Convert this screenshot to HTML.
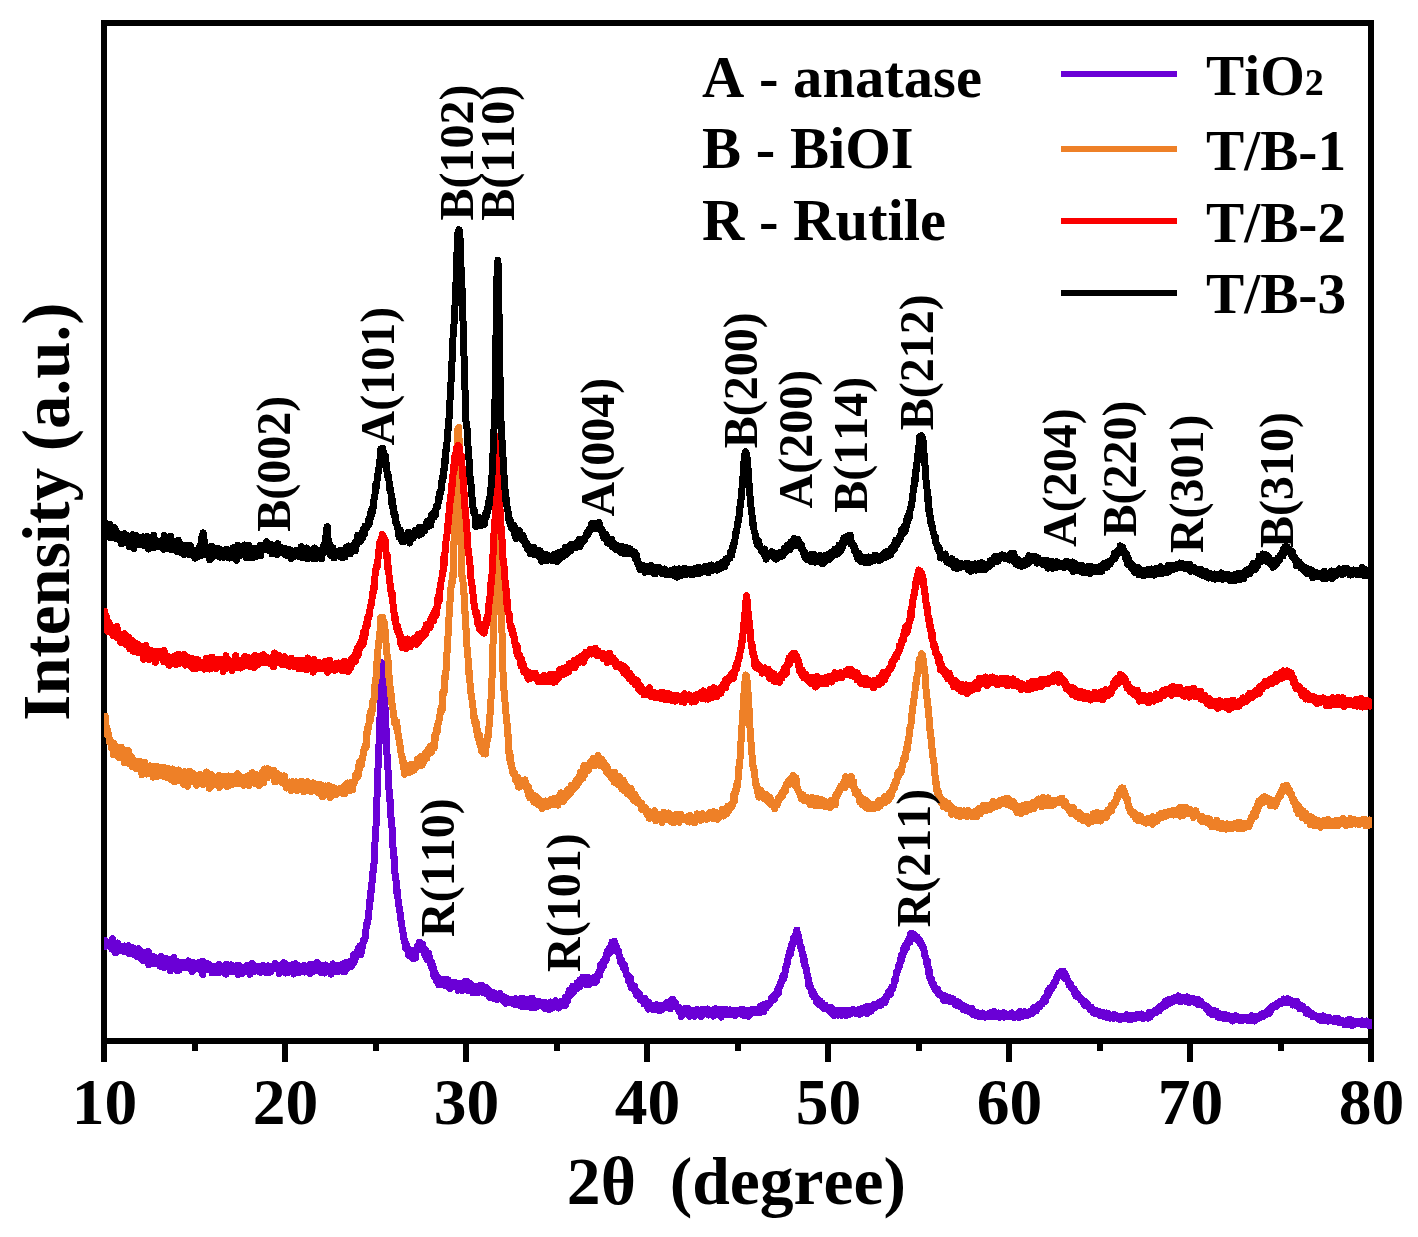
<!DOCTYPE html>
<html><head><meta charset="utf-8"><title>XRD</title>
<style>
html,body{margin:0;padding:0;background:#fff}
svg{display:block}
text{font-family:"Liberation Serif",serif;font-weight:bold;fill:#000;font-kerning:none}
</style></head><body>
<svg width="1418" height="1237" viewBox="0 0 1418 1237">
<rect width="1418" height="1237" fill="#fff"/>
<rect x="104" y="23" width="1267" height="1018" fill="none" stroke="#000" stroke-width="6" shape-rendering="crispEdges"/>
<g stroke="#000" stroke-width="6" shape-rendering="crispEdges"><line x1="104.0" y1="1041" x2="104.0" y2="1062"/><line x1="285.0" y1="1041" x2="285.0" y2="1062"/><line x1="466.0" y1="1041" x2="466.0" y2="1062"/><line x1="647.0" y1="1041" x2="647.0" y2="1062"/><line x1="828.0" y1="1041" x2="828.0" y2="1062"/><line x1="1009.0" y1="1041" x2="1009.0" y2="1062"/><line x1="1190.0" y1="1041" x2="1190.0" y2="1062"/><line x1="1371.0" y1="1041" x2="1371.0" y2="1062"/><line x1="194.5" y1="1041" x2="194.5" y2="1050.5"/><line x1="375.5" y1="1041" x2="375.5" y2="1050.5"/><line x1="556.5" y1="1041" x2="556.5" y2="1050.5"/><line x1="737.5" y1="1041" x2="737.5" y2="1050.5"/><line x1="918.5" y1="1041" x2="918.5" y2="1050.5"/><line x1="1099.5" y1="1041" x2="1099.5" y2="1050.5"/><line x1="1280.5" y1="1041" x2="1280.5" y2="1050.5"/></g>
<clipPath id="cp"><rect x="104" y="26" width="1268" height="1012"/></clipPath>
<g id="curves" shape-rendering="crispEdges" clip-path="url(#cp)">
<polyline fill="none" stroke="#6a00d6" stroke-width="7.0" stroke-linejoin="round" stroke-linecap="butt" points="104.0,944.5 104.4,945.9 104.7,944.7 105.1,940.3 105.4,946.4 105.8,945.2 106.2,942.6 106.5,945.7 106.9,945.3 107.3,945.2 107.6,944.4 108.0,945.9 108.3,942.6 108.7,944.3 109.1,943.5 109.4,946.3 109.8,945.0 110.2,944.2 110.5,943.1 110.9,944.7 111.2,945.4 111.6,944.9 112.0,949.1 112.3,948.5 112.7,938.7 113.0,941.1 113.4,945.9 113.8,945.4 114.1,947.2 114.5,947.2 114.9,952.4 115.2,943.9 115.6,945.9 115.9,952.6 116.3,948.8 116.7,949.1 117.0,946.0 117.4,943.0 117.8,947.9 118.1,947.9 118.5,944.3 118.8,945.9 119.2,947.5 119.6,945.4 119.9,947.8 120.3,948.4 120.7,948.2 121.0,946.9 121.4,949.9 121.7,950.9 122.1,949.5 122.5,946.5 122.8,950.8 123.2,947.6 123.5,951.3 123.9,946.0 124.3,951.5 124.6,949.3 125.0,946.0 125.4,948.7 125.7,949.6 126.1,950.4 126.4,947.1 126.8,946.9 127.2,950.5 127.5,948.8 127.9,950.7 128.3,952.3 128.6,945.8 129.0,951.1 129.3,953.7 129.7,949.8 130.1,948.5 130.4,952.8 130.8,951.5 131.2,953.4 131.5,950.3 131.9,947.4 132.2,951.2 132.6,950.4 133.0,954.0 133.3,952.7 133.7,948.0 134.0,949.3 134.4,955.1 134.8,954.7 135.1,951.3 135.5,953.0 135.9,954.3 136.2,954.5 136.6,955.8 136.9,954.3 137.3,953.5 137.7,953.2 138.0,957.0 138.4,948.6 138.8,954.4 139.1,955.0 139.5,951.3 139.8,956.1 140.2,953.6 140.6,957.5 140.9,955.2 141.3,957.4 141.6,959.0 142.0,956.8 142.4,953.5 142.7,952.0 143.1,960.8 143.5,956.1 143.8,954.8 144.2,957.1 144.5,956.3 144.9,959.4 145.3,957.3 145.6,957.4 146.0,955.5 146.4,958.8 146.7,954.8 147.1,959.5 147.4,962.0 147.8,953.9 148.2,951.6 148.5,959.7 148.9,964.9 149.2,955.6 149.6,955.2 150.0,960.2 150.3,956.5 150.7,957.6 151.1,958.1 151.4,960.5 151.8,958.1 152.1,960.0 152.5,958.7 152.9,957.0 153.2,958.5 153.6,957.0 154.0,959.8 154.3,957.0 154.7,957.1 155.0,964.0 155.4,960.2 155.8,960.2 156.1,962.1 156.5,959.8 156.9,960.5 157.2,962.2 157.6,962.0 157.9,958.3 158.3,963.6 158.7,959.8 159.0,958.7 159.4,959.1 159.7,960.7 160.1,966.1 160.5,958.9 160.8,962.5 161.2,956.6 161.6,962.1 161.9,964.5 162.3,961.6 162.6,960.7 163.0,962.9 163.4,964.5 163.7,964.4 164.1,967.7 164.5,963.0 164.8,961.0 165.2,962.4 165.5,962.5 165.9,963.1 166.3,962.9 166.6,963.5 167.0,958.8 167.3,965.4 167.7,961.8 168.1,960.3 168.4,965.1 168.8,966.8 169.2,964.7 169.5,964.0 169.9,961.3 170.2,970.9 170.6,966.2 171.0,960.8 171.3,961.7 171.7,964.3 172.1,960.1 172.4,964.7 172.8,962.9 173.1,967.5 173.5,966.9 173.9,957.3 174.2,964.7 174.6,960.4 175.0,967.7 175.3,965.2 175.7,966.3 176.0,962.1 176.4,969.7 176.8,970.2 177.1,962.3 177.5,966.0 177.8,963.3 178.2,965.1 178.6,961.9 178.9,970.2 179.3,962.8 179.7,964.6 180.0,966.7 180.4,963.7 180.7,964.8 181.1,963.9 181.5,965.1 181.8,962.4 182.2,964.3 182.6,964.9 182.9,964.7 183.3,965.8 183.6,965.0 184.0,967.7 184.4,964.9 184.7,965.2 185.1,963.9 185.4,964.4 185.8,962.6 186.2,967.2 186.5,962.9 186.9,964.0 187.3,966.9 187.6,967.1 188.0,965.0 188.3,960.9 188.7,967.3 189.1,966.9 189.4,962.5 189.8,968.3 190.2,964.6 190.5,963.4 190.9,966.6 191.2,965.9 191.6,967.1 192.0,962.4 192.3,971.4 192.7,965.2 193.1,962.7 193.4,968.3 193.8,966.0 194.1,967.7 194.5,966.0 194.9,966.7 195.2,967.5 195.6,965.1 195.9,968.7 196.3,965.9 196.7,964.7 197.0,967.2 197.4,968.2 197.8,966.5 198.1,964.9 198.5,968.9 198.8,962.7 199.2,964.7 199.6,967.6 199.9,964.1 200.3,967.7 200.7,967.5 201.0,969.9 201.4,965.1 201.7,966.0 202.1,968.4 202.5,961.2 202.8,974.6 203.2,965.8 203.6,965.8 203.9,969.8 204.3,967.4 204.6,963.1 205.0,969.2 205.4,969.8 205.7,966.5 206.1,966.9 206.4,968.9 206.8,965.3 207.2,968.5 207.5,967.8 207.9,965.6 208.3,963.8 208.6,966.9 209.0,965.2 209.3,970.0 209.7,967.9 210.1,969.6 210.4,968.0 210.8,968.4 211.2,965.9 211.5,969.7 211.9,972.7 212.2,967.3 212.6,966.6 213.0,967.8 213.3,966.9 213.7,966.4 214.0,968.6 214.4,967.6 214.8,972.2 215.1,968.6 215.5,969.4 215.9,971.0 216.2,967.6 216.6,972.2 216.9,966.9 217.3,966.5 217.7,967.7 218.0,968.5 218.4,965.2 218.8,968.7 219.1,964.7 219.5,972.5 219.8,968.8 220.2,967.4 220.6,966.9 220.9,968.2 221.3,968.6 221.6,966.7 222.0,967.1 222.4,968.9 222.7,968.1 223.1,972.0 223.5,972.6 223.8,970.0 224.2,971.2 224.5,966.6 224.9,971.8 225.3,969.9 225.6,971.2 226.0,974.1 226.4,964.1 226.7,970.5 227.1,967.1 227.4,971.4 227.8,966.6 228.2,968.4 228.5,970.2 228.9,971.4 229.3,969.8 229.6,967.5 230.0,968.2 230.3,971.6 230.7,969.2 231.1,964.9 231.4,971.3 231.8,970.1 232.1,971.4 232.5,968.2 232.9,971.2 233.2,966.3 233.6,970.3 234.0,967.6 234.3,970.4 234.7,971.3 235.0,966.9 235.4,968.6 235.8,969.0 236.1,972.0 236.5,970.6 236.9,965.8 237.2,970.2 237.6,970.9 237.9,974.5 238.3,965.0 238.7,967.9 239.0,972.6 239.4,965.8 239.8,966.3 240.1,970.6 240.5,971.9 240.8,967.8 241.2,971.1 241.6,970.0 241.9,973.6 242.3,969.7 242.6,972.0 243.0,967.2 243.4,968.9 243.7,969.1 244.1,972.3 244.5,971.1 244.8,967.6 245.2,971.3 245.5,971.5 245.9,969.1 246.3,968.9 246.6,969.0 247.0,965.3 247.4,969.9 247.7,970.1 248.1,967.2 248.4,971.2 248.8,965.8 249.2,967.9 249.5,968.0 249.9,974.2 250.2,965.4 250.6,970.8 251.0,971.7 251.3,970.1 251.7,972.2 252.1,966.6 252.4,963.4 252.8,971.0 253.1,966.0 253.5,968.3 253.9,965.9 254.2,971.4 254.6,970.8 255.0,966.8 255.3,970.8 255.7,968.9 256.0,968.2 256.4,968.5 256.8,967.6 257.1,969.7 257.5,969.0 257.9,967.4 258.2,970.8 258.6,966.8 258.9,969.2 259.3,969.4 259.7,971.9 260.0,966.9 260.4,972.4 260.7,968.5 261.1,967.5 261.5,966.5 261.8,969.6 262.2,968.2 262.6,965.4 262.9,965.2 263.3,966.5 263.6,966.2 264.0,970.6 264.4,971.5 264.7,970.3 265.1,968.9 265.5,966.9 265.8,968.2 266.2,970.0 266.5,972.9 266.9,970.0 267.3,967.1 267.6,967.9 268.0,966.6 268.3,966.0 268.7,967.4 269.1,968.2 269.4,972.2 269.8,967.9 270.2,971.0 270.5,971.9 270.9,967.6 271.2,971.4 271.6,969.1 272.0,966.2 272.3,967.9 272.7,967.3 273.1,966.6 273.4,966.6 273.8,967.5 274.1,968.2 274.5,965.0 274.9,967.0 275.2,963.4 275.6,967.9 275.9,968.7 276.3,967.5 276.7,967.7 277.0,968.4 277.4,965.5 277.8,966.7 278.1,968.7 278.5,970.1 278.8,968.5 279.2,973.7 279.6,967.4 279.9,970.1 280.3,970.7 280.7,967.3 281.0,965.6 281.4,964.8 281.7,968.2 282.1,970.5 282.5,968.7 282.8,968.3 283.2,966.9 283.6,969.0 283.9,962.7 284.3,968.4 284.6,968.0 285.0,964.7 285.4,973.1 285.7,964.5 286.1,965.3 286.4,965.1 286.8,970.7 287.2,966.0 287.5,969.7 287.9,969.6 288.3,968.9 288.6,965.3 289.0,966.8 289.3,972.2 289.7,965.3 290.1,966.3 290.4,968.1 290.8,970.4 291.2,969.2 291.5,970.4 291.9,966.2 292.2,970.9 292.6,970.0 293.0,964.8 293.3,972.2 293.7,974.0 294.0,966.9 294.4,968.7 294.8,971.8 295.1,965.0 295.5,963.8 295.9,965.5 296.2,967.1 296.6,967.1 296.9,969.7 297.3,968.8 297.7,965.2 298.0,969.6 298.4,972.8 298.8,971.1 299.1,970.6 299.5,968.4 299.8,970.6 300.2,966.1 300.6,970.2 300.9,968.3 301.3,971.1 301.7,969.5 302.0,966.1 302.4,969.0 302.7,971.6 303.1,966.2 303.5,967.5 303.8,967.1 304.2,965.4 304.5,971.1 304.9,972.0 305.3,970.8 305.6,969.4 306.0,968.6 306.4,969.5 306.7,967.3 307.1,970.9 307.4,971.4 307.8,971.1 308.2,967.7 308.5,969.2 308.9,968.6 309.3,973.1 309.6,969.3 310.0,964.7 310.3,969.9 310.7,973.3 311.1,970.6 311.4,970.9 311.8,969.1 312.1,964.5 312.5,964.9 312.9,966.0 313.2,968.6 313.6,969.6 314.0,970.3 314.3,967.9 314.7,971.0 315.0,968.1 315.4,967.3 315.8,970.8 316.1,966.7 316.5,962.7 316.9,966.3 317.2,969.0 317.6,962.6 317.9,968.0 318.3,967.9 318.7,965.3 319.0,965.2 319.4,967.4 319.8,967.3 320.1,971.4 320.5,969.5 320.8,965.1 321.2,966.7 321.6,970.1 321.9,972.9 322.3,969.4 322.6,969.2 323.0,972.5 323.4,968.3 323.7,967.6 324.1,965.1 324.5,967.1 324.8,973.1 325.2,965.1 325.5,968.2 325.9,965.0 326.3,968.5 326.6,970.1 327.0,967.7 327.4,969.9 327.7,969.7 328.1,969.1 328.4,971.8 328.8,969.8 329.2,967.4 329.5,966.5 329.9,966.3 330.2,969.2 330.6,967.4 331.0,974.1 331.3,972.2 331.7,967.7 332.1,967.5 332.4,971.9 332.8,963.9 333.1,967.3 333.5,970.5 333.9,966.5 334.2,967.4 334.6,967.8 335.0,969.9 335.3,969.0 335.7,969.6 336.0,970.2 336.4,969.0 336.8,971.3 337.1,967.4 337.5,965.8 337.9,965.2 338.2,965.5 338.6,968.0 338.9,971.5 339.3,969.6 339.7,967.9 340.0,967.0 340.4,968.1 340.7,968.4 341.1,968.0 341.5,966.1 341.8,968.2 342.2,971.2 342.6,964.2 342.9,968.1 343.3,963.9 343.6,968.7 344.0,966.6 344.4,963.5 344.7,968.2 345.1,971.7 345.5,967.7 345.8,969.8 346.2,966.9 346.5,962.1 346.9,967.7 347.3,965.5 347.6,963.0 348.0,967.7 348.4,966.2 348.7,964.2 349.1,966.8 349.4,962.6 349.8,965.7 350.2,961.9 350.5,964.9 350.9,961.0 351.2,966.4 351.6,963.4 352.0,965.6 352.3,960.2 352.7,960.6 353.1,963.0 353.4,954.8 353.8,958.0 354.1,962.2 354.5,960.4 354.9,960.9 355.2,957.4 355.6,958.7 356.0,955.3 356.3,953.5 356.7,952.3 357.0,954.5 357.4,954.1 357.8,953.5 358.1,948.4 358.5,949.5 358.8,952.3 359.2,953.4 359.6,950.9 359.9,949.6 360.3,945.8 360.7,954.8 361.0,947.1 361.4,952.6 361.7,951.4 362.1,947.5 362.5,944.5 362.8,944.9 363.2,940.7 363.6,942.6 363.9,940.5 364.3,940.2 364.6,939.5 365.0,939.5 365.4,932.9 365.7,934.3 366.1,928.2 366.4,925.7 366.8,924.2 367.2,921.1 367.5,923.2 367.9,920.4 368.3,918.4 368.6,912.6 369.0,910.3 369.3,905.0 369.7,900.4 370.1,901.2 370.4,897.7 370.8,891.5 371.2,892.4 371.5,883.6 371.9,884.2 372.2,879.6 372.6,876.3 373.0,871.2 373.3,871.8 373.7,866.3 374.1,862.9 374.4,854.8 374.8,845.3 375.1,840.9 375.5,831.8 375.9,828.2 376.2,821.8 376.6,810.9 376.9,799.5 377.3,790.7 377.7,782.3 378.0,768.1 378.4,762.3 378.8,752.3 379.1,740.6 379.5,731.2 379.8,723.5 380.2,710.9 380.6,700.7 380.9,695.6 381.3,685.4 381.7,682.0 382.0,668.9 382.4,662.9 382.7,669.5 383.1,671.3 383.5,671.1 383.8,675.4 384.2,687.6 384.6,691.9 384.9,705.5 385.3,710.1 385.6,724.5 386.0,727.6 386.4,740.4 386.7,752.5 387.1,754.8 387.4,764.3 387.8,767.0 388.2,772.5 388.5,776.7 388.9,788.7 389.3,791.2 389.6,800.5 390.0,798.4 390.3,805.8 390.7,811.4 391.1,819.5 391.4,825.8 391.8,825.2 392.2,829.7 392.5,834.0 392.9,846.8 393.2,848.6 393.6,852.1 394.0,858.3 394.3,857.0 394.7,863.3 395.0,873.6 395.4,876.3 395.8,879.5 396.1,880.4 396.5,887.6 396.9,893.5 397.2,890.0 397.6,895.9 397.9,897.9 398.3,902.5 398.7,904.5 399.0,906.7 399.4,907.7 399.8,912.0 400.1,913.0 400.5,916.3 400.8,918.6 401.2,922.5 401.6,922.2 401.9,925.1 402.3,930.6 402.6,930.1 403.0,932.3 403.4,937.0 403.7,937.8 404.1,939.5 404.5,941.7 404.8,940.0 405.2,945.2 405.5,948.3 405.9,947.8 406.3,944.1 406.6,949.0 407.0,947.2 407.4,949.4 407.7,950.8 408.1,948.5 408.4,954.6 408.8,952.1 409.2,954.3 409.5,954.5 409.9,956.4 410.3,956.5 410.6,951.2 411.0,954.7 411.3,950.6 411.7,954.5 412.1,957.3 412.4,957.9 412.8,958.8 413.1,955.0 413.5,956.1 413.9,955.1 414.2,957.0 414.6,957.1 415.0,952.3 415.3,958.2 415.7,951.8 416.0,950.1 416.4,951.3 416.8,950.8 417.1,949.6 417.5,946.3 417.9,950.1 418.2,946.6 418.6,949.2 418.9,948.3 419.3,942.3 419.7,942.6 420.0,942.5 420.4,945.0 420.8,944.8 421.1,945.7 421.5,943.9 421.8,946.9 422.2,949.3 422.6,944.1 422.9,946.9 423.3,948.3 423.6,948.2 424.0,948.7 424.4,953.6 424.7,953.1 425.1,952.8 425.5,950.1 425.8,957.0 426.2,953.7 426.5,952.4 426.9,953.5 427.3,953.9 427.6,960.0 428.0,956.7 428.4,957.1 428.7,953.0 429.1,959.9 429.4,957.0 429.8,957.8 430.2,962.5 430.5,960.4 430.9,965.0 431.2,966.6 431.6,961.6 432.0,966.2 432.3,964.3 432.7,968.6 433.1,971.8 433.4,968.0 433.8,975.8 434.1,972.5 434.5,971.8 434.9,974.9 435.2,977.7 435.6,974.0 436.0,977.8 436.3,975.7 436.7,981.5 437.0,979.9 437.4,979.2 437.8,982.5 438.1,978.0 438.5,980.0 438.8,984.9 439.2,981.0 439.6,984.2 439.9,982.1 440.3,980.4 440.7,981.3 441.0,982.1 441.4,981.3 441.7,980.6 442.1,980.8 442.5,979.6 442.8,983.0 443.2,983.8 443.6,984.6 443.9,979.5 444.3,985.1 444.6,983.4 445.0,980.5 445.4,983.8 445.7,985.4 446.1,985.0 446.5,985.4 446.8,986.0 447.2,985.9 447.5,983.9 447.9,979.8 448.3,982.5 448.6,985.0 449.0,983.2 449.3,985.7 449.7,986.1 450.1,984.5 450.4,988.4 450.8,982.6 451.2,986.6 451.5,983.8 451.9,983.2 452.2,986.1 452.6,983.7 453.0,986.8 453.3,982.8 453.7,985.1 454.1,983.5 454.4,984.7 454.8,984.5 455.1,983.0 455.5,986.7 455.9,982.9 456.2,983.4 456.6,987.3 456.9,987.5 457.3,986.9 457.7,986.3 458.0,990.2 458.4,983.2 458.8,984.2 459.1,983.7 459.5,987.5 459.8,986.4 460.2,988.1 460.6,987.8 460.9,985.4 461.3,984.5 461.7,984.1 462.0,990.7 462.4,988.2 462.7,987.5 463.1,985.7 463.5,986.1 463.8,985.9 464.2,986.0 464.6,981.8 464.9,986.6 465.3,986.0 465.6,987.4 466.0,987.2 466.4,988.4 466.7,986.8 467.1,988.5 467.4,981.8 467.8,984.8 468.2,990.6 468.5,984.8 468.9,986.7 469.3,988.7 469.6,985.4 470.0,988.7 470.3,984.5 470.7,983.6 471.1,984.9 471.4,984.3 471.8,987.6 472.2,987.1 472.5,988.4 472.9,985.7 473.2,993.0 473.6,987.7 474.0,987.8 474.3,988.9 474.7,987.5 475.1,986.8 475.4,988.3 475.8,990.0 476.1,989.5 476.5,990.2 476.9,987.3 477.2,987.0 477.6,992.7 477.9,988.3 478.3,989.9 478.7,990.4 479.0,992.0 479.4,986.6 479.8,988.6 480.1,988.9 480.5,989.4 480.8,985.3 481.2,990.1 481.6,985.1 481.9,991.1 482.3,991.8 482.7,992.0 483.0,988.4 483.4,993.0 483.7,989.3 484.1,988.6 484.5,989.3 484.8,989.7 485.2,991.8 485.5,993.2 485.9,987.6 486.3,991.0 486.6,994.0 487.0,992.7 487.4,993.4 487.7,989.5 488.1,994.5 488.4,989.7 488.8,993.5 489.2,996.0 489.5,997.2 489.9,994.5 490.3,995.5 490.6,992.7 491.0,993.1 491.3,996.7 491.7,994.5 492.1,994.5 492.4,992.1 492.8,995.4 493.1,996.6 493.5,993.8 493.9,994.5 494.2,998.7 494.6,995.9 495.0,995.1 495.3,993.6 495.7,994.7 496.0,995.4 496.4,998.6 496.8,994.8 497.1,999.7 497.5,994.5 497.9,995.7 498.2,998.3 498.6,996.3 498.9,995.2 499.3,996.7 499.7,997.8 500.0,993.7 500.4,996.8 500.8,997.2 501.1,996.7 501.5,998.8 501.8,996.5 502.2,997.1 502.6,998.0 502.9,999.4 503.3,997.6 503.6,1001.3 504.0,996.8 504.4,1001.3 504.7,997.2 505.1,998.7 505.5,999.9 505.8,1003.3 506.2,1001.1 506.5,998.7 506.9,1002.2 507.3,999.4 507.6,998.4 508.0,1000.9 508.4,1000.3 508.7,1002.1 509.1,999.5 509.4,1001.4 509.8,1002.0 510.2,1001.5 510.5,1001.0 510.9,999.8 511.2,1003.1 511.6,1001.7 512.0,1002.6 512.3,1001.0 512.7,1001.8 513.1,999.8 513.4,1002.1 513.8,1003.3 514.1,1002.0 514.5,1003.6 514.9,1002.5 515.2,1004.5 515.6,1001.5 516.0,998.7 516.3,1002.8 516.7,1001.6 517.0,1000.1 517.4,1003.2 517.8,1002.5 518.1,1002.8 518.5,1001.3 518.9,1002.3 519.2,1002.4 519.6,1005.4 519.9,1000.5 520.3,1001.9 520.7,1002.7 521.0,998.7 521.4,999.1 521.7,1006.6 522.1,998.9 522.5,1003.5 522.8,1000.8 523.2,1001.0 523.6,998.6 523.9,1000.7 524.3,1004.2 524.6,999.9 525.0,1003.9 525.4,1003.4 525.7,1006.9 526.1,1002.0 526.5,1005.4 526.8,1004.6 527.2,1002.3 527.5,999.7 527.9,1005.9 528.3,1000.2 528.6,1002.0 529.0,1004.6 529.3,1005.0 529.7,1001.2 530.1,1002.9 530.4,1002.6 530.8,1005.4 531.2,1008.0 531.5,999.6 531.9,1005.0 532.2,998.0 532.6,1003.4 533.0,1001.3 533.3,1007.4 533.7,1003.9 534.1,1002.3 534.4,1003.0 534.8,1002.9 535.1,1004.3 535.5,1003.8 535.9,1005.5 536.2,1007.3 536.6,1005.6 537.0,1001.9 537.3,1001.2 537.7,1002.9 538.0,1006.4 538.4,1003.8 538.8,1003.2 539.1,1004.9 539.5,1001.7 539.8,1002.2 540.2,1005.4 540.6,1003.8 540.9,1003.5 541.3,1005.1 541.7,1003.3 542.0,1003.0 542.4,1003.5 542.7,1005.6 543.1,1004.4 543.5,1002.1 543.8,1003.8 544.2,1005.9 544.6,1008.3 544.9,1002.5 545.3,1005.4 545.6,1004.4 546.0,1006.4 546.4,1005.7 546.7,1007.7 547.1,1006.0 547.5,1004.0 547.8,1004.0 548.2,1005.9 548.5,1005.9 548.9,1009.7 549.3,1008.3 549.6,1002.9 550.0,1005.8 550.3,1002.6 550.7,1002.1 551.1,1006.6 551.4,1006.2 551.8,1003.0 552.2,1008.1 552.5,1003.0 552.9,1002.6 553.2,1006.1 553.6,1005.2 554.0,1004.5 554.3,1004.6 554.7,1005.1 555.1,1004.2 555.4,1004.1 555.8,1000.8 556.1,1001.9 556.5,1005.6 556.9,1003.0 557.2,1005.4 557.6,1006.7 557.9,1003.5 558.3,1004.6 558.7,1008.0 559.0,1005.2 559.4,1007.3 559.8,1006.6 560.1,1005.1 560.5,1003.3 560.8,1001.7 561.2,1001.2 561.6,1004.1 561.9,1003.9 562.3,1002.6 562.7,1004.5 563.0,1001.6 563.4,1004.6 563.7,1002.3 564.1,1002.0 564.5,1001.7 564.8,1001.2 565.2,1005.6 565.5,997.3 565.9,1000.3 566.3,1001.9 566.6,1000.4 567.0,997.9 567.4,1001.3 567.7,995.4 568.1,994.4 568.4,997.3 568.8,992.9 569.2,990.5 569.5,996.2 569.9,995.4 570.3,994.8 570.6,991.8 571.0,992.6 571.3,989.8 571.7,994.4 572.1,992.1 572.4,991.5 572.8,986.1 573.2,991.0 573.5,992.0 573.9,991.1 574.2,989.9 574.6,987.9 575.0,986.9 575.3,988.2 575.7,987.4 576.0,986.7 576.4,985.2 576.8,988.6 577.1,982.8 577.5,984.6 577.9,983.1 578.2,986.0 578.6,986.5 578.9,985.9 579.3,984.7 579.7,980.3 580.0,986.8 580.4,983.8 580.8,982.5 581.1,982.5 581.5,981.8 581.8,983.1 582.2,982.8 582.6,981.4 582.9,977.1 583.3,981.8 583.6,982.8 584.0,982.8 584.4,981.6 584.7,982.7 585.1,983.8 585.5,980.9 585.8,984.5 586.2,977.9 586.5,979.3 586.9,980.0 587.3,977.1 587.6,979.8 588.0,983.9 588.4,983.9 588.7,981.8 589.1,984.7 589.4,981.9 589.8,980.5 590.2,981.8 590.5,981.1 590.9,982.6 591.3,978.4 591.6,983.1 592.0,980.2 592.3,982.6 592.7,978.0 593.1,980.1 593.4,981.0 593.8,982.3 594.1,977.9 594.5,983.0 594.9,980.5 595.2,978.1 595.6,980.9 596.0,978.3 596.3,979.7 596.7,981.4 597.0,977.8 597.4,974.8 597.8,974.4 598.1,975.6 598.5,974.4 598.9,971.5 599.2,971.0 599.6,972.7 599.9,975.2 600.3,965.0 600.7,970.4 601.0,967.9 601.4,969.1 601.8,968.6 602.1,966.5 602.5,963.7 602.8,962.3 603.2,960.9 603.6,966.1 603.9,962.8 604.3,961.3 604.6,961.2 605.0,958.3 605.4,960.5 605.7,961.5 606.1,960.3 606.5,954.4 606.8,958.9 607.2,954.1 607.5,950.9 607.9,951.5 608.3,951.1 608.6,952.1 609.0,949.3 609.4,947.6 609.7,949.1 610.1,952.4 610.4,946.8 610.8,948.3 611.2,947.1 611.5,951.2 611.9,942.3 612.2,947.5 612.6,942.7 613.0,943.9 613.3,944.6 613.7,949.7 614.1,943.2 614.4,941.3 614.8,947.4 615.1,943.8 615.5,945.4 615.9,946.3 616.2,947.1 616.6,947.4 617.0,949.0 617.3,950.2 617.7,952.1 618.0,950.8 618.4,951.2 618.8,951.6 619.1,955.8 619.5,955.8 619.9,958.0 620.2,959.0 620.6,962.2 620.9,960.6 621.3,962.6 621.7,960.0 622.0,961.3 622.4,963.7 622.7,963.0 623.1,967.4 623.5,964.6 623.8,968.1 624.2,964.2 624.6,967.6 624.9,969.7 625.3,970.7 625.6,968.7 626.0,973.1 626.4,975.4 626.7,975.8 627.1,974.1 627.5,975.0 627.8,974.9 628.2,979.0 628.5,981.3 628.9,978.4 629.3,977.1 629.6,981.3 630.0,983.0 630.3,977.4 630.7,983.3 631.1,987.7 631.4,986.0 631.8,986.0 632.2,986.4 632.5,988.2 632.9,985.2 633.2,985.9 633.6,988.8 634.0,987.4 634.3,989.6 634.7,986.1 635.1,991.7 635.4,992.4 635.8,991.4 636.1,992.1 636.5,995.4 636.9,990.9 637.2,991.8 637.6,991.9 637.9,993.8 638.3,993.2 638.7,995.7 639.0,994.9 639.4,993.9 639.8,994.2 640.1,999.6 640.5,997.5 640.8,997.7 641.2,998.5 641.6,998.7 641.9,1000.7 642.3,1000.7 642.7,999.0 643.0,998.8 643.4,998.8 643.7,998.9 644.1,1004.0 644.5,1000.0 644.8,998.2 645.2,1000.6 645.6,1000.9 645.9,1003.1 646.3,1001.1 646.6,1004.0 647.0,1004.0 647.4,1005.8 647.7,1007.7 648.1,1009.1 648.4,1006.8 648.8,1002.4 649.2,1004.0 649.5,1005.5 649.9,1009.0 650.3,1006.6 650.6,1007.7 651.0,1005.2 651.3,1006.8 651.7,1007.2 652.1,1005.2 652.4,1007.7 652.8,1008.5 653.2,1006.4 653.5,1008.7 653.9,1009.9 654.2,1007.2 654.6,1007.2 655.0,1006.8 655.3,1006.3 655.7,1007.7 656.0,1006.7 656.4,1007.0 656.8,1006.3 657.1,1004.8 657.5,1005.8 657.9,1008.1 658.2,1005.3 658.6,1006.5 658.9,1010.5 659.3,1009.5 659.7,1006.2 660.0,1008.5 660.4,1006.2 660.8,1010.2 661.1,1006.1 661.5,1007.2 661.8,1009.4 662.2,1005.2 662.6,1008.9 662.9,1005.0 663.3,1006.8 663.7,1005.7 664.0,1005.9 664.4,1006.2 664.7,1005.6 665.1,1003.9 665.5,1007.2 665.8,1006.9 666.2,1007.7 666.5,1007.7 666.9,1002.7 667.3,1007.3 667.6,1007.2 668.0,1003.7 668.4,1006.3 668.7,1007.0 669.1,1003.3 669.4,1001.7 669.8,1003.5 670.2,1008.8 670.5,1004.3 670.9,1001.6 671.3,1003.3 671.6,1002.0 672.0,1003.0 672.3,1004.0 672.7,999.2 673.1,1004.3 673.4,1006.2 673.8,1003.5 674.1,1003.3 674.5,1006.3 674.9,1002.2 675.2,1002.4 675.6,1002.6 676.0,1005.3 676.3,1006.7 676.7,1006.1 677.0,1007.7 677.4,1008.6 677.8,1008.5 678.1,1006.7 678.5,1008.1 678.9,1011.3 679.2,1007.7 679.6,1009.6 679.9,1009.7 680.3,1010.4 680.7,1009.3 681.0,1009.2 681.4,1016.5 681.8,1013.9 682.1,1011.1 682.5,1012.4 682.8,1013.9 683.2,1012.1 683.6,1013.8 683.9,1011.6 684.3,1012.1 684.6,1012.6 685.0,1012.0 685.4,1008.5 685.7,1012.8 686.1,1013.2 686.5,1013.6 686.8,1010.9 687.2,1013.3 687.5,1013.1 687.9,1009.6 688.3,1008.7 688.6,1013.4 689.0,1010.9 689.4,1014.4 689.7,1016.5 690.1,1011.6 690.4,1011.4 690.8,1012.6 691.2,1013.7 691.5,1010.5 691.9,1014.8 692.2,1014.3 692.6,1013.7 693.0,1011.5 693.3,1014.2 693.7,1014.1 694.1,1010.4 694.4,1016.3 694.8,1012.0 695.1,1013.2 695.5,1011.6 695.9,1013.2 696.2,1014.6 696.6,1011.0 697.0,1009.5 697.3,1011.5 697.7,1009.9 698.0,1010.9 698.4,1011.9 698.8,1012.0 699.1,1014.4 699.5,1010.3 699.9,1012.7 700.2,1011.2 700.6,1014.7 700.9,1016.6 701.3,1012.8 701.7,1015.2 702.0,1011.3 702.4,1009.3 702.7,1009.9 703.1,1009.4 703.5,1010.5 703.8,1011.7 704.2,1014.1 704.6,1013.3 704.9,1012.9 705.3,1011.5 705.6,1010.9 706.0,1012.3 706.4,1012.5 706.7,1012.8 707.1,1013.0 707.5,1012.2 707.8,1009.0 708.2,1010.3 708.5,1010.8 708.9,1015.1 709.3,1011.4 709.6,1013.3 710.0,1014.8 710.4,1012.9 710.7,1011.6 711.1,1011.9 711.4,1010.7 711.8,1013.0 712.2,1014.4 712.5,1013.5 712.9,1013.8 713.2,1013.9 713.6,1016.1 714.0,1011.6 714.3,1013.0 714.7,1014.0 715.1,1014.9 715.4,1008.6 715.8,1011.9 716.1,1012.5 716.5,1011.1 716.9,1014.4 717.2,1013.3 717.6,1012.2 718.0,1010.0 718.3,1010.5 718.7,1011.1 719.0,1013.6 719.4,1010.8 719.8,1009.3 720.1,1010.4 720.5,1011.8 720.8,1015.7 721.2,1017.1 721.6,1011.9 721.9,1014.2 722.3,1015.0 722.7,1014.7 723.0,1012.3 723.4,1010.3 723.7,1011.6 724.1,1009.3 724.5,1012.9 724.8,1013.9 725.2,1009.2 725.6,1012.4 725.9,1013.0 726.3,1014.6 726.6,1014.7 727.0,1013.6 727.4,1011.2 727.7,1011.6 728.1,1014.3 728.4,1011.2 728.8,1012.1 729.2,1014.9 729.5,1012.5 729.9,1009.9 730.3,1011.7 730.6,1013.2 731.0,1011.9 731.3,1014.3 731.7,1014.5 732.1,1011.1 732.4,1011.3 732.8,1012.1 733.2,1010.2 733.5,1013.0 733.9,1012.1 734.2,1013.8 734.6,1011.6 735.0,1011.0 735.3,1015.6 735.7,1011.0 736.1,1011.4 736.4,1011.1 736.8,1011.9 737.1,1010.9 737.5,1012.5 737.9,1011.4 738.2,1012.0 738.6,1013.3 738.9,1013.8 739.3,1013.4 739.7,1011.4 740.0,1013.4 740.4,1012.4 740.8,1012.4 741.1,1009.5 741.5,1013.5 741.8,1012.1 742.2,1015.1 742.6,1013.3 742.9,1010.3 743.3,1009.7 743.7,1014.1 744.0,1010.6 744.4,1013.2 744.7,1011.5 745.1,1015.6 745.5,1012.1 745.8,1014.5 746.2,1014.2 746.5,1011.1 746.9,1011.2 747.3,1014.4 747.6,1011.8 748.0,1010.4 748.4,1013.9 748.7,1016.2 749.1,1011.7 749.4,1014.0 749.8,1011.4 750.2,1014.0 750.5,1011.2 750.9,1013.8 751.3,1012.4 751.6,1011.2 752.0,1011.8 752.3,1010.5 752.7,1009.3 753.1,1009.4 753.4,1011.1 753.8,1009.2 754.2,1011.7 754.5,1011.7 754.9,1011.6 755.2,1009.8 755.6,1010.7 756.0,1010.4 756.3,1012.6 756.7,1009.1 757.0,1009.7 757.4,1009.8 757.8,1009.8 758.1,1008.7 758.5,1008.8 758.9,1011.5 759.2,1008.6 759.6,1011.0 759.9,1012.7 760.3,1011.4 760.7,1005.9 761.0,1010.1 761.4,1009.5 761.8,1009.3 762.1,1005.6 762.5,1009.3 762.8,1006.1 763.2,1010.0 763.6,1009.4 763.9,1011.6 764.3,1006.4 764.6,1004.3 765.0,1008.4 765.4,1008.0 765.7,1005.7 766.1,1008.4 766.5,1007.0 766.8,1003.4 767.2,1004.7 767.5,1004.3 767.9,1004.5 768.3,1004.8 768.6,1003.0 769.0,1003.5 769.4,1004.5 769.7,1003.1 770.1,1002.4 770.4,1002.0 770.8,1001.9 771.2,998.4 771.5,1001.3 771.9,998.9 772.3,1000.2 772.6,997.0 773.0,1000.4 773.3,998.8 773.7,995.5 774.1,997.6 774.4,995.4 774.8,999.1 775.1,996.4 775.5,993.6 775.9,994.8 776.2,993.8 776.6,995.3 777.0,993.3 777.3,992.9 777.7,989.4 778.0,991.8 778.4,993.2 778.8,990.0 779.1,988.1 779.5,987.6 779.9,985.0 780.2,986.0 780.6,983.0 780.9,983.8 781.3,982.3 781.7,980.5 782.0,981.7 782.4,977.2 782.8,978.5 783.1,975.4 783.5,979.4 783.8,978.4 784.2,975.4 784.6,975.9 784.9,972.6 785.3,971.4 785.6,968.7 786.0,966.5 786.4,966.9 786.7,964.4 787.1,963.1 787.5,963.5 787.8,960.6 788.2,956.8 788.5,957.6 788.9,955.2 789.3,954.8 789.6,952.2 790.0,954.8 790.4,954.7 790.7,948.5 791.1,950.0 791.4,948.6 791.8,944.3 792.2,944.9 792.5,945.7 792.9,943.5 793.2,943.3 793.6,937.6 794.0,937.2 794.3,937.8 794.7,937.0 795.1,935.7 795.4,934.5 795.8,934.1 796.1,933.5 796.5,935.2 796.9,930.0 797.2,937.5 797.6,934.6 798.0,933.8 798.3,937.9 798.7,935.7 799.0,939.7 799.4,939.8 799.8,942.9 800.1,944.8 800.5,947.1 800.9,945.9 801.2,947.9 801.6,950.0 801.9,949.4 802.3,954.3 802.7,955.2 803.0,954.4 803.4,959.9 803.7,961.7 804.1,958.7 804.5,963.3 804.8,965.8 805.2,966.6 805.6,965.3 805.9,966.2 806.3,970.0 806.6,971.1 807.0,973.5 807.4,974.9 807.7,977.6 808.1,977.4 808.5,979.6 808.8,985.7 809.2,982.7 809.5,985.5 809.9,986.1 810.3,987.1 810.6,986.5 811.0,989.8 811.3,989.7 811.7,991.9 812.1,994.5 812.4,992.2 812.8,993.8 813.2,991.6 813.5,994.2 813.9,997.1 814.2,995.3 814.6,995.1 815.0,997.1 815.3,996.9 815.7,997.4 816.1,997.7 816.4,1002.0 816.8,998.0 817.1,999.1 817.5,999.3 817.9,1002.7 818.2,1000.7 818.6,1003.7 818.9,1002.2 819.3,1002.3 819.7,1000.5 820.0,1005.1 820.4,1004.4 820.8,1004.5 821.1,1003.9 821.5,1003.8 821.8,1002.6 822.2,1006.4 822.6,1005.6 822.9,1004.8 823.3,1004.6 823.7,1006.1 824.0,1006.0 824.4,1009.0 824.7,1007.8 825.1,1006.0 825.5,1005.3 825.8,1006.8 826.2,1006.1 826.6,1007.8 826.9,1008.6 827.3,1009.1 827.6,1008.9 828.0,1008.2 828.4,1009.7 828.7,1007.6 829.1,1009.0 829.4,1010.6 829.8,1009.9 830.2,1007.6 830.5,1008.0 830.9,1007.5 831.3,1013.0 831.6,1007.9 832.0,1010.2 832.3,1013.6 832.7,1012.5 833.1,1013.0 833.4,1010.4 833.8,1012.5 834.2,1015.7 834.5,1011.6 834.9,1012.5 835.2,1011.5 835.6,1012.1 836.0,1012.9 836.3,1014.6 836.7,1011.1 837.0,1010.4 837.4,1012.8 837.8,1013.2 838.1,1015.1 838.5,1014.1 838.9,1011.9 839.2,1013.9 839.6,1014.8 839.9,1013.6 840.3,1012.6 840.7,1014.3 841.0,1012.5 841.4,1010.2 841.8,1015.2 842.1,1011.1 842.5,1012.6 842.8,1012.7 843.2,1012.6 843.6,1012.5 843.9,1010.7 844.3,1013.7 844.7,1012.8 845.0,1012.8 845.4,1014.5 845.7,1014.7 846.1,1014.9 846.5,1015.7 846.8,1013.5 847.2,1010.3 847.5,1013.0 847.9,1012.7 848.3,1012.8 848.6,1011.8 849.0,1011.4 849.4,1014.0 849.7,1014.1 850.1,1010.9 850.4,1013.3 850.8,1012.2 851.2,1011.9 851.5,1013.6 851.9,1012.3 852.3,1011.6 852.6,1012.5 853.0,1009.3 853.3,1011.4 853.7,1011.6 854.1,1010.0 854.4,1012.4 854.8,1012.4 855.1,1011.0 855.5,1011.6 855.9,1012.8 856.2,1013.3 856.6,1010.5 857.0,1012.1 857.3,1013.2 857.7,1011.4 858.0,1010.3 858.4,1010.2 858.8,1010.9 859.1,1009.6 859.5,1014.3 859.9,1010.2 860.2,1011.6 860.6,1011.2 860.9,1011.7 861.3,1010.0 861.7,1008.7 862.0,1013.1 862.4,1010.4 862.8,1010.6 863.1,1010.8 863.5,1012.3 863.8,1011.5 864.2,1012.1 864.6,1011.5 864.9,1010.3 865.3,1010.4 865.6,1008.9 866.0,1006.9 866.4,1009.5 866.7,1008.1 867.1,1013.5 867.5,1011.8 867.8,1011.1 868.2,1008.3 868.5,1012.2 868.9,1006.4 869.3,1007.0 869.6,1007.6 870.0,1007.2 870.4,1008.7 870.7,1008.6 871.1,1011.1 871.4,1009.7 871.8,1009.9 872.2,1008.5 872.5,1007.5 872.9,1006.5 873.2,1005.0 873.6,1005.8 874.0,1006.4 874.3,1008.2 874.7,1004.3 875.1,1004.7 875.4,1006.9 875.8,1004.9 876.1,1006.9 876.5,1005.5 876.9,1004.8 877.2,1003.8 877.6,1005.6 878.0,1004.5 878.3,1004.5 878.7,1004.2 879.0,1005.2 879.4,1004.8 879.8,1001.9 880.1,1004.0 880.5,1004.6 880.9,1005.2 881.2,1004.7 881.6,1003.5 881.9,1001.1 882.3,1001.3 882.7,1003.5 883.0,1000.8 883.4,1003.0 883.7,1003.0 884.1,999.2 884.5,1001.0 884.8,999.7 885.2,1002.5 885.6,1000.2 885.9,997.7 886.3,998.6 886.6,996.1 887.0,996.8 887.4,996.8 887.7,996.2 888.1,995.9 888.5,993.5 888.8,991.4 889.2,993.1 889.5,991.6 889.9,991.2 890.3,994.8 890.6,992.7 891.0,990.0 891.4,987.5 891.7,987.0 892.1,988.7 892.4,989.1 892.8,986.2 893.2,986.1 893.5,985.5 893.9,985.7 894.2,980.2 894.6,982.2 895.0,981.3 895.3,980.8 895.7,978.7 896.1,975.1 896.4,974.5 896.8,971.5 897.1,972.7 897.5,971.3 897.9,970.4 898.2,966.8 898.6,965.1 899.0,967.8 899.3,964.6 899.7,965.8 900.0,962.8 900.4,959.0 900.8,961.4 901.1,961.0 901.5,957.5 901.8,954.4 902.2,957.3 902.6,955.1 902.9,954.8 903.3,949.3 903.7,953.0 904.0,947.4 904.4,949.2 904.7,950.9 905.1,946.0 905.5,944.9 905.8,946.1 906.2,948.4 906.6,947.4 906.9,943.1 907.3,944.7 907.6,943.3 908.0,942.2 908.4,941.6 908.7,939.4 909.1,940.9 909.4,940.7 909.8,942.6 910.2,939.4 910.5,933.8 910.9,935.3 911.3,937.1 911.6,936.4 912.0,933.4 912.3,935.6 912.7,935.2 913.1,935.7 913.4,935.6 913.8,937.2 914.2,938.2 914.5,937.3 914.9,934.9 915.2,935.5 915.6,936.0 916.0,937.2 916.3,937.0 916.7,937.4 917.1,936.9 917.4,940.0 917.8,940.3 918.1,940.9 918.5,940.0 918.9,941.3 919.2,939.9 919.6,940.3 919.9,941.6 920.3,943.8 920.7,943.3 921.0,942.5 921.4,944.9 921.8,946.0 922.1,946.2 922.5,945.7 922.8,947.4 923.2,947.3 923.6,948.2 923.9,949.7 924.3,952.1 924.7,955.1 925.0,956.2 925.4,956.4 925.7,956.6 926.1,958.5 926.5,960.3 926.8,964.2 927.2,960.3 927.5,966.5 927.9,964.9 928.3,969.5 928.6,973.0 929.0,971.3 929.4,970.7 929.7,977.3 930.1,978.7 930.4,978.2 930.8,980.1 931.2,978.1 931.5,981.9 931.9,983.5 932.3,982.7 932.6,983.0 933.0,985.2 933.3,985.7 933.7,983.7 934.1,987.4 934.4,987.3 934.8,987.1 935.2,989.5 935.5,989.7 935.9,990.0 936.2,988.8 936.6,991.4 937.0,989.2 937.3,991.1 937.7,989.3 938.0,990.0 938.4,993.6 938.8,993.2 939.1,993.9 939.5,995.1 939.9,995.2 940.2,993.7 940.6,995.5 940.9,995.6 941.3,995.2 941.7,996.0 942.0,995.9 942.4,995.7 942.8,996.3 943.1,997.3 943.5,1000.2 943.8,996.2 944.2,998.4 944.6,995.7 944.9,1000.2 945.3,997.7 945.6,998.4 946.0,1000.3 946.4,1000.0 946.7,996.6 947.1,999.7 947.5,998.7 947.8,1000.0 948.2,999.4 948.5,1000.4 948.9,999.8 949.3,999.4 949.6,1001.5 950.0,997.7 950.4,999.5 950.7,998.9 951.1,1000.2 951.4,1000.0 951.8,1000.4 952.2,1000.1 952.5,1000.3 952.9,998.7 953.3,1001.2 953.6,1001.8 954.0,1000.7 954.3,1000.8 954.7,1001.1 955.1,1004.6 955.4,1002.8 955.8,1003.3 956.1,1002.5 956.5,1002.5 956.9,1002.1 957.2,1005.7 957.6,1001.4 958.0,1004.4 958.3,1004.1 958.7,1004.0 959.0,1002.4 959.4,1003.1 959.8,1006.5 960.1,1004.5 960.5,1007.0 960.9,1007.0 961.2,1007.1 961.6,1007.6 961.9,1005.0 962.3,1006.2 962.7,1008.0 963.0,1005.4 963.4,1009.8 963.8,1006.9 964.1,1007.8 964.5,1006.7 964.8,1008.8 965.2,1007.4 965.6,1008.2 965.9,1007.2 966.3,1010.7 966.6,1006.9 967.0,1010.0 967.4,1009.9 967.7,1010.4 968.1,1008.5 968.5,1011.6 968.8,1011.7 969.2,1010.8 969.5,1011.2 969.9,1010.7 970.3,1012.0 970.6,1010.2 971.0,1012.3 971.4,1012.2 971.7,1009.9 972.1,1008.4 972.4,1012.2 972.8,1012.3 973.2,1014.4 973.5,1013.0 973.9,1012.5 974.2,1011.5 974.6,1013.5 975.0,1013.0 975.3,1012.4 975.7,1013.8 976.1,1015.7 976.4,1014.5 976.8,1013.0 977.1,1015.0 977.5,1013.1 977.9,1012.6 978.2,1015.6 978.6,1014.2 979.0,1016.7 979.3,1015.6 979.7,1014.0 980.0,1015.3 980.4,1016.9 980.8,1014.8 981.1,1013.5 981.5,1014.0 981.9,1013.7 982.2,1013.2 982.6,1013.0 982.9,1015.4 983.3,1016.3 983.7,1014.3 984.0,1015.9 984.4,1016.1 984.7,1017.2 985.1,1014.6 985.5,1014.4 985.8,1015.5 986.2,1015.1 986.6,1015.4 986.9,1016.8 987.3,1014.5 987.6,1015.5 988.0,1013.8 988.4,1015.0 988.7,1014.3 989.1,1014.2 989.5,1015.0 989.8,1014.7 990.2,1015.9 990.5,1016.4 990.9,1013.2 991.3,1016.7 991.6,1012.2 992.0,1015.6 992.3,1016.2 992.7,1014.3 993.1,1014.9 993.4,1014.0 993.8,1016.3 994.2,1011.3 994.5,1013.6 994.9,1012.2 995.2,1015.1 995.6,1016.6 996.0,1016.5 996.3,1015.8 996.7,1015.2 997.1,1013.8 997.4,1016.5 997.8,1015.6 998.1,1013.7 998.5,1013.1 998.9,1014.0 999.2,1016.4 999.6,1016.7 999.9,1017.2 1000.3,1013.9 1000.7,1014.5 1001.0,1016.9 1001.4,1015.2 1001.8,1016.0 1002.1,1013.2 1002.5,1014.5 1002.8,1015.0 1003.2,1014.6 1003.6,1014.5 1003.9,1012.9 1004.3,1017.3 1004.7,1015.4 1005.0,1013.1 1005.4,1016.7 1005.7,1015.3 1006.1,1016.2 1006.5,1014.9 1006.8,1014.0 1007.2,1014.1 1007.6,1015.6 1007.9,1016.3 1008.3,1015.9 1008.6,1016.1 1009.0,1016.9 1009.4,1015.7 1009.7,1016.6 1010.1,1016.8 1010.4,1015.6 1010.8,1015.1 1011.2,1014.5 1011.5,1013.4 1011.9,1012.9 1012.3,1016.7 1012.6,1015.0 1013.0,1014.2 1013.3,1017.1 1013.7,1016.3 1014.1,1015.0 1014.4,1016.4 1014.8,1014.6 1015.2,1015.2 1015.5,1017.1 1015.9,1016.1 1016.2,1014.2 1016.6,1015.5 1017.0,1016.1 1017.3,1014.3 1017.7,1013.9 1018.0,1017.0 1018.4,1014.0 1018.8,1012.6 1019.1,1014.6 1019.5,1017.5 1019.9,1015.2 1020.2,1015.6 1020.6,1011.4 1020.9,1013.5 1021.3,1015.8 1021.7,1013.7 1022.0,1015.9 1022.4,1014.8 1022.8,1014.7 1023.1,1016.4 1023.5,1013.5 1023.8,1013.5 1024.2,1014.3 1024.6,1014.4 1024.9,1011.8 1025.3,1015.7 1025.7,1014.4 1026.0,1013.8 1026.4,1014.9 1026.7,1013.4 1027.1,1015.5 1027.5,1013.9 1027.8,1014.6 1028.2,1012.3 1028.5,1013.0 1028.9,1013.7 1029.3,1011.8 1029.6,1012.0 1030.0,1012.7 1030.4,1014.1 1030.7,1013.5 1031.1,1013.5 1031.4,1012.4 1031.8,1013.0 1032.2,1013.7 1032.5,1011.6 1032.9,1011.7 1033.3,1011.6 1033.6,1007.9 1034.0,1010.0 1034.3,1010.6 1034.7,1010.8 1035.1,1009.1 1035.4,1010.6 1035.8,1008.3 1036.2,1008.6 1036.5,1010.8 1036.9,1006.5 1037.2,1007.9 1037.6,1007.4 1038.0,1007.2 1038.3,1006.3 1038.7,1007.5 1039.0,1004.9 1039.4,1004.3 1039.8,1006.4 1040.1,1003.9 1040.5,1005.7 1040.9,1005.0 1041.2,1003.8 1041.6,1003.9 1041.9,1003.7 1042.3,1004.0 1042.7,1002.0 1043.0,1002.1 1043.4,999.9 1043.8,1000.9 1044.1,998.2 1044.5,1000.0 1044.8,998.9 1045.2,1001.7 1045.6,1000.0 1045.9,997.5 1046.3,998.3 1046.6,996.8 1047.0,994.3 1047.4,991.9 1047.7,995.9 1048.1,994.3 1048.5,990.5 1048.8,993.3 1049.2,993.0 1049.5,990.3 1049.9,991.6 1050.3,987.7 1050.6,989.1 1051.0,988.9 1051.4,989.2 1051.7,988.0 1052.1,987.2 1052.4,986.9 1052.8,984.7 1053.2,986.8 1053.5,983.7 1053.9,984.5 1054.2,982.8 1054.6,981.7 1055.0,982.1 1055.3,981.2 1055.7,981.6 1056.1,980.5 1056.4,977.7 1056.8,978.5 1057.1,977.4 1057.5,975.6 1057.9,974.7 1058.2,975.9 1058.6,974.3 1059.0,972.8 1059.3,974.2 1059.7,974.3 1060.0,973.8 1060.4,971.8 1060.8,972.4 1061.1,974.8 1061.5,972.0 1061.9,972.6 1062.2,976.1 1062.6,973.6 1062.9,972.7 1063.3,971.1 1063.7,974.4 1064.0,972.6 1064.4,974.8 1064.7,974.1 1065.1,973.6 1065.5,978.5 1065.8,976.8 1066.2,978.7 1066.6,979.1 1066.9,977.8 1067.3,979.6 1067.6,979.7 1068.0,982.1 1068.4,982.1 1068.7,981.8 1069.1,985.1 1069.5,984.2 1069.8,984.9 1070.2,984.0 1070.5,986.3 1070.9,984.6 1071.3,987.7 1071.6,986.4 1072.0,988.5 1072.3,988.5 1072.7,989.6 1073.1,990.2 1073.4,990.2 1073.8,990.7 1074.2,989.4 1074.5,989.3 1074.9,993.8 1075.2,993.4 1075.6,991.3 1076.0,996.1 1076.3,993.2 1076.7,995.2 1077.1,995.5 1077.4,995.5 1077.8,996.6 1078.1,994.4 1078.5,996.6 1078.9,996.6 1079.2,997.5 1079.6,997.3 1080.0,997.2 1080.3,997.5 1080.7,1000.0 1081.0,998.2 1081.4,1000.1 1081.8,1000.4 1082.1,1000.2 1082.5,1001.2 1082.8,1001.7 1083.2,1000.7 1083.6,1002.2 1083.9,1004.5 1084.3,1001.1 1084.7,1002.4 1085.0,1002.3 1085.4,1006.0 1085.7,1002.0 1086.1,1004.1 1086.5,1005.7 1086.8,1003.8 1087.2,1005.2 1087.6,1004.8 1087.9,1004.4 1088.3,1006.4 1088.6,1007.5 1089.0,1006.7 1089.4,1007.8 1089.7,1008.8 1090.1,1009.8 1090.4,1006.9 1090.8,1009.6 1091.2,1008.3 1091.5,1007.1 1091.9,1008.8 1092.3,1010.9 1092.6,1010.6 1093.0,1009.2 1093.3,1012.9 1093.7,1011.6 1094.1,1011.2 1094.4,1010.7 1094.8,1012.2 1095.2,1011.4 1095.5,1013.5 1095.9,1012.6 1096.2,1013.1 1096.6,1012.0 1097.0,1010.7 1097.3,1013.4 1097.7,1011.6 1098.1,1012.9 1098.4,1013.1 1098.8,1012.3 1099.1,1014.4 1099.5,1011.6 1099.9,1015.4 1100.2,1012.8 1100.6,1014.9 1100.9,1015.5 1101.3,1012.9 1101.7,1013.2 1102.0,1015.5 1102.4,1014.7 1102.8,1014.6 1103.1,1012.3 1103.5,1012.6 1103.8,1015.4 1104.2,1016.8 1104.6,1014.0 1104.9,1013.9 1105.3,1015.3 1105.7,1015.8 1106.0,1016.0 1106.4,1014.8 1106.7,1013.0 1107.1,1017.5 1107.5,1015.1 1107.8,1017.4 1108.2,1013.5 1108.5,1016.5 1108.9,1015.5 1109.3,1014.8 1109.6,1017.5 1110.0,1018.0 1110.4,1015.7 1110.7,1017.3 1111.1,1015.2 1111.4,1015.9 1111.8,1016.5 1112.2,1016.4 1112.5,1017.8 1112.9,1015.6 1113.3,1018.3 1113.6,1018.5 1114.0,1017.0 1114.3,1015.8 1114.7,1014.4 1115.1,1017.3 1115.4,1016.5 1115.8,1017.5 1116.2,1016.0 1116.5,1017.5 1116.9,1017.4 1117.2,1017.5 1117.6,1017.9 1118.0,1018.0 1118.3,1018.9 1118.7,1016.7 1119.0,1018.6 1119.4,1018.0 1119.8,1017.3 1120.1,1016.5 1120.5,1019.5 1120.9,1018.1 1121.2,1017.1 1121.6,1017.8 1121.9,1017.9 1122.3,1017.2 1122.7,1016.2 1123.0,1018.1 1123.4,1017.7 1123.8,1017.6 1124.1,1019.0 1124.5,1016.1 1124.8,1016.5 1125.2,1017.9 1125.6,1018.7 1125.9,1018.3 1126.3,1018.5 1126.7,1014.8 1127.0,1018.1 1127.4,1017.9 1127.7,1018.3 1128.1,1016.6 1128.5,1018.0 1128.8,1018.6 1129.2,1019.3 1129.5,1017.5 1129.9,1015.5 1130.3,1017.2 1130.6,1017.9 1131.0,1017.7 1131.4,1019.4 1131.7,1016.9 1132.1,1015.9 1132.4,1016.3 1132.8,1017.9 1133.2,1016.2 1133.5,1015.9 1133.9,1016.1 1134.3,1018.6 1134.6,1017.4 1135.0,1016.7 1135.3,1018.1 1135.7,1017.9 1136.1,1015.9 1136.4,1018.1 1136.8,1017.4 1137.1,1014.6 1137.5,1015.7 1137.9,1017.4 1138.2,1017.6 1138.6,1016.7 1139.0,1015.8 1139.3,1017.3 1139.7,1014.7 1140.0,1017.6 1140.4,1016.7 1140.8,1016.8 1141.1,1016.1 1141.5,1017.8 1141.9,1013.9 1142.2,1015.7 1142.6,1017.4 1142.9,1015.8 1143.3,1018.4 1143.7,1017.1 1144.0,1015.6 1144.4,1017.8 1144.8,1016.3 1145.1,1017.1 1145.5,1015.5 1145.8,1015.5 1146.2,1017.1 1146.6,1016.3 1146.9,1015.2 1147.3,1015.0 1147.6,1016.9 1148.0,1018.1 1148.4,1014.8 1148.7,1016.5 1149.1,1012.2 1149.5,1013.7 1149.8,1016.1 1150.2,1017.0 1150.5,1015.0 1150.9,1015.3 1151.3,1014.7 1151.6,1015.4 1152.0,1012.6 1152.4,1014.4 1152.7,1012.8 1153.1,1012.7 1153.4,1012.8 1153.8,1012.3 1154.2,1011.3 1154.5,1011.6 1154.9,1010.4 1155.2,1013.0 1155.6,1011.8 1156.0,1010.1 1156.3,1012.3 1156.7,1011.6 1157.1,1010.3 1157.4,1008.8 1157.8,1009.5 1158.1,1009.6 1158.5,1010.3 1158.9,1008.2 1159.2,1007.5 1159.6,1010.7 1160.0,1009.3 1160.3,1007.8 1160.7,1006.1 1161.0,1007.5 1161.4,1007.9 1161.8,1007.3 1162.1,1007.0 1162.5,1005.8 1162.8,1006.9 1163.2,1004.5 1163.6,1004.4 1163.9,1004.0 1164.3,1003.6 1164.7,1006.4 1165.0,1001.7 1165.4,1003.7 1165.7,1002.0 1166.1,1001.4 1166.5,1002.7 1166.8,1000.4 1167.2,1001.8 1167.6,1004.5 1167.9,1001.4 1168.3,1001.9 1168.6,1000.2 1169.0,1001.6 1169.4,999.1 1169.7,1001.0 1170.1,1000.6 1170.5,1003.2 1170.8,1000.4 1171.2,1000.1 1171.5,999.8 1171.9,998.9 1172.3,1001.2 1172.6,1001.9 1173.0,999.7 1173.3,1000.9 1173.7,999.5 1174.1,1000.4 1174.4,1000.4 1174.8,998.2 1175.2,998.9 1175.5,1000.8 1175.9,997.3 1176.2,999.6 1176.6,999.1 1177.0,998.3 1177.3,999.3 1177.7,999.5 1178.1,999.7 1178.4,995.9 1178.8,1001.0 1179.1,998.3 1179.5,1000.1 1179.9,998.6 1180.2,998.1 1180.6,998.7 1181.0,1001.9 1181.3,1000.6 1181.7,998.2 1182.0,998.9 1182.4,999.9 1182.8,999.2 1183.1,998.6 1183.5,998.4 1183.8,997.2 1184.2,999.4 1184.6,999.9 1184.9,1001.3 1185.3,998.1 1185.7,999.5 1186.0,998.7 1186.4,1000.3 1186.7,998.7 1187.1,998.1 1187.5,996.9 1187.8,999.8 1188.2,999.2 1188.6,1000.5 1188.9,998.5 1189.3,1002.4 1189.6,998.5 1190.0,1000.0 1190.4,999.9 1190.7,1000.9 1191.1,999.4 1191.4,998.7 1191.8,998.7 1192.2,1000.9 1192.5,1000.1 1192.9,1000.5 1193.3,999.2 1193.6,1000.4 1194.0,1000.6 1194.3,1001.1 1194.7,998.9 1195.1,999.8 1195.4,1002.9 1195.8,1000.5 1196.2,1001.0 1196.5,1000.7 1196.9,999.6 1197.2,1000.3 1197.6,1002.1 1198.0,1001.1 1198.3,1004.4 1198.7,1000.4 1199.0,999.9 1199.4,1001.9 1199.8,1001.2 1200.1,1004.3 1200.5,1002.3 1200.9,1003.5 1201.2,1001.5 1201.6,1004.1 1201.9,1004.4 1202.3,1005.3 1202.7,1004.4 1203.0,1005.1 1203.4,1005.0 1203.8,1006.2 1204.1,1005.0 1204.5,1006.4 1204.8,1005.4 1205.2,1007.2 1205.6,1006.4 1205.9,1006.3 1206.3,1006.6 1206.7,1009.4 1207.0,1006.3 1207.4,1006.7 1207.7,1009.6 1208.1,1008.1 1208.5,1009.0 1208.8,1009.3 1209.2,1012.9 1209.5,1009.7 1209.9,1009.9 1210.3,1010.6 1210.6,1011.5 1211.0,1012.0 1211.4,1010.0 1211.7,1012.4 1212.1,1014.4 1212.4,1010.3 1212.8,1013.2 1213.2,1013.6 1213.5,1012.9 1213.9,1012.7 1214.3,1010.4 1214.6,1014.6 1215.0,1013.0 1215.3,1013.3 1215.7,1015.1 1216.1,1011.1 1216.4,1013.9 1216.8,1014.8 1217.1,1015.1 1217.5,1015.1 1217.9,1016.9 1218.2,1015.0 1218.6,1016.0 1219.0,1015.9 1219.3,1013.4 1219.7,1014.4 1220.0,1017.9 1220.4,1015.2 1220.8,1015.5 1221.1,1014.3 1221.5,1015.6 1221.9,1014.5 1222.2,1015.4 1222.6,1016.9 1222.9,1015.4 1223.3,1015.8 1223.7,1018.2 1224.0,1017.3 1224.4,1017.5 1224.8,1018.1 1225.1,1016.4 1225.5,1016.7 1225.8,1014.9 1226.2,1018.2 1226.6,1017.2 1226.9,1017.4 1227.3,1016.2 1227.6,1018.2 1228.0,1018.3 1228.4,1017.9 1228.7,1015.8 1229.1,1016.7 1229.5,1017.6 1229.8,1016.8 1230.2,1018.2 1230.5,1019.0 1230.9,1016.9 1231.3,1017.6 1231.6,1017.0 1232.0,1019.0 1232.4,1018.9 1232.7,1021.0 1233.1,1017.9 1233.4,1016.8 1233.8,1018.4 1234.2,1017.7 1234.5,1018.2 1234.9,1019.4 1235.2,1017.7 1235.6,1018.9 1236.0,1015.7 1236.3,1019.4 1236.7,1018.4 1237.1,1018.0 1237.4,1017.6 1237.8,1019.9 1238.1,1017.7 1238.5,1019.7 1238.9,1017.6 1239.2,1018.3 1239.6,1018.6 1240.0,1020.6 1240.3,1018.6 1240.7,1018.6 1241.0,1018.2 1241.4,1018.0 1241.8,1017.7 1242.1,1020.5 1242.5,1020.2 1242.9,1017.8 1243.2,1018.8 1243.6,1017.3 1243.9,1019.7 1244.3,1019.4 1244.7,1018.8 1245.0,1017.8 1245.4,1019.6 1245.7,1019.5 1246.1,1018.6 1246.5,1019.7 1246.8,1017.3 1247.2,1018.2 1247.6,1017.7 1247.9,1018.9 1248.3,1020.6 1248.6,1018.8 1249.0,1020.1 1249.4,1018.7 1249.7,1018.3 1250.1,1019.9 1250.5,1019.4 1250.8,1020.3 1251.2,1019.8 1251.5,1017.7 1251.9,1015.8 1252.3,1018.9 1252.6,1017.4 1253.0,1017.1 1253.3,1017.1 1253.7,1018.0 1254.1,1018.5 1254.4,1018.7 1254.8,1021.0 1255.2,1017.2 1255.5,1018.5 1255.9,1017.0 1256.2,1017.2 1256.6,1018.2 1257.0,1018.6 1257.3,1016.5 1257.7,1019.0 1258.1,1016.5 1258.4,1018.5 1258.8,1017.1 1259.1,1018.1 1259.5,1017.5 1259.9,1016.4 1260.2,1016.9 1260.6,1014.7 1261.0,1014.5 1261.3,1015.3 1261.7,1017.0 1262.0,1014.4 1262.4,1014.4 1262.8,1016.8 1263.1,1014.7 1263.5,1014.4 1263.8,1013.1 1264.2,1014.1 1264.6,1014.4 1264.9,1013.6 1265.3,1014.3 1265.7,1013.6 1266.0,1014.2 1266.4,1013.8 1266.7,1012.4 1267.1,1013.2 1267.5,1014.0 1267.8,1012.1 1268.2,1010.1 1268.6,1011.4 1268.9,1010.7 1269.3,1013.5 1269.6,1011.1 1270.0,1008.6 1270.4,1009.4 1270.7,1011.0 1271.1,1007.8 1271.5,1008.2 1271.8,1008.5 1272.2,1008.0 1272.5,1007.2 1272.9,1007.7 1273.3,1005.7 1273.6,1006.3 1274.0,1006.1 1274.3,1006.1 1274.7,1005.9 1275.1,1006.0 1275.4,1005.4 1275.8,1005.1 1276.2,1005.8 1276.5,1006.2 1276.9,1006.0 1277.2,1003.5 1277.6,1004.8 1278.0,1005.1 1278.3,1003.7 1278.7,1004.3 1279.1,1003.3 1279.4,1003.7 1279.8,1001.4 1280.1,1003.4 1280.5,1002.1 1280.9,1001.7 1281.2,1001.9 1281.6,1003.2 1281.9,1002.9 1282.3,1001.9 1282.7,1002.5 1283.0,1000.9 1283.4,1000.0 1283.8,999.1 1284.1,1001.1 1284.5,1000.9 1284.8,1001.0 1285.2,1000.9 1285.6,1002.1 1285.9,999.8 1286.3,999.9 1286.7,1002.8 1287.0,1001.5 1287.4,1000.4 1287.7,998.5 1288.1,999.8 1288.5,1000.4 1288.8,1000.8 1289.2,1001.0 1289.5,1000.8 1289.9,1002.5 1290.3,999.9 1290.6,1000.9 1291.0,1000.6 1291.4,1002.3 1291.7,1001.8 1292.1,1002.5 1292.4,1001.9 1292.8,1005.0 1293.2,1003.1 1293.5,1001.6 1293.9,1002.6 1294.3,1002.4 1294.6,1003.8 1295.0,1004.2 1295.3,1003.8 1295.7,1003.4 1296.1,1003.1 1296.4,1005.8 1296.8,1005.5 1297.2,1001.6 1297.5,1004.8 1297.9,1004.0 1298.2,1004.8 1298.6,1007.3 1299.0,1004.4 1299.3,1004.7 1299.7,1008.7 1300.0,1005.8 1300.4,1006.2 1300.8,1007.9 1301.1,1006.3 1301.5,1007.0 1301.9,1007.5 1302.2,1009.0 1302.6,1005.9 1302.9,1007.0 1303.3,1008.0 1303.7,1009.4 1304.0,1008.0 1304.4,1009.4 1304.8,1008.6 1305.1,1009.0 1305.5,1011.1 1305.8,1009.7 1306.2,1013.2 1306.6,1011.0 1306.9,1012.1 1307.3,1012.0 1307.6,1009.8 1308.0,1010.1 1308.4,1012.5 1308.7,1011.1 1309.1,1012.1 1309.5,1012.5 1309.8,1012.2 1310.2,1014.7 1310.5,1014.5 1310.9,1014.1 1311.3,1014.8 1311.6,1013.3 1312.0,1015.5 1312.4,1013.8 1312.7,1016.6 1313.1,1014.5 1313.4,1014.8 1313.8,1016.9 1314.2,1016.5 1314.5,1014.9 1314.9,1016.8 1315.3,1016.2 1315.6,1016.4 1316.0,1017.1 1316.3,1017.2 1316.7,1017.8 1317.1,1017.4 1317.4,1017.3 1317.8,1016.9 1318.1,1018.8 1318.5,1016.5 1318.9,1019.5 1319.2,1019.9 1319.6,1020.0 1320.0,1017.6 1320.3,1020.1 1320.7,1019.1 1321.0,1019.1 1321.4,1020.9 1321.8,1018.3 1322.1,1018.8 1322.5,1016.8 1322.9,1015.9 1323.2,1018.7 1323.6,1018.9 1323.9,1019.2 1324.3,1018.9 1324.7,1016.5 1325.0,1019.1 1325.4,1020.0 1325.8,1020.6 1326.1,1018.0 1326.5,1018.1 1326.8,1018.4 1327.2,1018.5 1327.6,1017.6 1327.9,1018.7 1328.3,1021.1 1328.6,1018.4 1329.0,1017.6 1329.4,1019.3 1329.7,1019.2 1330.1,1020.6 1330.5,1019.2 1330.8,1019.9 1331.2,1019.2 1331.5,1019.1 1331.9,1020.6 1332.3,1020.3 1332.6,1020.2 1333.0,1020.9 1333.4,1019.5 1333.7,1020.5 1334.1,1020.7 1334.4,1021.7 1334.8,1018.6 1335.2,1020.3 1335.5,1021.1 1335.9,1020.2 1336.2,1020.9 1336.6,1021.6 1337.0,1021.5 1337.3,1019.2 1337.7,1019.8 1338.1,1018.2 1338.4,1021.8 1338.8,1021.4 1339.1,1022.7 1339.5,1021.4 1339.9,1020.2 1340.2,1022.6 1340.6,1020.1 1341.0,1021.5 1341.3,1021.3 1341.7,1022.4 1342.0,1022.6 1342.4,1021.2 1342.8,1020.9 1343.1,1021.7 1343.5,1021.2 1343.8,1022.9 1344.2,1022.3 1344.6,1023.5 1344.9,1024.8 1345.3,1021.1 1345.7,1021.5 1346.0,1022.6 1346.4,1022.5 1346.7,1021.8 1347.1,1020.4 1347.5,1024.9 1347.8,1022.3 1348.2,1021.0 1348.6,1019.8 1348.9,1023.8 1349.3,1022.8 1349.6,1022.4 1350.0,1021.4 1350.4,1022.4 1350.7,1022.1 1351.1,1019.9 1351.5,1025.4 1351.8,1023.1 1352.2,1022.3 1352.5,1021.6 1352.9,1022.0 1353.3,1025.2 1353.6,1023.1 1354.0,1021.3 1354.3,1023.7 1354.7,1023.3 1355.1,1023.3 1355.4,1022.7 1355.8,1022.7 1356.2,1023.1 1356.5,1022.6 1356.9,1021.3 1357.2,1021.8 1357.6,1022.9 1358.0,1021.2 1358.3,1022.7 1358.7,1022.6 1359.1,1023.7 1359.4,1023.1 1359.8,1022.6 1360.1,1022.6 1360.5,1023.4 1360.9,1024.0 1361.2,1021.9 1361.6,1021.5 1362.0,1022.3 1362.3,1020.7 1362.7,1022.3 1363.0,1024.0 1363.4,1024.1 1363.8,1024.7 1364.1,1023.2 1364.5,1023.3 1364.8,1022.5 1365.2,1022.6 1365.6,1023.5 1365.9,1024.1 1366.3,1023.6 1366.7,1021.0 1367.0,1023.6 1367.4,1023.1 1367.7,1022.5 1368.1,1023.2 1368.5,1024.0 1368.8,1023.2 1369.2,1022.3 1369.6,1025.8 1369.9,1022.4 1370.3,1023.5 1370.6,1024.3 1371.0,1022.2"/>
<polyline fill="none" stroke="#ee8027" stroke-width="7.0" stroke-linejoin="round" stroke-linecap="butt" points="104.0,721.5 104.4,720.1 104.7,721.5 105.1,716.1 105.4,730.6 105.8,729.6 106.2,725.9 106.5,730.6 106.9,730.2 107.3,728.7 107.6,735.0 108.0,732.2 108.3,733.6 108.7,733.8 109.1,739.2 109.4,739.0 109.8,742.4 110.2,739.8 110.5,743.3 110.9,741.3 111.2,747.7 111.6,746.3 112.0,747.6 112.3,748.3 112.7,744.2 113.0,750.2 113.4,754.7 113.8,743.4 114.1,743.4 114.5,744.5 114.9,752.4 115.2,750.4 115.6,753.8 115.9,752.9 116.3,751.1 116.7,751.7 117.0,750.2 117.4,753.6 117.8,747.7 118.1,750.1 118.5,752.2 118.8,757.5 119.2,749.5 119.6,748.8 119.9,750.9 120.3,756.0 120.7,752.3 121.0,757.2 121.4,747.3 121.7,757.2 122.1,757.1 122.5,749.4 122.8,754.6 123.2,758.2 123.5,754.9 123.9,758.1 124.3,762.6 124.6,756.5 125.0,755.1 125.4,753.7 125.7,758.4 126.1,756.1 126.4,756.3 126.8,756.8 127.2,759.4 127.5,754.0 127.9,752.8 128.3,750.4 128.6,762.3 129.0,758.9 129.3,763.6 129.7,759.2 130.1,757.2 130.4,761.4 130.8,759.7 131.2,756.2 131.5,757.7 131.9,766.4 132.2,762.2 132.6,762.7 133.0,761.0 133.3,760.2 133.7,765.4 134.0,762.6 134.4,760.7 134.8,762.9 135.1,760.7 135.5,764.4 135.9,767.7 136.2,761.8 136.6,769.0 136.9,762.7 137.3,765.3 137.7,762.4 138.0,764.5 138.4,765.8 138.8,764.5 139.1,763.7 139.5,763.9 139.8,763.6 140.2,761.6 140.6,765.6 140.9,767.6 141.3,769.6 141.6,769.1 142.0,774.8 142.4,768.4 142.7,766.3 143.1,773.6 143.5,764.4 143.8,770.8 144.2,765.0 144.5,769.2 144.9,762.2 145.3,771.4 145.6,768.1 146.0,765.7 146.4,774.1 146.7,771.5 147.1,769.3 147.4,767.0 147.8,769.2 148.2,769.1 148.5,772.0 148.9,772.2 149.2,767.5 149.6,768.2 150.0,768.3 150.3,765.8 150.7,768.2 151.1,769.8 151.4,772.3 151.8,774.5 152.1,767.9 152.5,772.3 152.9,769.1 153.2,777.1 153.6,770.5 154.0,772.2 154.3,767.7 154.7,768.1 155.0,771.4 155.4,769.7 155.8,771.9 156.1,766.1 156.5,773.2 156.9,768.5 157.2,776.6 157.6,770.5 157.9,775.0 158.3,767.6 158.7,773.3 159.0,769.5 159.4,770.8 159.7,772.4 160.1,771.4 160.5,773.4 160.8,775.2 161.2,775.0 161.6,772.9 161.9,769.1 162.3,771.0 162.6,772.9 163.0,767.0 163.4,776.1 163.7,773.1 164.1,773.1 164.5,776.7 164.8,776.1 165.2,774.8 165.5,770.9 165.9,774.9 166.3,775.1 166.6,771.4 167.0,777.5 167.3,776.1 167.7,768.4 168.1,774.9 168.4,770.5 168.8,778.0 169.2,777.0 169.5,771.1 169.9,771.8 170.2,774.9 170.6,774.1 171.0,779.6 171.3,777.2 171.7,774.2 172.1,776.9 172.4,768.9 172.8,776.4 173.1,778.3 173.5,775.1 173.9,773.4 174.2,777.3 174.6,781.8 175.0,776.4 175.3,772.4 175.7,780.4 176.0,770.4 176.4,777.8 176.8,774.4 177.1,779.1 177.5,773.6 177.8,780.3 178.2,777.0 178.6,770.7 178.9,770.1 179.3,775.2 179.7,780.4 180.0,776.9 180.4,776.7 180.7,775.7 181.1,778.9 181.5,778.2 181.8,778.0 182.2,774.0 182.6,780.8 182.9,781.2 183.3,773.2 183.6,784.2 184.0,779.3 184.4,775.7 184.7,771.6 185.1,779.7 185.4,779.5 185.8,776.0 186.2,772.5 186.5,781.5 186.9,776.3 187.3,776.6 187.6,786.3 188.0,784.5 188.3,781.1 188.7,776.7 189.1,779.9 189.4,771.1 189.8,778.6 190.2,775.9 190.5,774.5 190.9,773.6 191.2,780.1 191.6,778.9 192.0,779.4 192.3,781.4 192.7,776.2 193.1,775.1 193.4,773.7 193.8,778.0 194.1,781.3 194.5,778.6 194.9,781.1 195.2,775.6 195.6,778.0 195.9,777.1 196.3,775.6 196.7,785.2 197.0,782.0 197.4,776.9 197.8,777.0 198.1,779.2 198.5,775.0 198.8,780.7 199.2,775.5 199.6,778.1 199.9,776.2 200.3,777.9 200.7,775.4 201.0,774.6 201.4,776.5 201.7,777.5 202.1,778.7 202.5,779.9 202.8,784.3 203.2,782.2 203.6,778.8 203.9,781.9 204.3,777.6 204.6,784.1 205.0,781.5 205.4,775.9 205.7,782.4 206.1,782.4 206.4,771.9 206.8,777.9 207.2,778.8 207.5,774.5 207.9,777.1 208.3,777.4 208.6,781.9 209.0,781.4 209.3,788.3 209.7,779.3 210.1,784.0 210.4,780.7 210.8,781.3 211.2,777.1 211.5,774.7 211.9,778.2 212.2,782.9 212.6,785.3 213.0,782.3 213.3,781.9 213.7,777.9 214.0,785.0 214.4,784.2 214.8,778.6 215.1,780.1 215.5,777.3 215.9,784.7 216.2,781.5 216.6,780.2 216.9,781.7 217.3,781.9 217.7,779.4 218.0,777.0 218.4,776.8 218.8,775.6 219.1,782.3 219.5,787.5 219.8,775.8 220.2,781.2 220.6,782.2 220.9,778.0 221.3,781.5 221.6,777.8 222.0,784.9 222.4,779.6 222.7,781.5 223.1,783.3 223.5,780.0 223.8,776.1 224.2,779.7 224.5,783.7 224.9,781.0 225.3,781.8 225.6,777.7 226.0,781.3 226.4,783.0 226.7,780.9 227.1,786.6 227.4,780.3 227.8,777.8 228.2,776.0 228.5,784.2 228.9,780.7 229.3,783.8 229.6,782.0 230.0,785.4 230.3,784.4 230.7,779.4 231.1,781.1 231.4,783.4 231.8,776.5 232.1,784.5 232.5,783.8 232.9,783.1 233.2,779.6 233.6,781.2 234.0,776.9 234.3,780.5 234.7,778.5 235.0,780.3 235.4,778.7 235.8,780.8 236.1,783.6 236.5,776.2 236.9,782.8 237.2,774.1 237.6,773.6 237.9,779.8 238.3,780.1 238.7,781.6 239.0,775.4 239.4,779.8 239.8,780.4 240.1,783.7 240.5,779.8 240.8,781.7 241.2,777.2 241.6,779.4 241.9,778.6 242.3,782.1 242.6,777.1 243.0,777.5 243.4,781.7 243.7,785.2 244.1,781.1 244.5,780.8 244.8,779.0 245.2,783.2 245.5,781.5 245.9,784.7 246.3,780.5 246.6,776.7 247.0,778.0 247.4,776.7 247.7,776.1 248.1,783.6 248.4,782.2 248.8,776.2 249.2,785.4 249.5,780.8 249.9,777.1 250.2,781.3 250.6,780.0 251.0,778.0 251.3,774.5 251.7,780.3 252.1,781.2 252.4,772.6 252.8,781.8 253.1,782.0 253.5,779.0 253.9,780.8 254.2,779.7 254.6,778.0 255.0,779.4 255.3,784.0 255.7,775.6 256.0,780.4 256.4,780.1 256.8,777.2 257.1,777.8 257.5,774.8 257.9,776.1 258.2,778.4 258.6,779.0 258.9,775.3 259.3,785.5 259.7,775.7 260.0,777.4 260.4,776.2 260.7,775.6 261.1,780.1 261.5,774.7 261.8,779.7 262.2,778.8 262.6,772.2 262.9,778.2 263.3,773.1 263.6,782.7 264.0,773.7 264.4,771.8 264.7,769.0 265.1,770.6 265.5,772.6 265.8,771.2 266.2,770.5 266.5,771.9 266.9,773.2 267.3,777.8 267.6,768.8 268.0,772.0 268.3,770.7 268.7,769.0 269.1,769.6 269.4,770.7 269.8,775.3 270.2,772.7 270.5,771.7 270.9,774.9 271.2,774.0 271.6,772.4 272.0,774.3 272.3,770.8 272.7,775.2 273.1,774.8 273.4,772.4 273.8,770.2 274.1,778.2 274.5,774.4 274.9,782.0 275.2,772.7 275.6,777.0 275.9,773.6 276.3,776.0 276.7,778.0 277.0,773.4 277.4,775.7 277.8,776.8 278.1,776.9 278.5,778.7 278.8,780.2 279.2,780.1 279.6,778.7 279.9,777.5 280.3,775.6 280.7,777.1 281.0,778.1 281.4,781.7 281.7,779.1 282.1,777.0 282.5,782.5 282.8,778.8 283.2,779.4 283.6,781.4 283.9,783.7 284.3,775.9 284.6,779.9 285.0,783.7 285.4,782.4 285.7,781.4 286.1,782.5 286.4,788.1 286.8,783.3 287.2,786.7 287.5,786.9 287.9,783.5 288.3,785.9 288.6,783.6 289.0,783.4 289.3,782.0 289.7,787.6 290.1,784.2 290.4,784.0 290.8,782.4 291.2,790.5 291.5,787.4 291.9,785.1 292.2,783.8 292.6,781.6 293.0,786.7 293.3,786.7 293.7,781.9 294.0,789.1 294.4,788.1 294.8,783.4 295.1,784.7 295.5,785.0 295.9,786.8 296.2,785.9 296.6,781.9 296.9,790.6 297.3,787.6 297.7,790.1 298.0,790.1 298.4,786.1 298.8,787.6 299.1,788.8 299.5,788.9 299.8,786.3 300.2,785.2 300.6,786.9 300.9,784.6 301.3,785.2 301.7,781.1 302.0,786.9 302.4,783.8 302.7,785.0 303.1,786.4 303.5,787.4 303.8,791.7 304.2,787.2 304.5,782.8 304.9,786.9 305.3,784.9 305.6,787.6 306.0,784.7 306.4,784.7 306.7,785.3 307.1,784.9 307.4,781.7 307.8,784.8 308.2,786.6 308.5,789.9 308.9,786.0 309.3,786.0 309.6,788.4 310.0,788.3 310.3,791.3 310.7,788.6 311.1,787.0 311.4,790.7 311.8,791.3 312.1,785.8 312.5,787.6 312.9,782.9 313.2,786.3 313.6,785.1 314.0,786.8 314.3,786.2 314.7,787.1 315.0,787.3 315.4,789.0 315.8,788.4 316.1,786.6 316.5,784.8 316.9,791.4 317.2,792.0 317.6,787.2 317.9,790.0 318.3,784.5 318.7,784.5 319.0,788.1 319.4,792.7 319.8,786.3 320.1,787.0 320.5,793.6 320.8,784.8 321.2,791.5 321.6,791.2 321.9,789.4 322.3,790.6 322.6,797.0 323.0,787.2 323.4,789.3 323.7,789.5 324.1,788.3 324.5,786.9 324.8,794.5 325.2,791.0 325.5,785.9 325.9,788.9 326.3,791.9 326.6,791.7 327.0,786.9 327.4,790.4 327.7,791.2 328.1,791.6 328.4,791.6 328.8,785.8 329.2,795.4 329.5,791.3 329.9,795.4 330.2,797.6 330.6,790.3 331.0,787.6 331.3,793.0 331.7,790.5 332.1,789.8 332.4,788.4 332.8,795.3 333.1,789.9 333.5,787.4 333.9,789.7 334.2,788.1 334.6,791.4 335.0,790.0 335.3,788.4 335.7,792.6 336.0,789.3 336.4,792.8 336.8,794.1 337.1,790.0 337.5,789.4 337.9,791.5 338.2,793.2 338.6,790.8 338.9,791.0 339.3,790.4 339.7,791.1 340.0,791.9 340.4,788.4 340.7,788.8 341.1,790.1 341.5,788.2 341.8,790.0 342.2,791.0 342.6,789.6 342.9,787.9 343.3,787.4 343.6,793.8 344.0,791.5 344.4,786.2 344.7,786.8 345.1,793.5 345.5,792.4 345.8,788.9 346.2,791.4 346.5,784.5 346.9,788.2 347.3,789.8 347.6,783.0 348.0,785.5 348.4,789.3 348.7,790.0 349.1,785.5 349.4,787.6 349.8,790.7 350.2,785.3 350.5,782.6 350.9,785.5 351.2,784.2 351.6,788.2 352.0,784.9 352.3,782.0 352.7,789.7 353.1,781.8 353.4,783.7 353.8,783.6 354.1,783.3 354.5,781.0 354.9,781.4 355.2,779.1 355.6,774.9 356.0,777.3 356.3,776.4 356.7,775.5 357.0,775.4 357.4,772.5 357.8,776.6 358.1,776.3 358.5,765.8 358.8,770.5 359.2,767.6 359.6,761.7 359.9,768.4 360.3,764.6 360.7,764.2 361.0,762.0 361.4,765.2 361.7,764.1 362.1,760.1 362.5,759.7 362.8,755.9 363.2,755.0 363.6,751.1 363.9,751.5 364.3,748.0 364.6,749.1 365.0,748.6 365.4,745.4 365.7,745.8 366.1,747.8 366.4,733.4 366.8,736.9 367.2,733.3 367.5,731.6 367.9,727.2 368.3,728.8 368.6,726.2 369.0,723.1 369.3,722.0 369.7,719.0 370.1,712.7 370.4,720.4 370.8,715.3 371.2,712.3 371.5,714.3 371.9,710.1 372.2,704.1 372.6,710.1 373.0,700.5 373.3,701.5 373.7,699.1 374.1,699.1 374.4,695.2 374.8,688.7 375.1,682.2 375.5,679.3 375.9,679.3 376.2,676.9 376.6,669.1 376.9,661.5 377.3,662.0 377.7,653.6 378.0,649.2 378.4,645.5 378.8,643.8 379.1,638.8 379.5,637.1 379.8,634.4 380.2,628.9 380.6,617.7 380.9,617.2 381.3,620.7 381.7,618.5 382.0,624.2 382.4,617.4 382.7,617.3 383.1,621.1 383.5,622.9 383.8,620.8 384.2,625.2 384.6,623.0 384.9,626.7 385.3,636.4 385.6,632.4 386.0,642.7 386.4,646.2 386.7,650.9 387.1,655.7 387.4,659.2 387.8,656.0 388.2,663.7 388.5,669.0 388.9,677.5 389.3,676.0 389.6,681.2 390.0,685.9 390.3,694.3 390.7,690.4 391.1,693.9 391.4,702.7 391.8,698.5 392.2,708.1 392.5,708.5 392.9,707.8 393.2,712.9 393.6,713.1 394.0,717.6 394.3,719.3 394.7,723.3 395.0,720.6 395.4,721.9 395.8,721.2 396.1,724.1 396.5,728.2 396.9,721.9 397.2,730.3 397.6,729.3 397.9,732.6 398.3,735.3 398.7,738.9 399.0,739.7 399.4,740.3 399.8,744.4 400.1,745.8 400.5,747.3 400.8,750.7 401.2,754.4 401.6,755.0 401.9,757.7 402.3,757.0 402.6,762.3 403.0,760.0 403.4,767.7 403.7,764.0 404.1,770.3 404.5,774.3 404.8,766.9 405.2,771.3 405.5,769.4 405.9,767.3 406.3,766.7 406.6,770.4 407.0,772.5 407.4,769.8 407.7,765.2 408.1,766.4 408.4,768.3 408.8,772.4 409.2,769.7 409.5,769.9 409.9,772.1 410.3,768.6 410.6,768.8 411.0,768.5 411.3,764.3 411.7,769.7 412.1,769.5 412.4,770.5 412.8,765.1 413.1,765.7 413.5,769.8 413.9,768.0 414.2,770.2 414.6,764.5 415.0,766.8 415.3,764.4 415.7,766.6 416.0,764.3 416.4,766.3 416.8,767.2 417.1,765.8 417.5,759.3 417.9,765.7 418.2,764.1 418.6,760.0 418.9,759.9 419.3,761.8 419.7,762.8 420.0,759.9 420.4,756.7 420.8,761.0 421.1,760.2 421.5,765.5 421.8,756.1 422.2,765.2 422.6,763.1 422.9,759.1 423.3,762.1 423.6,757.9 424.0,760.0 424.4,755.5 424.7,757.2 425.1,754.2 425.5,752.5 425.8,755.4 426.2,754.1 426.5,756.8 426.9,758.2 427.3,754.3 427.6,754.7 428.0,754.4 428.4,749.4 428.7,754.0 429.1,752.9 429.4,752.2 429.8,749.0 430.2,746.3 430.5,750.1 430.9,751.0 431.2,752.7 431.6,751.4 432.0,751.5 432.3,748.0 432.7,749.0 433.1,744.7 433.4,745.7 433.8,745.1 434.1,748.2 434.5,740.6 434.9,735.2 435.2,740.3 435.6,733.5 436.0,733.9 436.3,731.9 436.7,728.9 437.0,732.9 437.4,729.5 437.8,724.7 438.1,724.7 438.5,721.8 438.8,722.9 439.2,718.7 439.6,716.1 439.9,714.6 440.3,713.2 440.7,713.1 441.0,707.9 441.4,708.1 441.7,707.3 442.1,709.9 442.5,703.8 442.8,692.1 443.2,695.2 443.6,692.8 443.9,691.8 444.3,692.0 444.6,686.6 445.0,675.2 445.4,678.4 445.7,673.8 446.1,669.8 446.5,666.1 446.8,652.9 447.2,652.5 447.5,639.0 447.9,637.4 448.3,632.2 448.6,631.6 449.0,617.5 449.3,608.7 449.7,609.1 450.1,599.4 450.4,600.9 450.8,590.0 451.2,584.8 451.5,586.4 451.9,581.2 452.2,582.9 452.6,573.8 453.0,578.7 453.3,563.8 453.7,555.8 454.1,537.7 454.4,523.2 454.8,514.1 455.1,502.7 455.5,494.4 455.9,478.5 456.2,468.1 456.6,457.4 456.9,455.1 457.3,435.8 457.7,437.0 458.0,428.3 458.4,427.7 458.8,427.3 459.1,442.4 459.5,449.7 459.8,468.9 460.2,494.3 460.6,513.6 460.9,540.3 461.3,558.6 461.7,565.3 462.0,577.0 462.4,576.0 462.7,579.9 463.1,582.8 463.5,593.1 463.8,592.3 464.2,594.5 464.6,599.9 464.9,612.8 465.3,611.7 465.6,622.5 466.0,629.5 466.4,629.4 466.7,640.3 467.1,649.3 467.4,652.3 467.8,653.6 468.2,662.1 468.5,665.8 468.9,674.1 469.3,671.5 469.6,677.2 470.0,682.9 470.3,686.6 470.7,691.0 471.1,694.2 471.4,696.1 471.8,696.9 472.2,702.6 472.5,703.3 472.9,706.8 473.2,710.7 473.6,715.8 474.0,718.8 474.3,716.1 474.7,721.4 475.1,724.3 475.4,723.9 475.8,721.4 476.1,721.7 476.5,730.4 476.9,732.0 477.2,731.7 477.6,729.8 477.9,737.6 478.3,738.6 478.7,736.7 479.0,737.8 479.4,735.0 479.8,743.3 480.1,738.8 480.5,745.8 480.8,747.1 481.2,746.7 481.6,751.5 481.9,747.7 482.3,750.9 482.7,752.0 483.0,751.0 483.4,749.7 483.7,753.8 484.1,751.7 484.5,749.9 484.8,749.6 485.2,749.5 485.5,754.1 485.9,747.7 486.3,745.8 486.6,742.3 487.0,740.2 487.4,736.5 487.7,739.8 488.1,736.9 488.4,731.3 488.8,726.8 489.2,726.0 489.5,721.3 489.9,714.4 490.3,713.3 490.6,706.9 491.0,699.5 491.3,694.0 491.7,681.6 492.1,677.2 492.4,660.1 492.8,652.8 493.1,640.3 493.5,624.7 493.9,620.2 494.2,606.3 494.6,586.1 495.0,567.8 495.3,542.7 495.7,522.6 496.0,497.9 496.4,479.1 496.8,461.6 497.1,449.9 497.5,444.8 497.9,445.3 498.2,452.6 498.6,473.0 498.9,477.4 499.3,501.1 499.7,524.9 500.0,543.5 500.4,566.4 500.8,582.7 501.1,595.1 501.5,613.3 501.8,622.9 502.2,641.1 502.6,653.6 502.9,668.2 503.3,681.6 503.6,686.9 504.0,690.2 504.4,697.3 504.7,697.9 505.1,703.1 505.5,707.4 505.8,711.3 506.2,715.8 506.5,715.4 506.9,721.7 507.3,728.2 507.6,735.2 508.0,733.6 508.4,744.2 508.7,752.8 509.1,750.9 509.4,756.6 509.8,760.3 510.2,755.6 510.5,761.7 510.9,764.6 511.2,765.6 511.6,763.3 512.0,769.2 512.3,768.4 512.7,773.0 513.1,773.2 513.4,772.0 513.8,774.5 514.1,773.5 514.5,774.3 514.9,773.1 515.2,776.9 515.6,780.1 516.0,779.1 516.3,779.3 516.7,778.5 517.0,779.2 517.4,782.5 517.8,777.5 518.1,786.2 518.5,781.5 518.9,787.1 519.2,784.9 519.6,781.3 519.9,784.1 520.3,783.3 520.7,783.8 521.0,784.8 521.4,781.8 521.7,781.6 522.1,782.1 522.5,780.1 522.8,782.9 523.2,784.2 523.6,784.2 523.9,784.3 524.3,783.1 524.6,786.2 525.0,779.9 525.4,784.0 525.7,784.5 526.1,787.9 526.5,787.9 526.8,789.0 527.2,788.0 527.5,791.0 527.9,787.3 528.3,790.8 528.6,786.7 529.0,796.7 529.3,797.4 529.7,793.3 530.1,793.6 530.4,791.6 530.8,793.6 531.2,798.2 531.5,798.1 531.9,795.7 532.2,798.1 532.6,797.9 533.0,800.6 533.3,801.5 533.7,799.5 534.1,800.5 534.4,800.3 534.8,795.7 535.1,801.2 535.5,800.8 535.9,802.9 536.2,797.0 536.6,803.0 537.0,799.9 537.3,802.1 537.7,804.4 538.0,798.2 538.4,798.9 538.8,804.4 539.1,799.7 539.5,800.2 539.8,804.1 540.2,802.4 540.6,804.9 540.9,803.8 541.3,803.2 541.7,805.6 542.0,808.4 542.4,803.2 542.7,806.8 543.1,806.0 543.5,803.7 543.8,804.5 544.2,801.3 544.6,802.1 544.9,804.2 545.3,803.5 545.6,806.9 546.0,800.9 546.4,803.0 546.7,802.2 547.1,803.2 547.5,806.3 547.8,801.0 548.2,805.6 548.5,802.3 548.9,802.8 549.3,805.8 549.6,802.9 550.0,804.9 550.3,803.7 550.7,802.9 551.1,802.4 551.4,799.3 551.8,801.5 552.2,803.5 552.5,803.4 552.9,799.4 553.2,804.9 553.6,803.8 554.0,799.5 554.3,800.1 554.7,803.5 555.1,798.1 555.4,800.1 555.8,801.7 556.1,801.2 556.5,801.2 556.9,802.0 557.2,799.0 557.6,799.6 557.9,805.1 558.3,797.0 558.7,799.1 559.0,800.2 559.4,798.3 559.8,802.4 560.1,799.5 560.5,800.7 560.8,792.9 561.2,801.2 561.6,800.9 561.9,796.3 562.3,800.8 562.7,798.2 563.0,799.5 563.4,801.3 563.7,797.1 564.1,794.3 564.5,796.4 564.8,793.2 565.2,794.0 565.5,793.7 565.9,793.7 566.3,797.6 566.6,796.3 567.0,792.0 567.4,796.3 567.7,789.6 568.1,791.6 568.4,792.4 568.8,794.9 569.2,793.4 569.5,792.4 569.9,794.0 570.3,792.4 570.6,793.3 571.0,788.0 571.3,785.6 571.7,788.3 572.1,790.6 572.4,789.0 572.8,789.9 573.2,789.1 573.5,788.2 573.9,788.2 574.2,784.5 574.6,788.1 575.0,783.0 575.3,784.5 575.7,781.1 576.0,785.1 576.4,780.0 576.8,786.1 577.1,779.3 577.5,782.2 577.9,780.5 578.2,778.4 578.6,782.6 578.9,778.2 579.3,781.8 579.7,775.6 580.0,775.4 580.4,772.3 580.8,777.3 581.1,777.7 581.5,775.5 581.8,774.1 582.2,771.8 582.6,778.5 582.9,774.4 583.3,768.2 583.6,771.1 584.0,765.5 584.4,774.4 584.7,775.0 585.1,773.6 585.5,769.9 585.8,768.4 586.2,766.3 586.5,770.3 586.9,767.0 587.3,767.4 587.6,766.4 588.0,766.7 588.4,769.0 588.7,770.3 589.1,766.5 589.4,765.8 589.8,762.8 590.2,762.3 590.5,762.2 590.9,766.3 591.3,764.3 591.6,765.6 592.0,764.1 592.3,761.9 592.7,759.7 593.1,761.3 593.4,758.5 593.8,765.9 594.1,761.8 594.5,760.3 594.9,765.4 595.2,760.0 595.6,762.0 596.0,760.1 596.3,761.3 596.7,759.5 597.0,761.4 597.4,763.5 597.8,757.4 598.1,755.5 598.5,763.5 598.9,760.9 599.2,762.6 599.6,760.2 599.9,764.5 600.3,765.4 600.7,759.1 601.0,763.5 601.4,760.9 601.8,759.0 602.1,762.2 602.5,764.5 602.8,760.8 603.2,761.3 603.6,767.5 603.9,765.2 604.3,766.6 604.6,763.6 605.0,765.3 605.4,767.5 605.7,768.0 606.1,768.4 606.5,772.4 606.8,769.9 607.2,766.5 607.5,768.4 607.9,770.8 608.3,774.1 608.6,770.4 609.0,771.6 609.4,772.9 609.7,771.8 610.1,771.9 610.4,773.6 610.8,776.7 611.2,775.9 611.5,774.6 611.9,776.5 612.2,773.2 612.6,778.7 613.0,778.4 613.3,777.8 613.7,773.8 614.1,782.2 614.4,772.2 614.8,776.1 615.1,776.7 615.5,780.6 615.9,776.1 616.2,780.0 616.6,779.4 617.0,779.3 617.3,782.3 617.7,783.9 618.0,781.7 618.4,780.5 618.8,776.3 619.1,784.9 619.5,781.2 619.9,778.0 620.2,782.7 620.6,786.0 620.9,782.8 621.3,780.8 621.7,788.8 622.0,785.4 622.4,785.1 622.7,786.9 623.1,780.0 623.5,785.0 623.8,785.2 624.2,791.0 624.6,785.1 624.9,785.5 625.3,784.0 625.6,785.7 626.0,787.5 626.4,789.0 626.7,788.4 627.1,793.7 627.5,790.7 627.8,791.5 628.2,793.4 628.5,792.1 628.9,790.0 629.3,788.0 629.6,792.7 630.0,790.4 630.3,795.5 630.7,791.3 631.1,788.7 631.4,794.2 631.8,796.9 632.2,794.4 632.5,795.7 632.9,796.0 633.2,799.8 633.6,797.1 634.0,796.7 634.3,795.9 634.7,794.0 635.1,801.2 635.4,801.1 635.8,796.8 636.1,800.7 636.5,800.5 636.9,799.5 637.2,800.0 637.6,802.8 637.9,798.8 638.3,800.7 638.7,802.1 639.0,802.5 639.4,802.4 639.8,803.8 640.1,804.9 640.5,802.3 640.8,805.0 641.2,804.1 641.6,809.3 641.9,803.2 642.3,806.2 642.7,808.9 643.0,807.1 643.4,807.5 643.7,807.6 644.1,809.9 644.5,807.1 644.8,810.1 645.2,810.4 645.6,808.0 645.9,812.3 646.3,811.0 646.6,813.2 647.0,814.9 647.4,814.1 647.7,811.0 648.1,814.6 648.4,810.7 648.8,812.6 649.2,818.1 649.5,814.7 649.9,818.2 650.3,814.4 650.6,814.9 651.0,812.5 651.3,817.1 651.7,814.6 652.1,816.5 652.4,816.1 652.8,816.4 653.2,815.9 653.5,815.1 653.9,815.3 654.2,813.9 654.6,810.8 655.0,816.5 655.3,820.1 655.7,818.1 656.0,820.9 656.4,817.0 656.8,813.9 657.1,814.0 657.5,817.9 657.9,817.2 658.2,816.1 658.6,818.2 658.9,814.7 659.3,818.0 659.7,816.3 660.0,817.2 660.4,819.6 660.8,816.8 661.1,820.1 661.5,819.9 661.8,815.4 662.2,822.3 662.6,814.6 662.9,817.2 663.3,818.9 663.7,812.4 664.0,819.6 664.4,819.8 664.7,817.1 665.1,817.9 665.5,817.7 665.8,816.9 666.2,819.7 666.5,816.5 666.9,817.1 667.3,818.0 667.6,819.2 668.0,819.8 668.4,814.2 668.7,813.0 669.1,817.2 669.4,817.6 669.8,815.3 670.2,818.4 670.5,819.1 670.9,818.6 671.3,821.3 671.6,815.6 672.0,817.9 672.3,822.3 672.7,819.5 673.1,815.6 673.4,818.4 673.8,820.6 674.1,822.6 674.5,819.5 674.9,820.7 675.2,815.8 675.6,817.6 676.0,820.8 676.3,816.1 676.7,818.0 677.0,814.1 677.4,821.4 677.8,817.8 678.1,819.4 678.5,815.0 678.9,815.5 679.2,822.3 679.6,817.8 679.9,817.4 680.3,819.9 680.7,819.9 681.0,814.5 681.4,816.7 681.8,819.0 682.1,819.0 682.5,819.8 682.8,818.2 683.2,818.7 683.6,819.7 683.9,817.9 684.3,817.7 684.6,818.2 685.0,819.5 685.4,819.1 685.7,818.5 686.1,819.1 686.5,819.6 686.8,820.3 687.2,820.4 687.5,816.8 687.9,821.7 688.3,816.2 688.6,820.9 689.0,818.3 689.4,821.0 689.7,822.0 690.1,815.6 690.4,820.9 690.8,820.0 691.2,818.5 691.5,820.2 691.9,818.2 692.2,819.4 692.6,816.8 693.0,820.8 693.3,820.3 693.7,820.5 694.1,817.4 694.4,822.7 694.8,822.9 695.1,818.4 695.5,817.5 695.9,817.5 696.2,819.7 696.6,820.4 697.0,816.6 697.3,813.8 697.7,819.1 698.0,817.9 698.4,818.5 698.8,819.1 699.1,815.5 699.5,818.0 699.9,817.1 700.2,818.6 700.6,820.3 700.9,817.6 701.3,815.8 701.7,820.2 702.0,819.0 702.4,817.1 702.7,813.5 703.1,815.4 703.5,817.6 703.8,818.5 704.2,816.1 704.6,818.2 704.9,815.8 705.3,816.3 705.6,818.2 706.0,816.3 706.4,817.2 706.7,818.8 707.1,819.3 707.5,815.7 707.8,816.5 708.2,814.3 708.5,814.1 708.9,817.4 709.3,815.6 709.6,812.8 710.0,817.8 710.4,814.8 710.7,816.0 711.1,817.5 711.4,817.5 711.8,816.5 712.2,812.3 712.5,817.6 712.9,815.0 713.2,813.2 713.6,811.5 714.0,818.9 714.3,816.4 714.7,816.3 715.1,817.3 715.4,815.7 715.8,812.6 716.1,817.2 716.5,817.8 716.9,816.7 717.2,818.9 717.6,819.5 718.0,813.7 718.3,814.4 718.7,817.1 719.0,815.4 719.4,815.3 719.8,816.6 720.1,816.2 720.5,813.5 720.8,814.6 721.2,812.8 721.6,813.7 721.9,811.5 722.3,809.5 722.7,812.4 723.0,812.0 723.4,814.9 723.7,816.1 724.1,812.5 724.5,813.2 724.8,810.6 725.2,809.8 725.6,810.9 725.9,810.5 726.3,811.5 726.6,810.7 727.0,813.9 727.4,809.6 727.7,806.3 728.1,809.8 728.4,807.8 728.8,809.3 729.2,810.7 729.5,806.6 729.9,807.3 730.3,808.1 730.6,804.6 731.0,806.5 731.3,806.7 731.7,806.7 732.1,806.6 732.4,804.7 732.8,803.3 733.2,798.7 733.5,795.0 733.9,797.5 734.2,801.5 734.6,797.2 735.0,790.8 735.3,793.2 735.7,793.2 736.1,786.6 736.4,789.9 736.8,784.2 737.1,786.6 737.5,781.9 737.9,785.1 738.2,773.4 738.6,773.9 738.9,766.4 739.3,768.4 739.7,762.1 740.0,759.4 740.4,753.0 740.8,744.7 741.1,740.4 741.5,733.2 741.8,727.6 742.2,724.1 742.6,719.6 742.9,712.6 743.3,705.2 743.7,696.5 744.0,693.1 744.4,684.6 744.7,682.8 745.1,681.0 745.5,676.6 745.8,675.0 746.2,675.3 746.5,679.7 746.9,680.2 747.3,681.4 747.6,688.5 748.0,692.1 748.4,703.9 748.7,706.3 749.1,708.8 749.4,718.7 749.8,725.5 750.2,730.3 750.5,734.0 750.9,740.3 751.3,745.5 751.6,751.8 752.0,754.7 752.3,762.8 752.7,761.0 753.1,768.2 753.4,768.0 753.8,767.2 754.2,771.0 754.5,772.1 754.9,774.7 755.2,783.0 755.6,780.9 756.0,785.5 756.3,783.9 756.7,787.3 757.0,786.3 757.4,791.4 757.8,790.1 758.1,790.4 758.5,791.7 758.9,797.1 759.2,793.8 759.6,795.0 759.9,791.0 760.3,792.3 760.7,794.4 761.0,790.1 761.4,797.0 761.8,795.0 762.1,794.4 762.5,794.1 762.8,794.2 763.2,793.9 763.6,797.9 763.9,796.6 764.3,797.9 764.6,795.1 765.0,794.3 765.4,799.3 765.7,794.4 766.1,795.9 766.5,799.0 766.8,800.3 767.2,795.7 767.5,798.4 767.9,799.7 768.3,799.8 768.6,798.8 769.0,802.3 769.4,800.2 769.7,801.3 770.1,797.6 770.4,802.4 770.8,798.9 771.2,804.8 771.5,804.7 771.9,803.0 772.3,804.7 772.6,804.8 773.0,804.5 773.3,805.7 773.7,805.1 774.1,804.6 774.4,804.0 774.8,808.9 775.1,805.7 775.5,804.9 775.9,806.1 776.2,803.4 776.6,803.0 777.0,804.7 777.3,804.9 777.7,803.7 778.0,798.8 778.4,801.2 778.8,800.4 779.1,800.7 779.5,797.3 779.9,796.4 780.2,797.5 780.6,795.3 780.9,794.4 781.3,795.7 781.7,797.2 782.0,794.9 782.4,796.4 782.8,791.5 783.1,794.5 783.5,792.4 783.8,790.1 784.2,790.3 784.6,788.7 784.9,789.3 785.3,787.4 785.6,790.6 786.0,786.6 786.4,783.7 786.7,785.4 787.1,785.8 787.5,783.7 787.8,785.5 788.2,781.2 788.5,780.6 788.9,785.0 789.3,781.1 789.6,781.6 790.0,781.0 790.4,780.8 790.7,779.2 791.1,778.4 791.4,780.8 791.8,777.5 792.2,778.6 792.5,779.7 792.9,777.6 793.2,775.6 793.6,779.9 794.0,781.6 794.3,780.4 794.7,777.2 795.1,782.4 795.4,785.7 795.8,779.5 796.1,778.0 796.5,783.8 796.9,785.5 797.2,788.0 797.6,789.2 798.0,788.8 798.3,790.7 798.7,791.3 799.0,791.9 799.4,792.5 799.8,793.2 800.1,795.8 800.5,796.0 800.9,795.1 801.2,798.8 801.6,795.8 801.9,797.3 802.3,798.4 802.7,794.6 803.0,797.9 803.4,800.5 803.7,800.7 804.1,797.0 804.5,797.8 804.8,797.3 805.2,799.2 805.6,799.7 805.9,797.1 806.3,801.0 806.6,800.6 807.0,800.5 807.4,799.5 807.7,800.7 808.1,797.7 808.5,801.8 808.8,801.9 809.2,801.5 809.5,799.6 809.9,804.6 810.3,804.5 810.6,798.7 811.0,803.4 811.3,802.8 811.7,797.5 812.1,803.7 812.4,804.1 812.8,804.2 813.2,803.1 813.5,801.5 813.9,801.9 814.2,803.9 814.6,805.2 815.0,801.9 815.3,802.3 815.7,804.3 816.1,798.6 816.4,803.7 816.8,802.3 817.1,798.5 817.5,804.3 817.9,801.1 818.2,804.4 818.6,805.5 818.9,800.5 819.3,800.7 819.7,802.9 820.0,799.6 820.4,804.5 820.8,803.5 821.1,805.1 821.5,799.6 821.8,803.5 822.2,804.1 822.6,799.9 822.9,805.1 823.3,800.6 823.7,803.6 824.0,800.8 824.4,804.8 824.7,806.4 825.1,803.2 825.5,803.1 825.8,805.7 826.2,802.3 826.6,803.3 826.9,804.8 827.3,804.1 827.6,806.3 828.0,805.6 828.4,807.0 828.7,803.2 829.1,805.5 829.4,801.8 829.8,805.0 830.2,806.5 830.5,807.6 830.9,800.6 831.3,802.8 831.6,804.4 832.0,801.4 832.3,804.1 832.7,804.1 833.1,802.0 833.4,801.6 833.8,800.5 834.2,802.4 834.5,803.7 834.9,801.1 835.2,805.0 835.6,796.1 836.0,796.9 836.3,798.4 836.7,793.9 837.0,795.8 837.4,795.8 837.8,793.6 838.1,792.0 838.5,793.5 838.9,791.6 839.2,791.5 839.6,790.6 839.9,787.8 840.3,786.5 840.7,787.5 841.0,788.1 841.4,786.8 841.8,788.5 842.1,786.6 842.5,787.4 842.8,785.3 843.2,783.3 843.6,785.8 843.9,784.7 844.3,781.6 844.7,782.0 845.0,787.7 845.4,776.7 845.7,784.1 846.1,781.8 846.5,781.4 846.8,780.5 847.2,779.8 847.5,785.1 847.9,779.5 848.3,779.6 848.6,781.6 849.0,780.7 849.4,779.5 849.7,779.4 850.1,777.6 850.4,782.6 850.8,778.8 851.2,776.6 851.5,783.9 851.9,784.0 852.3,783.7 852.6,782.7 853.0,786.7 853.3,782.9 853.7,781.5 854.1,786.8 854.4,789.0 854.8,789.5 855.1,793.1 855.5,791.6 855.9,790.3 856.2,791.1 856.6,794.2 857.0,793.2 857.3,793.9 857.7,791.5 858.0,795.0 858.4,793.8 858.8,797.3 859.1,797.7 859.5,799.3 859.9,802.0 860.2,798.5 860.6,802.1 860.9,797.4 861.3,800.2 861.7,802.2 862.0,804.5 862.4,798.9 862.8,801.1 863.1,802.1 863.5,802.0 863.8,800.7 864.2,799.6 864.6,800.7 864.9,803.3 865.3,801.1 865.6,807.5 866.0,806.7 866.4,800.8 866.7,803.9 867.1,807.8 867.5,808.2 867.8,807.6 868.2,802.8 868.5,805.0 868.9,808.5 869.3,806.4 869.6,805.4 870.0,807.4 870.4,808.4 870.7,806.9 871.1,807.2 871.4,808.9 871.8,805.7 872.2,805.1 872.5,808.4 872.9,804.4 873.2,807.8 873.6,805.3 874.0,808.3 874.3,804.3 874.7,808.6 875.1,806.8 875.4,805.5 875.8,804.3 876.1,805.7 876.5,804.0 876.9,803.2 877.2,807.5 877.6,806.4 878.0,807.5 878.3,802.1 878.7,800.7 879.0,801.3 879.4,805.4 879.8,805.6 880.1,800.1 880.5,805.6 880.9,802.5 881.2,800.7 881.6,802.7 881.9,803.6 882.3,801.9 882.7,801.8 883.0,800.2 883.4,798.7 883.7,800.3 884.1,797.5 884.5,801.6 884.8,798.4 885.2,802.4 885.6,796.4 885.9,802.0 886.3,797.1 886.6,796.7 887.0,798.8 887.4,799.5 887.7,797.2 888.1,796.1 888.5,800.4 888.8,797.1 889.2,793.2 889.5,794.7 889.9,798.0 890.3,794.7 890.6,795.3 891.0,797.0 891.4,791.2 891.7,792.5 892.1,789.9 892.4,790.5 892.8,790.8 893.2,786.4 893.5,788.6 893.9,787.8 894.2,788.8 894.6,784.7 895.0,782.4 895.3,784.9 895.7,781.1 896.1,782.8 896.4,782.7 896.8,778.8 897.1,779.4 897.5,776.8 897.9,772.5 898.2,774.1 898.6,771.9 899.0,775.3 899.3,772.2 899.7,773.1 900.0,772.3 900.4,773.4 900.8,769.6 901.1,768.4 901.5,769.2 901.8,770.3 902.2,765.9 902.6,765.6 902.9,763.3 903.3,761.1 903.7,758.1 904.0,759.7 904.4,758.0 904.7,756.5 905.1,759.6 905.5,753.3 905.8,753.0 906.2,750.0 906.6,751.4 906.9,746.5 907.3,749.1 907.6,742.9 908.0,743.1 908.4,741.6 908.7,736.8 909.1,736.7 909.4,732.7 909.8,728.5 910.2,726.3 910.5,726.0 910.9,726.4 911.3,719.1 911.6,718.5 912.0,713.1 912.3,712.8 912.7,706.6 913.1,704.9 913.4,703.9 913.8,699.4 914.2,697.7 914.5,697.6 914.9,692.3 915.2,688.1 915.6,684.2 916.0,683.0 916.3,684.1 916.7,678.9 917.1,676.1 917.4,675.4 917.8,673.2 918.1,671.3 918.5,666.2 918.9,662.9 919.2,659.4 919.6,660.0 919.9,659.2 920.3,660.6 920.7,658.7 921.0,655.9 921.4,658.9 921.8,653.7 922.1,654.3 922.5,654.5 922.8,655.9 923.2,659.6 923.6,660.7 923.9,663.7 924.3,671.7 924.7,669.2 925.0,674.1 925.4,679.8 925.7,685.5 926.1,689.8 926.5,692.3 926.8,696.4 927.2,700.5 927.5,706.5 927.9,706.7 928.3,707.4 928.6,716.3 929.0,716.9 929.4,722.8 929.7,729.2 930.1,729.8 930.4,736.8 930.8,733.2 931.2,740.5 931.5,744.2 931.9,748.6 932.3,749.0 932.6,754.2 933.0,757.6 933.3,761.0 933.7,761.4 934.1,763.8 934.4,771.6 934.8,774.3 935.2,776.7 935.5,780.6 935.9,784.0 936.2,782.1 936.6,788.2 937.0,791.4 937.3,792.2 937.7,792.9 938.0,794.1 938.4,790.9 938.8,793.5 939.1,797.2 939.5,798.9 939.9,797.7 940.2,796.6 940.6,797.9 940.9,800.4 941.3,803.1 941.7,801.4 942.0,799.4 942.4,802.1 942.8,802.2 943.1,806.5 943.5,803.5 943.8,802.7 944.2,802.9 944.6,801.2 944.9,801.9 945.3,803.2 945.6,802.9 946.0,805.1 946.4,805.3 946.7,807.2 947.1,808.5 947.5,806.2 947.8,805.8 948.2,803.1 948.5,807.6 948.9,808.5 949.3,806.1 949.6,807.1 950.0,806.8 950.4,810.3 950.7,809.7 951.1,811.0 951.4,806.7 951.8,814.2 952.2,807.7 952.5,807.4 952.9,810.0 953.3,808.7 953.6,813.5 954.0,809.4 954.3,809.3 954.7,812.6 955.1,813.4 955.4,809.6 955.8,810.5 956.1,810.9 956.5,811.5 956.9,815.2 957.2,814.6 957.6,814.4 958.0,815.0 958.3,812.8 958.7,814.6 959.0,812.9 959.4,811.8 959.8,816.4 960.1,810.3 960.5,813.7 960.9,812.8 961.2,810.8 961.6,813.3 961.9,814.2 962.3,815.0 962.7,812.6 963.0,815.6 963.4,814.8 963.8,815.9 964.1,810.9 964.5,813.6 964.8,813.4 965.2,815.6 965.6,813.3 965.9,813.7 966.3,812.6 966.6,812.5 967.0,813.0 967.4,816.5 967.7,812.7 968.1,810.1 968.5,815.2 968.8,813.7 969.2,815.7 969.5,815.6 969.9,813.9 970.3,813.7 970.6,813.5 971.0,814.6 971.4,813.0 971.7,814.7 972.1,816.8 972.4,812.9 972.8,812.8 973.2,812.6 973.5,814.8 973.9,814.8 974.2,816.2 974.6,814.8 975.0,813.6 975.3,814.3 975.7,810.9 976.1,814.2 976.4,813.4 976.8,816.8 977.1,815.5 977.5,811.3 977.9,811.5 978.2,814.1 978.6,808.5 979.0,810.4 979.3,812.5 979.7,813.0 980.0,812.1 980.4,813.9 980.8,811.1 981.1,811.6 981.5,810.9 981.9,809.1 982.2,811.1 982.6,809.8 982.9,810.7 983.3,805.5 983.7,810.4 984.0,808.9 984.4,808.5 984.7,809.4 985.1,808.3 985.5,810.7 985.8,810.9 986.2,810.1 986.6,810.0 986.9,808.8 987.3,808.0 987.6,805.4 988.0,806.8 988.4,809.6 988.7,808.6 989.1,806.1 989.5,807.0 989.8,808.5 990.2,806.1 990.5,809.2 990.9,804.8 991.3,807.4 991.6,807.1 992.0,806.0 992.3,806.1 992.7,806.4 993.1,801.3 993.4,806.2 993.8,807.2 994.2,805.7 994.5,807.0 994.9,802.6 995.2,804.5 995.6,805.1 996.0,803.9 996.3,806.4 996.7,805.1 997.1,803.1 997.4,805.3 997.8,805.2 998.1,802.8 998.5,804.6 998.9,804.0 999.2,803.8 999.6,800.8 999.9,805.3 1000.3,804.0 1000.7,802.7 1001.0,803.2 1001.4,803.1 1001.8,801.7 1002.1,801.1 1002.5,802.2 1002.8,800.7 1003.2,800.8 1003.6,799.4 1003.9,800.9 1004.3,803.1 1004.7,801.6 1005.0,801.2 1005.4,800.5 1005.7,800.3 1006.1,798.4 1006.5,804.2 1006.8,799.8 1007.2,798.4 1007.6,801.9 1007.9,801.7 1008.3,800.3 1008.6,798.7 1009.0,798.9 1009.4,804.6 1009.7,801.7 1010.1,801.1 1010.4,805.8 1010.8,801.5 1011.2,801.1 1011.5,804.1 1011.9,804.2 1012.3,806.7 1012.6,801.4 1013.0,805.1 1013.3,801.8 1013.7,806.0 1014.1,804.2 1014.4,804.8 1014.8,804.6 1015.2,807.7 1015.5,809.5 1015.9,806.7 1016.2,806.8 1016.6,806.6 1017.0,808.7 1017.3,806.2 1017.7,813.0 1018.0,808.2 1018.4,812.0 1018.8,809.3 1019.1,806.6 1019.5,806.3 1019.9,808.6 1020.2,808.1 1020.6,808.9 1020.9,807.1 1021.3,813.4 1021.7,813.0 1022.0,805.9 1022.4,810.0 1022.8,811.3 1023.1,808.4 1023.5,808.5 1023.8,810.8 1024.2,809.8 1024.6,806.6 1024.9,810.9 1025.3,807.8 1025.7,811.9 1026.0,806.6 1026.4,804.2 1026.7,808.5 1027.1,810.3 1027.5,808.8 1027.8,808.0 1028.2,806.0 1028.5,809.2 1028.9,804.1 1029.3,808.8 1029.6,804.9 1030.0,805.9 1030.4,804.4 1030.7,804.9 1031.1,809.1 1031.4,804.0 1031.8,806.2 1032.2,804.3 1032.5,807.3 1032.9,802.8 1033.3,805.0 1033.6,806.5 1034.0,808.8 1034.3,802.3 1034.7,802.7 1035.1,804.0 1035.4,806.6 1035.8,802.0 1036.2,805.2 1036.5,802.4 1036.9,801.5 1037.2,800.5 1037.6,803.6 1038.0,804.9 1038.3,802.8 1038.7,798.9 1039.0,801.7 1039.4,804.4 1039.8,804.1 1040.1,802.9 1040.5,805.0 1040.9,800.1 1041.2,800.1 1041.6,806.6 1041.9,803.3 1042.3,801.7 1042.7,801.2 1043.0,797.3 1043.4,803.4 1043.8,798.0 1044.1,798.0 1044.5,801.4 1044.8,804.2 1045.2,800.6 1045.6,802.0 1045.9,800.6 1046.3,802.3 1046.6,798.5 1047.0,805.5 1047.4,799.8 1047.7,802.6 1048.1,797.9 1048.5,804.9 1048.8,802.4 1049.2,805.3 1049.5,800.5 1049.9,803.6 1050.3,801.4 1050.6,801.7 1051.0,804.1 1051.4,800.2 1051.7,803.3 1052.1,805.4 1052.4,805.0 1052.8,803.8 1053.2,802.5 1053.5,800.1 1053.9,804.6 1054.2,800.6 1054.6,804.0 1055.0,801.2 1055.3,801.8 1055.7,801.7 1056.1,802.8 1056.4,800.9 1056.8,802.0 1057.1,800.6 1057.5,802.5 1057.9,801.9 1058.2,802.1 1058.6,799.7 1059.0,801.9 1059.3,801.3 1059.7,802.3 1060.0,801.4 1060.4,799.6 1060.8,802.8 1061.1,800.4 1061.5,802.2 1061.9,798.0 1062.2,802.9 1062.6,803.4 1062.9,800.7 1063.3,803.7 1063.7,802.1 1064.0,805.6 1064.4,804.7 1064.7,801.4 1065.1,803.7 1065.5,801.3 1065.8,804.4 1066.2,806.3 1066.6,807.2 1066.9,805.9 1067.3,806.0 1067.6,807.1 1068.0,806.0 1068.4,808.0 1068.7,809.8 1069.1,808.4 1069.5,810.1 1069.8,807.4 1070.2,808.2 1070.5,810.1 1070.9,813.5 1071.3,812.1 1071.6,813.7 1072.0,810.8 1072.3,813.2 1072.7,808.2 1073.1,812.4 1073.4,807.7 1073.8,814.1 1074.2,813.0 1074.5,814.4 1074.9,813.4 1075.2,812.0 1075.6,811.8 1076.0,813.7 1076.3,816.2 1076.7,814.9 1077.1,813.0 1077.4,813.3 1077.8,813.4 1078.1,814.5 1078.5,814.9 1078.9,814.4 1079.2,815.4 1079.6,812.8 1080.0,818.8 1080.3,816.5 1080.7,819.0 1081.0,817.0 1081.4,816.2 1081.8,816.9 1082.1,817.3 1082.5,815.8 1082.8,816.5 1083.2,820.8 1083.6,819.4 1083.9,816.9 1084.3,819.0 1084.7,816.6 1085.0,820.6 1085.4,816.3 1085.7,819.9 1086.1,818.4 1086.5,818.5 1086.8,817.0 1087.2,818.0 1087.6,817.1 1087.9,816.9 1088.3,819.5 1088.6,823.2 1089.0,818.1 1089.4,820.4 1089.7,818.7 1090.1,817.4 1090.4,821.0 1090.8,819.7 1091.2,820.3 1091.5,818.5 1091.9,818.5 1092.3,816.7 1092.6,817.7 1093.0,821.1 1093.3,813.7 1093.7,818.4 1094.1,820.2 1094.4,819.0 1094.8,819.2 1095.2,817.0 1095.5,819.5 1095.9,819.4 1096.2,817.3 1096.6,820.3 1097.0,816.3 1097.3,812.6 1097.7,817.0 1098.1,816.8 1098.4,815.3 1098.8,816.0 1099.1,815.7 1099.5,813.2 1099.9,818.8 1100.2,816.5 1100.6,821.1 1100.9,816.3 1101.3,816.9 1101.7,813.4 1102.0,817.8 1102.4,813.8 1102.8,816.7 1103.1,817.3 1103.5,816.8 1103.8,813.8 1104.2,813.7 1104.6,816.4 1104.9,817.0 1105.3,817.3 1105.7,814.5 1106.0,814.2 1106.4,817.4 1106.7,812.9 1107.1,814.9 1107.5,812.6 1107.8,810.2 1108.2,810.4 1108.5,812.8 1108.9,812.0 1109.3,812.0 1109.6,810.0 1110.0,809.2 1110.4,810.0 1110.7,808.7 1111.1,805.6 1111.4,807.2 1111.8,810.5 1112.2,805.6 1112.5,807.4 1112.9,805.7 1113.3,806.8 1113.6,803.4 1114.0,802.1 1114.3,804.6 1114.7,802.0 1115.1,802.5 1115.4,801.2 1115.8,802.6 1116.2,800.6 1116.5,799.7 1116.9,796.8 1117.2,794.9 1117.6,795.4 1118.0,797.4 1118.3,796.3 1118.7,795.3 1119.0,792.8 1119.4,790.9 1119.8,794.1 1120.1,791.8 1120.5,791.8 1120.9,788.7 1121.2,788.8 1121.6,791.0 1121.9,791.0 1122.3,787.9 1122.7,790.3 1123.0,788.0 1123.4,792.6 1123.8,792.2 1124.1,795.7 1124.5,795.1 1124.8,792.2 1125.2,794.6 1125.6,794.4 1125.9,796.7 1126.3,799.0 1126.7,798.7 1127.0,800.1 1127.4,798.7 1127.7,803.4 1128.1,803.5 1128.5,805.8 1128.8,807.7 1129.2,807.1 1129.5,809.5 1129.9,808.3 1130.3,812.1 1130.6,811.3 1131.0,811.3 1131.4,812.7 1131.7,811.3 1132.1,813.2 1132.4,814.0 1132.8,815.1 1133.2,815.2 1133.5,814.5 1133.9,815.5 1134.3,812.3 1134.6,816.5 1135.0,817.5 1135.3,818.1 1135.7,818.9 1136.1,816.9 1136.4,817.3 1136.8,816.7 1137.1,816.9 1137.5,818.1 1137.9,820.4 1138.2,815.2 1138.6,817.4 1139.0,818.9 1139.3,816.8 1139.7,819.6 1140.0,816.6 1140.4,818.5 1140.8,816.4 1141.1,820.0 1141.5,818.4 1141.9,821.0 1142.2,819.5 1142.6,818.6 1142.9,819.8 1143.3,820.9 1143.7,820.8 1144.0,820.5 1144.4,820.5 1144.8,821.2 1145.1,822.8 1145.5,820.4 1145.8,822.4 1146.2,819.3 1146.6,823.2 1146.9,822.2 1147.3,820.8 1147.6,821.0 1148.0,818.6 1148.4,821.7 1148.7,821.1 1149.1,819.0 1149.5,820.5 1149.8,822.2 1150.2,821.5 1150.5,821.5 1150.9,819.9 1151.3,822.3 1151.6,820.7 1152.0,822.1 1152.4,824.3 1152.7,816.7 1153.1,819.3 1153.4,820.1 1153.8,818.7 1154.2,821.7 1154.5,819.1 1154.9,822.5 1155.2,820.7 1155.6,819.9 1156.0,819.0 1156.3,820.3 1156.7,819.5 1157.1,821.2 1157.4,819.2 1157.8,820.0 1158.1,818.7 1158.5,818.4 1158.9,814.9 1159.2,817.4 1159.6,817.8 1160.0,815.0 1160.3,814.5 1160.7,816.3 1161.0,817.0 1161.4,813.4 1161.8,816.8 1162.1,817.7 1162.5,815.5 1162.8,816.1 1163.2,816.4 1163.6,814.2 1163.9,816.4 1164.3,816.1 1164.7,812.8 1165.0,815.7 1165.4,816.3 1165.7,812.8 1166.1,816.1 1166.5,814.1 1166.8,812.1 1167.2,812.5 1167.6,812.6 1167.9,815.0 1168.3,813.0 1168.6,813.1 1169.0,811.5 1169.4,813.7 1169.7,811.4 1170.1,812.3 1170.5,814.5 1170.8,814.5 1171.2,812.3 1171.5,812.9 1171.9,813.9 1172.3,812.9 1172.6,814.9 1173.0,815.0 1173.3,812.3 1173.7,810.2 1174.1,812.0 1174.4,814.5 1174.8,814.1 1175.2,814.1 1175.5,813.9 1175.9,811.1 1176.2,812.3 1176.6,813.6 1177.0,812.0 1177.3,813.1 1177.7,809.8 1178.1,809.4 1178.4,815.1 1178.8,812.9 1179.1,812.6 1179.5,814.1 1179.9,815.5 1180.2,816.3 1180.6,807.3 1181.0,812.3 1181.3,813.4 1181.7,808.4 1182.0,808.5 1182.4,811.3 1182.8,815.0 1183.1,813.3 1183.5,815.5 1183.8,812.3 1184.2,813.7 1184.6,814.5 1184.9,812.7 1185.3,811.9 1185.7,812.2 1186.0,807.2 1186.4,812.6 1186.7,808.9 1187.1,810.8 1187.5,813.4 1187.8,812.9 1188.2,808.8 1188.6,813.3 1188.9,813.8 1189.3,812.8 1189.6,813.9 1190.0,813.8 1190.4,809.8 1190.7,812.7 1191.1,812.6 1191.4,811.0 1191.8,813.2 1192.2,812.0 1192.5,813.2 1192.9,812.0 1193.3,815.5 1193.6,817.6 1194.0,812.8 1194.3,814.0 1194.7,814.3 1195.1,815.2 1195.4,814.3 1195.8,810.8 1196.2,815.5 1196.5,814.8 1196.9,813.3 1197.2,815.0 1197.6,814.6 1198.0,816.2 1198.3,815.4 1198.7,815.7 1199.0,816.7 1199.4,817.2 1199.8,817.0 1200.1,819.3 1200.5,817.9 1200.9,816.3 1201.2,820.9 1201.6,818.3 1201.9,821.0 1202.3,816.4 1202.7,819.6 1203.0,821.9 1203.4,821.3 1203.8,819.5 1204.1,818.6 1204.5,818.9 1204.8,819.8 1205.2,818.7 1205.6,819.2 1205.9,819.0 1206.3,819.1 1206.7,821.5 1207.0,818.1 1207.4,821.7 1207.7,822.8 1208.1,820.1 1208.5,820.4 1208.8,822.1 1209.2,822.2 1209.5,824.1 1209.9,819.1 1210.3,822.5 1210.6,825.3 1211.0,823.1 1211.4,826.0 1211.7,826.8 1212.1,822.2 1212.4,825.9 1212.8,824.2 1213.2,823.4 1213.5,823.0 1213.9,823.2 1214.3,822.1 1214.6,823.5 1215.0,825.6 1215.3,826.2 1215.7,823.4 1216.1,825.1 1216.4,825.1 1216.8,820.2 1217.1,825.8 1217.5,822.4 1217.9,822.6 1218.2,826.1 1218.6,827.8 1219.0,823.1 1219.3,823.6 1219.7,823.6 1220.0,824.6 1220.4,825.0 1220.8,824.3 1221.1,823.0 1221.5,829.0 1221.9,825.1 1222.2,824.7 1222.6,827.8 1222.9,825.7 1223.3,828.3 1223.7,827.9 1224.0,828.4 1224.4,826.0 1224.8,827.9 1225.1,824.1 1225.5,824.5 1225.8,827.0 1226.2,826.4 1226.6,829.2 1226.9,826.5 1227.3,823.9 1227.6,827.1 1228.0,826.5 1228.4,827.3 1228.7,825.0 1229.1,825.6 1229.5,827.0 1229.8,828.2 1230.2,827.7 1230.5,828.2 1230.9,824.4 1231.3,826.4 1231.6,827.1 1232.0,828.5 1232.4,827.3 1232.7,826.3 1233.1,826.6 1233.4,826.6 1233.8,824.2 1234.2,826.7 1234.5,827.9 1234.9,827.6 1235.2,823.1 1235.6,826.3 1236.0,823.6 1236.3,828.1 1236.7,827.2 1237.1,827.5 1237.4,825.1 1237.8,822.8 1238.1,824.3 1238.5,825.6 1238.9,823.5 1239.2,824.3 1239.6,828.9 1240.0,823.5 1240.3,826.9 1240.7,822.6 1241.0,826.3 1241.4,827.2 1241.8,826.4 1242.1,827.8 1242.5,828.9 1242.9,823.3 1243.2,826.1 1243.6,826.5 1243.9,826.2 1244.3,828.1 1244.7,825.8 1245.0,827.5 1245.4,827.3 1245.7,825.5 1246.1,826.1 1246.5,823.8 1246.8,825.5 1247.2,825.1 1247.6,824.1 1247.9,823.2 1248.3,825.3 1248.6,823.0 1249.0,826.8 1249.4,824.7 1249.7,823.2 1250.1,820.3 1250.5,822.3 1250.8,820.3 1251.2,819.7 1251.5,817.2 1251.9,819.5 1252.3,818.2 1252.6,816.3 1253.0,815.3 1253.3,815.3 1253.7,812.9 1254.1,813.5 1254.4,816.2 1254.8,811.9 1255.2,816.5 1255.5,809.5 1255.9,813.2 1256.2,812.6 1256.6,812.0 1257.0,810.2 1257.3,805.6 1257.7,809.6 1258.1,808.7 1258.4,806.2 1258.8,801.1 1259.1,806.2 1259.5,802.0 1259.9,802.4 1260.2,804.3 1260.6,803.8 1261.0,801.5 1261.3,799.4 1261.7,802.9 1262.0,801.6 1262.4,799.1 1262.8,797.7 1263.1,799.8 1263.5,797.0 1263.8,802.4 1264.2,800.2 1264.6,798.9 1264.9,800.3 1265.3,796.8 1265.7,799.7 1266.0,798.9 1266.4,797.6 1266.7,799.5 1267.1,801.4 1267.5,798.5 1267.8,800.9 1268.2,798.9 1268.6,802.1 1268.9,798.8 1269.3,803.3 1269.6,803.5 1270.0,804.0 1270.4,805.9 1270.7,803.2 1271.1,803.4 1271.5,804.4 1271.8,802.8 1272.2,800.5 1272.5,801.7 1272.9,801.8 1273.3,804.3 1273.6,802.8 1274.0,803.0 1274.3,804.4 1274.7,803.5 1275.1,806.2 1275.4,802.2 1275.8,800.3 1276.2,803.6 1276.5,800.2 1276.9,800.2 1277.2,801.4 1277.6,799.4 1278.0,799.6 1278.3,796.7 1278.7,796.5 1279.1,797.4 1279.4,794.6 1279.8,794.0 1280.1,793.9 1280.5,796.0 1280.9,795.2 1281.2,792.3 1281.6,791.3 1281.9,789.5 1282.3,792.3 1282.7,790.2 1283.0,790.7 1283.4,786.1 1283.8,789.6 1284.1,788.2 1284.5,789.0 1284.8,789.3 1285.2,787.3 1285.6,786.5 1285.9,788.4 1286.3,785.2 1286.7,789.9 1287.0,788.2 1287.4,786.0 1287.7,790.6 1288.1,790.4 1288.5,791.9 1288.8,791.5 1289.2,791.4 1289.5,791.1 1289.9,790.0 1290.3,793.9 1290.6,794.5 1291.0,793.6 1291.4,796.1 1291.7,794.3 1292.1,798.4 1292.4,797.8 1292.8,798.9 1293.2,798.1 1293.5,801.8 1293.9,801.3 1294.3,801.0 1294.6,803.4 1295.0,803.2 1295.3,806.0 1295.7,802.4 1296.1,803.7 1296.4,809.8 1296.8,806.0 1297.2,808.2 1297.5,807.3 1297.9,808.8 1298.2,813.3 1298.6,805.7 1299.0,810.4 1299.3,810.0 1299.7,810.4 1300.0,809.4 1300.4,809.4 1300.8,813.7 1301.1,812.7 1301.5,810.0 1301.9,812.5 1302.2,810.6 1302.6,817.9 1302.9,814.5 1303.3,811.2 1303.7,816.4 1304.0,816.3 1304.4,816.0 1304.8,816.1 1305.1,815.2 1305.5,816.2 1305.8,813.3 1306.2,819.4 1306.6,820.9 1306.9,818.7 1307.3,819.2 1307.6,816.1 1308.0,818.1 1308.4,816.7 1308.7,817.2 1309.1,820.7 1309.5,822.4 1309.8,820.1 1310.2,824.6 1310.5,821.9 1310.9,816.8 1311.3,820.1 1311.6,823.1 1312.0,821.3 1312.4,822.9 1312.7,818.3 1313.1,823.6 1313.4,819.5 1313.8,822.2 1314.2,825.4 1314.5,821.9 1314.9,821.4 1315.3,823.2 1315.6,820.6 1316.0,820.6 1316.3,824.0 1316.7,819.9 1317.1,820.4 1317.4,825.7 1317.8,820.6 1318.1,823.5 1318.5,824.7 1318.9,822.7 1319.2,821.1 1319.6,824.6 1320.0,821.6 1320.3,826.9 1320.7,827.2 1321.0,821.6 1321.4,824.5 1321.8,822.3 1322.1,824.3 1322.5,823.3 1322.9,822.1 1323.2,824.6 1323.6,820.8 1323.9,824.2 1324.3,823.3 1324.7,822.2 1325.0,825.2 1325.4,823.7 1325.8,823.2 1326.1,823.5 1326.5,823.5 1326.8,825.4 1327.2,823.3 1327.6,819.2 1327.9,819.1 1328.3,821.8 1328.6,821.5 1329.0,823.3 1329.4,821.4 1329.7,822.3 1330.1,825.9 1330.5,821.4 1330.8,825.2 1331.2,823.5 1331.5,825.9 1331.9,825.2 1332.3,823.7 1332.6,825.5 1333.0,824.0 1333.4,821.5 1333.7,824.3 1334.1,824.3 1334.4,823.2 1334.8,823.7 1335.2,822.6 1335.5,823.9 1335.9,822.8 1336.2,820.6 1336.6,822.8 1337.0,826.0 1337.3,824.7 1337.7,825.7 1338.1,823.0 1338.4,822.2 1338.8,820.9 1339.1,823.0 1339.5,824.3 1339.9,824.1 1340.2,823.8 1340.6,821.6 1341.0,822.6 1341.3,821.1 1341.7,823.7 1342.0,823.3 1342.4,821.2 1342.8,822.5 1343.1,818.4 1343.5,823.4 1343.8,820.7 1344.2,821.3 1344.6,823.0 1344.9,823.0 1345.3,820.8 1345.7,824.7 1346.0,825.5 1346.4,824.6 1346.7,824.4 1347.1,822.3 1347.5,824.5 1347.8,820.6 1348.2,820.2 1348.6,822.4 1348.9,822.4 1349.3,820.6 1349.6,825.0 1350.0,819.5 1350.4,818.4 1350.7,821.2 1351.1,824.8 1351.5,823.3 1351.8,822.6 1352.2,822.2 1352.5,823.1 1352.9,822.6 1353.3,822.2 1353.6,822.0 1354.0,819.4 1354.3,823.8 1354.7,821.5 1355.1,822.8 1355.4,823.0 1355.8,824.0 1356.2,820.9 1356.5,823.7 1356.9,823.7 1357.2,822.1 1357.6,822.2 1358.0,822.6 1358.3,820.6 1358.7,821.5 1359.1,820.4 1359.4,824.4 1359.8,821.0 1360.1,820.5 1360.5,822.6 1360.9,823.3 1361.2,821.6 1361.6,820.7 1362.0,823.1 1362.3,823.8 1362.7,819.5 1363.0,823.9 1363.4,819.2 1363.8,823.3 1364.1,821.4 1364.5,821.8 1364.8,823.5 1365.2,824.7 1365.6,825.8 1365.9,824.6 1366.3,823.4 1366.7,820.0 1367.0,821.7 1367.4,822.6 1367.7,821.3 1368.1,823.3 1368.5,821.9 1368.8,825.4 1369.2,821.9 1369.6,820.0 1369.9,821.3 1370.3,821.0 1370.6,823.5 1371.0,824.7"/>
<polyline fill="none" stroke="#fa0000" stroke-width="7.0" stroke-linejoin="round" stroke-linecap="butt" points="104.0,624.0 104.4,611.2 104.7,620.7 105.1,618.3 105.4,619.3 105.8,620.6 106.2,615.8 106.5,621.6 106.9,620.3 107.3,631.3 107.6,624.5 108.0,623.3 108.3,623.9 108.7,623.0 109.1,622.3 109.4,624.6 109.8,627.6 110.2,625.9 110.5,629.8 110.9,626.8 111.2,628.0 111.6,632.9 112.0,630.3 112.3,627.5 112.7,629.0 113.0,631.6 113.4,636.0 113.8,629.9 114.1,630.5 114.5,634.6 114.9,629.5 115.2,631.8 115.6,635.6 115.9,635.3 116.3,634.1 116.7,636.3 117.0,626.7 117.4,638.1 117.8,632.8 118.1,631.0 118.5,637.1 118.8,638.4 119.2,635.4 119.6,633.9 119.9,637.5 120.3,637.6 120.7,642.2 121.0,640.7 121.4,639.4 121.7,642.5 122.1,638.8 122.5,636.9 122.8,641.6 123.2,641.9 123.5,639.7 123.9,638.5 124.3,641.7 124.6,633.8 125.0,643.4 125.4,642.8 125.7,636.8 126.1,642.1 126.4,639.6 126.8,644.8 127.2,636.6 127.5,640.0 127.9,645.0 128.3,646.5 128.6,637.1 129.0,642.1 129.3,644.6 129.7,642.1 130.1,648.9 130.4,640.9 130.8,645.6 131.2,641.7 131.5,649.2 131.9,645.2 132.2,644.4 132.6,640.7 133.0,651.1 133.3,648.5 133.7,648.6 134.0,650.0 134.4,647.8 134.8,645.2 135.1,645.1 135.5,645.4 135.9,652.0 136.2,643.5 136.6,646.4 136.9,647.4 137.3,649.3 137.7,650.6 138.0,645.4 138.4,644.2 138.8,649.4 139.1,653.0 139.5,651.8 139.8,650.5 140.2,649.0 140.6,651.0 140.9,649.7 141.3,653.1 141.6,648.5 142.0,651.6 142.4,650.9 142.7,652.9 143.1,652.2 143.5,659.2 143.8,656.4 144.2,656.4 144.5,646.0 144.9,650.9 145.3,650.3 145.6,653.6 146.0,645.5 146.4,656.0 146.7,656.0 147.1,649.0 147.4,650.1 147.8,650.7 148.2,653.3 148.5,655.3 148.9,659.5 149.2,652.8 149.6,655.6 150.0,654.0 150.3,658.9 150.7,655.9 151.1,657.7 151.4,650.4 151.8,653.2 152.1,651.5 152.5,658.6 152.9,656.2 153.2,653.7 153.6,653.2 154.0,655.9 154.3,652.6 154.7,652.1 155.0,656.3 155.4,662.4 155.8,654.4 156.1,653.4 156.5,651.6 156.9,651.3 157.2,657.0 157.6,657.9 157.9,655.3 158.3,656.5 158.7,656.1 159.0,656.3 159.4,651.6 159.7,654.6 160.1,656.4 160.5,653.6 160.8,654.7 161.2,653.7 161.6,655.2 161.9,658.6 162.3,655.0 162.6,655.9 163.0,658.8 163.4,658.4 163.7,661.8 164.1,650.7 164.5,659.5 164.8,655.8 165.2,657.6 165.5,659.9 165.9,660.7 166.3,660.6 166.6,658.1 167.0,662.3 167.3,657.1 167.7,657.6 168.1,660.7 168.4,656.5 168.8,664.8 169.2,661.7 169.5,665.3 169.9,658.9 170.2,657.8 170.6,659.5 171.0,661.3 171.3,657.3 171.7,660.3 172.1,659.1 172.4,664.0 172.8,657.3 173.1,662.4 173.5,657.4 173.9,656.5 174.2,657.3 174.6,655.9 175.0,659.8 175.3,662.5 175.7,659.9 176.0,661.4 176.4,664.4 176.8,660.4 177.1,660.2 177.5,658.7 177.8,654.8 178.2,661.8 178.6,654.5 178.9,661.8 179.3,659.9 179.7,663.3 180.0,659.6 180.4,657.5 180.7,661.0 181.1,658.4 181.5,659.6 181.8,660.4 182.2,660.1 182.6,660.0 182.9,658.2 183.3,660.2 183.6,654.5 184.0,660.6 184.4,657.6 184.7,664.6 185.1,665.2 185.4,655.7 185.8,662.0 186.2,661.3 186.5,658.5 186.9,663.4 187.3,660.6 187.6,656.9 188.0,661.5 188.3,661.9 188.7,662.6 189.1,658.7 189.4,664.1 189.8,664.4 190.2,658.9 190.5,660.2 190.9,661.9 191.2,660.5 191.6,667.1 192.0,662.5 192.3,658.7 192.7,659.3 193.1,661.7 193.4,668.8 193.8,661.4 194.1,662.3 194.5,663.5 194.9,662.0 195.2,668.9 195.6,660.7 195.9,664.6 196.3,663.0 196.7,664.5 197.0,659.2 197.4,668.0 197.8,662.4 198.1,663.1 198.5,660.2 198.8,660.9 199.2,665.0 199.6,666.3 199.9,665.6 200.3,667.2 200.7,665.6 201.0,663.4 201.4,665.8 201.7,665.2 202.1,663.1 202.5,665.5 202.8,667.3 203.2,664.2 203.6,662.4 203.9,665.7 204.3,669.1 204.6,663.0 205.0,663.3 205.4,663.2 205.7,667.2 206.1,658.2 206.4,664.6 206.8,667.0 207.2,661.0 207.5,667.8 207.9,664.8 208.3,661.8 208.6,664.1 209.0,659.1 209.3,661.9 209.7,669.1 210.1,661.0 210.4,669.0 210.8,663.3 211.2,666.6 211.5,663.7 211.9,657.0 212.2,662.0 212.6,664.2 213.0,660.2 213.3,659.8 213.7,665.0 214.0,661.9 214.4,658.8 214.8,661.8 215.1,666.5 215.5,662.7 215.9,666.9 216.2,668.5 216.6,664.1 216.9,660.6 217.3,659.9 217.7,663.7 218.0,666.4 218.4,664.5 218.8,665.4 219.1,662.4 219.5,664.6 219.8,662.5 220.2,662.9 220.6,660.1 220.9,659.1 221.3,662.1 221.6,660.4 222.0,660.9 222.4,665.8 222.7,663.5 223.1,671.7 223.5,666.3 223.8,661.8 224.2,665.9 224.5,664.8 224.9,661.8 225.3,667.1 225.6,661.5 226.0,655.8 226.4,666.1 226.7,661.9 227.1,668.2 227.4,661.7 227.8,659.9 228.2,668.0 228.5,660.3 228.9,664.3 229.3,667.9 229.6,663.9 230.0,663.2 230.3,663.6 230.7,665.8 231.1,661.2 231.4,665.3 231.8,665.2 232.1,670.3 232.5,662.6 232.9,660.8 233.2,665.7 233.6,662.3 234.0,664.2 234.3,663.6 234.7,666.5 235.0,661.0 235.4,662.9 235.8,655.7 236.1,660.5 236.5,667.7 236.9,661.0 237.2,660.9 237.6,659.5 237.9,665.0 238.3,663.9 238.7,659.9 239.0,665.3 239.4,664.1 239.8,665.4 240.1,661.0 240.5,668.1 240.8,664.0 241.2,662.4 241.6,661.2 241.9,661.9 242.3,665.4 242.6,662.1 243.0,665.8 243.4,664.3 243.7,666.5 244.1,664.7 244.5,662.1 244.8,656.6 245.2,663.1 245.5,664.5 245.9,662.4 246.3,663.4 246.6,660.3 247.0,660.6 247.4,658.9 247.7,665.8 248.1,662.3 248.4,660.3 248.8,657.7 249.2,661.3 249.5,666.2 249.9,663.1 250.2,659.5 250.6,666.0 251.0,665.9 251.3,664.6 251.7,664.1 252.1,665.1 252.4,663.3 252.8,663.9 253.1,659.3 253.5,666.1 253.9,662.3 254.2,667.5 254.6,655.5 255.0,663.5 255.3,664.1 255.7,660.1 256.0,662.4 256.4,663.3 256.8,662.6 257.1,659.2 257.5,660.3 257.9,663.7 258.2,664.4 258.6,661.0 258.9,661.0 259.3,661.3 259.7,663.6 260.0,657.4 260.4,656.5 260.7,660.6 261.1,656.9 261.5,658.5 261.8,660.4 262.2,661.3 262.6,656.7 262.9,662.4 263.3,654.8 263.6,661.4 264.0,655.3 264.4,656.2 264.7,661.8 265.1,658.5 265.5,657.3 265.8,658.2 266.2,660.7 266.5,659.2 266.9,659.4 267.3,662.7 267.6,657.7 268.0,658.3 268.3,658.0 268.7,662.8 269.1,662.3 269.4,663.2 269.8,659.5 270.2,659.2 270.5,661.8 270.9,658.3 271.2,661.8 271.6,661.5 272.0,657.3 272.3,659.1 272.7,659.1 273.1,664.4 273.4,666.9 273.8,659.3 274.1,659.6 274.5,652.9 274.9,660.0 275.2,659.3 275.6,656.2 275.9,661.6 276.3,654.8 276.7,658.5 277.0,659.4 277.4,655.6 277.8,661.5 278.1,662.1 278.5,655.3 278.8,655.4 279.2,661.1 279.6,659.5 279.9,656.2 280.3,658.8 280.7,659.4 281.0,659.2 281.4,661.8 281.7,660.6 282.1,664.6 282.5,663.5 282.8,661.6 283.2,662.9 283.6,663.6 283.9,662.0 284.3,656.7 284.6,662.5 285.0,660.4 285.4,664.9 285.7,660.6 286.1,661.9 286.4,661.2 286.8,665.0 287.2,660.8 287.5,659.5 287.9,661.3 288.3,659.3 288.6,661.2 289.0,660.9 289.3,661.6 289.7,666.3 290.1,660.0 290.4,661.3 290.8,660.8 291.2,663.3 291.5,658.3 291.9,659.9 292.2,661.9 292.6,663.6 293.0,662.1 293.3,661.0 293.7,660.1 294.0,664.2 294.4,666.7 294.8,663.7 295.1,663.7 295.5,664.5 295.9,660.7 296.2,662.5 296.6,662.9 296.9,664.7 297.3,663.8 297.7,660.6 298.0,667.0 298.4,668.6 298.8,663.5 299.1,665.4 299.5,664.9 299.8,666.3 300.2,660.3 300.6,668.8 300.9,663.2 301.3,667.9 301.7,664.6 302.0,663.6 302.4,664.2 302.7,667.0 303.1,662.2 303.5,663.8 303.8,663.5 304.2,660.1 304.5,668.3 304.9,666.5 305.3,665.0 305.6,668.2 306.0,662.6 306.4,664.9 306.7,669.7 307.1,667.9 307.4,659.3 307.8,658.0 308.2,662.1 308.5,667.8 308.9,663.9 309.3,664.7 309.6,667.0 310.0,663.1 310.3,666.0 310.7,667.6 311.1,666.7 311.4,666.4 311.8,663.8 312.1,666.6 312.5,664.1 312.9,668.7 313.2,672.2 313.6,663.4 314.0,659.6 314.3,664.3 314.7,666.3 315.0,668.0 315.4,668.1 315.8,663.4 316.1,663.4 316.5,668.6 316.9,662.3 317.2,668.0 317.6,664.5 317.9,667.1 318.3,666.9 318.7,667.1 319.0,667.2 319.4,662.5 319.8,666.0 320.1,665.2 320.5,665.9 320.8,668.2 321.2,664.2 321.6,663.0 321.9,663.0 322.3,664.4 322.6,667.4 323.0,663.3 323.4,668.6 323.7,666.3 324.1,665.2 324.5,662.4 324.8,666.5 325.2,667.9 325.5,661.5 325.9,669.2 326.3,670.3 326.6,666.9 327.0,667.2 327.4,672.3 327.7,669.3 328.1,663.9 328.4,666.1 328.8,665.9 329.2,666.0 329.5,660.3 329.9,668.4 330.2,664.8 330.6,667.0 331.0,666.2 331.3,668.7 331.7,665.6 332.1,664.2 332.4,667.7 332.8,669.8 333.1,665.5 333.5,669.8 333.9,667.0 334.2,665.2 334.6,670.5 335.0,664.4 335.3,669.1 335.7,665.3 336.0,667.7 336.4,663.5 336.8,664.5 337.1,669.3 337.5,667.0 337.9,666.6 338.2,665.2 338.6,667.4 338.9,662.9 339.3,663.6 339.7,666.2 340.0,664.4 340.4,664.7 340.7,666.4 341.1,666.2 341.5,665.9 341.8,670.6 342.2,668.9 342.6,669.5 342.9,666.3 343.3,665.0 343.6,662.7 344.0,665.4 344.4,661.1 344.7,664.8 345.1,668.1 345.5,670.1 345.8,668.4 346.2,663.8 346.5,667.2 346.9,663.8 347.3,667.7 347.6,665.2 348.0,667.6 348.4,671.6 348.7,667.2 349.1,670.6 349.4,665.0 349.8,663.4 350.2,667.3 350.5,667.9 350.9,661.9 351.2,663.0 351.6,658.9 352.0,661.6 352.3,664.0 352.7,661.2 353.1,659.5 353.4,656.7 353.8,660.6 354.1,661.2 354.5,660.2 354.9,658.7 355.2,654.1 355.6,661.3 356.0,656.0 356.3,655.2 356.7,656.9 357.0,648.8 357.4,653.5 357.8,652.7 358.1,653.2 358.5,654.9 358.8,652.0 359.2,645.2 359.6,648.1 359.9,648.6 360.3,647.6 360.7,643.0 361.0,641.3 361.4,645.9 361.7,644.2 362.1,642.3 362.5,636.8 362.8,644.7 363.2,632.1 363.6,637.0 363.9,642.0 364.3,634.9 364.6,634.6 365.0,629.5 365.4,634.5 365.7,626.3 366.1,628.8 366.4,626.9 366.8,622.4 367.2,625.8 367.5,618.2 367.9,618.5 368.3,618.5 368.6,615.9 369.0,616.5 369.3,615.9 369.7,610.8 370.1,608.2 370.4,606.2 370.8,604.6 371.2,605.5 371.5,600.7 371.9,600.2 372.2,596.7 372.6,592.7 373.0,595.0 373.3,587.6 373.7,588.1 374.1,589.7 374.4,580.3 374.8,580.6 375.1,573.8 375.5,574.1 375.9,568.9 376.2,569.2 376.6,566.0 376.9,565.3 377.3,566.8 377.7,560.8 378.0,559.3 378.4,554.9 378.8,552.2 379.1,548.1 379.5,543.2 379.8,546.4 380.2,548.9 380.6,544.1 380.9,539.7 381.3,544.6 381.7,537.7 382.0,536.5 382.4,534.5 382.7,535.2 383.1,537.4 383.5,544.2 383.8,538.8 384.2,537.6 384.6,540.1 384.9,542.8 385.3,540.5 385.6,548.0 386.0,552.0 386.4,553.4 386.7,556.9 387.1,554.8 387.4,556.7 387.8,568.0 388.2,570.5 388.5,566.5 388.9,574.5 389.3,577.2 389.6,581.7 390.0,583.8 390.3,584.8 390.7,589.6 391.1,592.5 391.4,594.7 391.8,592.7 392.2,593.1 392.5,600.7 392.9,601.0 393.2,608.1 393.6,611.5 394.0,612.5 394.3,612.9 394.7,616.0 395.0,620.6 395.4,617.4 395.8,623.4 396.1,624.6 396.5,624.9 396.9,629.6 397.2,625.4 397.6,631.1 397.9,627.7 398.3,629.3 398.7,629.9 399.0,634.9 399.4,632.6 399.8,636.2 400.1,634.2 400.5,640.6 400.8,643.6 401.2,640.3 401.6,644.7 401.9,642.8 402.3,647.6 402.6,643.1 403.0,639.5 403.4,647.8 403.7,644.1 404.1,642.2 404.5,643.1 404.8,640.8 405.2,644.5 405.5,642.2 405.9,648.6 406.3,646.2 406.6,640.2 407.0,640.4 407.4,642.5 407.7,639.0 408.1,643.5 408.4,643.5 408.8,641.5 409.2,642.0 409.5,644.3 409.9,646.6 410.3,646.7 410.6,643.0 411.0,645.1 411.3,641.1 411.7,643.7 412.1,640.4 412.4,644.4 412.8,639.4 413.1,639.8 413.5,641.9 413.9,643.2 414.2,638.2 414.6,640.3 415.0,641.9 415.3,641.8 415.7,639.0 416.0,641.3 416.4,640.3 416.8,644.2 417.1,642.0 417.5,636.9 417.9,634.6 418.2,639.9 418.6,642.3 418.9,639.3 419.3,640.8 419.7,637.1 420.0,634.7 420.4,639.7 420.8,637.7 421.1,638.7 421.5,633.2 421.8,636.4 422.2,633.6 422.6,636.7 422.9,632.9 423.3,632.4 423.6,631.9 424.0,635.9 424.4,632.3 424.7,629.8 425.1,628.7 425.5,628.0 425.8,633.6 426.2,624.8 426.5,626.7 426.9,629.7 427.3,630.3 427.6,626.3 428.0,627.9 428.4,627.5 428.7,627.6 429.1,624.7 429.4,628.1 429.8,624.4 430.2,627.0 430.5,619.8 430.9,624.2 431.2,618.2 431.6,617.0 432.0,621.3 432.3,617.2 432.7,619.6 433.1,615.1 433.4,621.0 433.8,616.4 434.1,612.6 434.5,615.0 434.9,615.9 435.2,611.0 435.6,613.3 436.0,615.8 436.3,611.7 436.7,608.6 437.0,606.1 437.4,607.7 437.8,600.9 438.1,596.2 438.5,599.4 438.8,596.2 439.2,600.9 439.6,594.5 439.9,589.2 440.3,586.3 440.7,588.0 441.0,582.2 441.4,580.3 441.7,578.8 442.1,576.6 442.5,573.9 442.8,571.0 443.2,570.9 443.6,569.0 443.9,557.0 444.3,564.3 444.6,554.1 445.0,553.1 445.4,544.2 445.7,543.5 446.1,540.3 446.5,537.2 446.8,536.2 447.2,532.6 447.5,525.2 447.9,524.4 448.3,523.6 448.6,519.9 449.0,513.6 449.3,510.2 449.7,506.8 450.1,500.5 450.4,496.4 450.8,500.6 451.2,491.5 451.5,489.5 451.9,483.5 452.2,485.8 452.6,483.6 453.0,474.5 453.3,473.3 453.7,466.1 454.1,470.0 454.4,464.6 454.8,456.6 455.1,460.0 455.5,455.1 455.9,453.3 456.2,451.9 456.6,447.8 456.9,447.5 457.3,450.5 457.7,448.3 458.0,445.6 458.4,454.2 458.8,447.7 459.1,447.0 459.5,447.6 459.8,452.9 460.2,455.4 460.6,455.4 460.9,459.7 461.3,455.9 461.7,462.4 462.0,465.8 462.4,471.2 462.7,477.0 463.1,474.4 463.5,492.2 463.8,487.3 464.2,495.9 464.6,502.4 464.9,508.0 465.3,511.8 465.6,508.9 466.0,518.5 466.4,528.4 466.7,528.5 467.1,532.7 467.4,533.7 467.8,547.4 468.2,549.5 468.5,549.4 468.9,555.0 469.3,558.4 469.6,559.1 470.0,564.8 470.3,569.8 470.7,574.4 471.1,580.0 471.4,580.5 471.8,582.7 472.2,588.2 472.5,588.8 472.9,590.5 473.2,599.8 473.6,599.1 474.0,603.3 474.3,607.3 474.7,605.0 475.1,611.3 475.4,612.8 475.8,613.1 476.1,615.8 476.5,614.4 476.9,612.3 477.2,618.5 477.6,618.3 477.9,624.0 478.3,623.6 478.7,622.8 479.0,625.2 479.4,629.4 479.8,629.7 480.1,628.6 480.5,629.4 480.8,628.3 481.2,629.2 481.6,631.3 481.9,630.0 482.3,631.4 482.7,628.0 483.0,626.7 483.4,626.5 483.7,629.1 484.1,633.1 484.5,632.0 484.8,625.7 485.2,623.3 485.5,627.8 485.9,625.5 486.3,619.5 486.6,623.5 487.0,619.4 487.4,620.0 487.7,615.2 488.1,614.1 488.4,610.3 488.8,604.2 489.2,602.8 489.5,598.3 489.9,598.2 490.3,589.7 490.6,583.9 491.0,584.9 491.3,581.6 491.7,578.1 492.1,572.9 492.4,561.6 492.8,558.4 493.1,552.8 493.5,547.6 493.9,534.1 494.2,533.2 494.6,528.0 495.0,518.7 495.3,515.1 495.7,510.0 496.0,496.2 496.4,479.9 496.8,456.5 497.1,438.2 497.5,436.7 497.9,438.9 498.2,451.3 498.6,456.8 498.9,468.6 499.3,485.6 499.7,494.3 500.0,508.7 500.4,518.8 500.8,522.6 501.1,527.6 501.5,534.4 501.8,539.1 502.2,539.5 502.6,546.3 502.9,558.6 503.3,561.2 503.6,559.6 504.0,565.7 504.4,573.0 504.7,574.3 505.1,581.6 505.5,584.4 505.8,589.3 506.2,589.0 506.5,597.1 506.9,604.0 507.3,600.9 507.6,609.1 508.0,611.2 508.4,613.0 508.7,613.7 509.1,613.4 509.4,616.0 509.8,621.8 510.2,624.3 510.5,626.6 510.9,627.7 511.2,629.3 511.6,627.7 512.0,627.6 512.3,632.5 512.7,634.7 513.1,635.3 513.4,633.2 513.8,637.1 514.1,636.4 514.5,641.6 514.9,640.4 515.2,643.8 515.6,646.3 516.0,647.1 516.3,651.2 516.7,646.7 517.0,645.3 517.4,653.7 517.8,655.6 518.1,656.7 518.5,655.1 518.9,656.7 519.2,656.9 519.6,654.7 519.9,657.2 520.3,660.7 520.7,659.1 521.0,665.8 521.4,658.9 521.7,662.4 522.1,666.8 522.5,663.7 522.8,663.4 523.2,663.7 523.6,666.1 523.9,671.9 524.3,670.2 524.6,671.3 525.0,669.6 525.4,673.2 525.7,672.0 526.1,670.3 526.5,671.9 526.8,673.7 527.2,676.2 527.5,673.8 527.9,675.3 528.3,679.1 528.6,673.0 529.0,672.3 529.3,677.4 529.7,676.5 530.1,675.5 530.4,676.3 530.8,675.1 531.2,677.1 531.5,675.4 531.9,678.0 532.2,673.5 532.6,674.4 533.0,676.5 533.3,675.3 533.7,677.9 534.1,676.3 534.4,675.1 534.8,676.9 535.1,675.4 535.5,673.2 535.9,674.2 536.2,675.1 536.6,675.9 537.0,677.5 537.3,679.3 537.7,678.6 538.0,681.6 538.4,680.7 538.8,677.3 539.1,681.4 539.5,680.6 539.8,677.3 540.2,679.0 540.6,681.0 540.9,679.1 541.3,681.0 541.7,679.5 542.0,680.3 542.4,678.1 542.7,679.7 543.1,678.2 543.5,680.6 543.8,675.4 544.2,679.9 544.6,681.8 544.9,680.5 545.3,679.2 545.6,680.5 546.0,677.5 546.4,677.7 546.7,678.7 547.1,679.2 547.5,681.5 547.8,677.3 548.2,681.4 548.5,675.7 548.9,677.3 549.3,679.2 549.6,681.7 550.0,677.6 550.3,674.2 550.7,679.8 551.1,678.6 551.4,676.1 551.8,676.3 552.2,676.8 552.5,678.4 552.9,679.5 553.2,674.5 553.6,682.5 554.0,677.2 554.3,676.3 554.7,678.4 555.1,677.0 555.4,681.7 555.8,678.9 556.1,675.6 556.5,675.3 556.9,674.8 557.2,675.1 557.6,677.1 557.9,674.0 558.3,678.6 558.7,674.7 559.0,674.1 559.4,676.3 559.8,669.7 560.1,671.8 560.5,674.9 560.8,673.4 561.2,673.2 561.6,673.8 561.9,671.5 562.3,672.2 562.7,669.3 563.0,668.1 563.4,674.5 563.7,669.3 564.1,669.4 564.5,673.8 564.8,672.8 565.2,669.1 565.5,668.8 565.9,669.6 566.3,667.5 566.6,670.7 567.0,669.5 567.4,669.2 567.7,670.3 568.1,669.9 568.4,672.1 568.8,671.2 569.2,664.0 569.5,669.3 569.9,664.6 570.3,663.6 570.6,667.9 571.0,664.7 571.3,665.3 571.7,668.1 572.1,664.0 572.4,663.3 572.8,665.6 573.2,667.2 573.5,665.6 573.9,660.7 574.2,662.4 574.6,663.2 575.0,667.6 575.3,665.0 575.7,664.8 576.0,665.3 576.4,661.7 576.8,663.2 577.1,662.8 577.5,659.4 577.9,661.2 578.2,662.2 578.6,658.4 578.9,662.2 579.3,661.7 579.7,662.1 580.0,657.8 580.4,659.4 580.8,662.1 581.1,660.2 581.5,656.5 581.8,658.3 582.2,660.7 582.6,657.3 582.9,657.9 583.3,662.3 583.6,656.4 584.0,656.0 584.4,653.7 584.7,654.2 585.1,658.6 585.5,654.8 585.8,652.3 586.2,652.5 586.5,654.3 586.9,655.7 587.3,652.1 587.6,655.0 588.0,652.2 588.4,653.8 588.7,654.1 589.1,654.1 589.4,651.7 589.8,652.0 590.2,653.3 590.5,649.3 590.9,652.4 591.3,653.0 591.6,654.1 592.0,651.8 592.3,651.6 592.7,652.4 593.1,650.4 593.4,651.6 593.8,653.1 594.1,652.9 594.5,650.2 594.9,651.9 595.2,648.1 595.6,654.5 596.0,651.9 596.3,653.5 596.7,650.9 597.0,653.2 597.4,654.4 597.8,655.7 598.1,651.0 598.5,655.9 598.9,653.9 599.2,652.7 599.6,655.5 599.9,653.9 600.3,654.0 600.7,653.4 601.0,655.4 601.4,655.1 601.8,654.8 602.1,653.2 602.5,654.3 602.8,656.4 603.2,658.3 603.6,655.6 603.9,658.8 604.3,655.9 604.6,653.8 605.0,657.6 605.4,654.4 605.7,657.4 606.1,658.9 606.5,656.2 606.8,657.0 607.2,662.5 607.5,657.9 607.9,658.2 608.3,659.4 608.6,657.7 609.0,658.0 609.4,659.1 609.7,653.4 610.1,661.7 610.4,656.7 610.8,656.9 611.2,660.5 611.5,659.8 611.9,657.3 612.2,660.6 612.6,658.1 613.0,659.2 613.3,657.8 613.7,659.5 614.1,662.3 614.4,661.8 614.8,662.5 615.1,664.0 615.5,662.2 615.9,661.3 616.2,662.4 616.6,666.7 617.0,663.7 617.3,664.7 617.7,664.1 618.0,665.1 618.4,665.9 618.8,665.4 619.1,665.2 619.5,664.2 619.9,664.3 620.2,667.1 620.6,668.2 620.9,668.8 621.3,667.5 621.7,665.9 622.0,669.4 622.4,669.7 622.7,665.6 623.1,670.8 623.5,670.5 623.8,673.1 624.2,667.8 624.6,667.7 624.9,672.5 625.3,667.6 625.6,670.2 626.0,669.7 626.4,670.2 626.7,668.9 627.1,672.8 627.5,675.7 627.8,675.2 628.2,675.5 628.5,674.2 628.9,678.4 629.3,677.0 629.6,678.5 630.0,673.4 630.3,677.8 630.7,675.2 631.1,678.7 631.4,678.8 631.8,676.3 632.2,679.5 632.5,681.8 632.9,680.7 633.2,681.4 633.6,678.8 634.0,679.5 634.3,678.9 634.7,681.9 635.1,684.5 635.4,683.2 635.8,682.7 636.1,680.7 636.5,684.2 636.9,683.2 637.2,680.2 637.6,680.9 637.9,684.3 638.3,683.6 638.7,689.4 639.0,686.5 639.4,684.6 639.8,686.1 640.1,690.8 640.5,686.0 640.8,689.7 641.2,689.3 641.6,691.7 641.9,690.2 642.3,688.6 642.7,690.9 643.0,690.2 643.4,692.3 643.7,690.5 644.1,694.9 644.5,691.0 644.8,692.2 645.2,690.2 645.6,691.9 645.9,691.8 646.3,692.2 646.6,693.9 647.0,691.1 647.4,690.4 647.7,694.5 648.1,691.8 648.4,691.2 648.8,695.1 649.2,694.5 649.5,687.6 649.9,692.3 650.3,694.8 650.6,695.0 651.0,692.4 651.3,696.7 651.7,692.0 652.1,693.2 652.4,694.0 652.8,693.7 653.2,695.5 653.5,695.9 653.9,693.9 654.2,696.8 654.6,692.6 655.0,693.8 655.3,697.9 655.7,694.6 656.0,696.6 656.4,693.7 656.8,694.0 657.1,694.3 657.5,695.0 657.9,694.0 658.2,694.8 658.6,696.2 658.9,697.4 659.3,695.2 659.7,696.4 660.0,697.0 660.4,693.1 660.8,692.2 661.1,698.8 661.5,698.2 661.8,695.7 662.2,696.4 662.6,693.8 662.9,692.8 663.3,696.3 663.7,692.8 664.0,697.6 664.4,694.4 664.7,696.4 665.1,699.8 665.5,699.8 665.8,695.5 666.2,698.2 666.5,694.0 666.9,695.0 667.3,697.0 667.6,699.0 668.0,695.1 668.4,697.4 668.7,696.5 669.1,693.7 669.4,696.2 669.8,699.5 670.2,696.4 670.5,697.7 670.9,698.5 671.3,695.3 671.6,699.5 672.0,700.1 672.3,700.5 672.7,699.9 673.1,696.4 673.4,696.2 673.8,695.9 674.1,695.8 674.5,696.2 674.9,700.0 675.2,701.1 675.6,696.8 676.0,700.0 676.3,695.9 676.7,697.9 677.0,696.5 677.4,695.3 677.8,698.7 678.1,698.8 678.5,697.9 678.9,697.8 679.2,696.8 679.6,698.7 679.9,697.8 680.3,699.6 680.7,696.8 681.0,699.7 681.4,700.3 681.8,701.8 682.1,701.3 682.5,699.5 682.8,697.7 683.2,695.5 683.6,699.0 683.9,701.7 684.3,702.3 684.6,693.8 685.0,697.5 685.4,698.2 685.7,696.7 686.1,699.1 686.5,698.7 686.8,697.5 687.2,698.4 687.5,695.2 687.9,696.5 688.3,696.5 688.6,700.0 689.0,694.9 689.4,697.6 689.7,699.6 690.1,697.9 690.4,699.5 690.8,696.4 691.2,698.5 691.5,699.5 691.9,702.0 692.2,698.9 692.6,700.2 693.0,697.3 693.3,697.4 693.7,700.4 694.1,698.3 694.4,699.8 694.8,698.4 695.1,701.2 695.5,701.6 695.9,695.0 696.2,700.3 696.6,697.3 697.0,697.4 697.3,696.1 697.7,697.8 698.0,694.1 698.4,694.8 698.8,694.7 699.1,696.7 699.5,697.9 699.9,697.6 700.2,696.9 700.6,694.9 700.9,692.6 701.3,696.8 701.7,696.3 702.0,696.7 702.4,698.7 702.7,695.4 703.1,695.3 703.5,690.9 703.8,696.7 704.2,695.6 704.6,694.1 704.9,696.2 705.3,693.2 705.6,694.2 706.0,699.1 706.4,696.8 706.7,697.0 707.1,696.5 707.5,696.1 707.8,695.1 708.2,699.2 708.5,694.4 708.9,696.0 709.3,694.0 709.6,693.6 710.0,689.4 710.4,690.3 710.7,697.3 711.1,697.1 711.4,693.2 711.8,693.8 712.2,695.1 712.5,691.7 712.9,697.1 713.2,691.3 713.6,691.9 714.0,687.8 714.3,696.2 714.7,693.2 715.1,696.2 715.4,690.8 715.8,693.3 716.1,692.6 716.5,692.7 716.9,696.2 717.2,696.5 717.6,694.4 718.0,690.7 718.3,693.0 718.7,693.8 719.0,692.0 719.4,691.8 719.8,691.4 720.1,688.5 720.5,690.7 720.8,693.3 721.2,687.8 721.6,689.7 721.9,691.1 722.3,686.3 722.7,688.4 723.0,684.7 723.4,686.4 723.7,684.3 724.1,684.8 724.5,685.2 724.8,685.0 725.2,684.7 725.6,679.8 725.9,687.4 726.3,683.0 726.6,680.9 727.0,681.1 727.4,682.4 727.7,679.1 728.1,679.6 728.4,678.9 728.8,680.4 729.2,677.4 729.5,679.2 729.9,678.6 730.3,677.0 730.6,679.5 731.0,676.7 731.3,673.9 731.7,676.3 732.1,675.6 732.4,674.8 732.8,674.8 733.2,678.5 733.5,673.6 733.9,673.5 734.2,671.5 734.6,674.0 735.0,670.5 735.3,668.3 735.7,666.7 736.1,669.5 736.4,669.0 736.8,663.1 737.1,663.6 737.5,665.1 737.9,664.7 738.2,658.5 738.6,658.9 738.9,660.1 739.3,656.0 739.7,654.5 740.0,652.5 740.4,649.1 740.8,649.8 741.1,647.9 741.5,641.7 741.8,642.0 742.2,641.4 742.6,636.6 742.9,635.3 743.3,629.2 743.7,630.2 744.0,622.2 744.4,624.5 744.7,615.9 745.1,611.6 745.5,606.7 745.8,602.6 746.2,598.2 746.5,595.6 746.9,597.6 747.3,603.6 747.6,609.2 748.0,611.4 748.4,618.8 748.7,617.5 749.1,620.9 749.4,624.0 749.8,630.9 750.2,629.3 750.5,632.5 750.9,640.9 751.3,644.6 751.6,646.9 752.0,643.8 752.3,649.5 752.7,653.5 753.1,654.1 753.4,652.5 753.8,656.8 754.2,655.5 754.5,658.0 754.9,666.3 755.2,664.6 755.6,661.2 756.0,661.9 756.3,666.7 756.7,665.2 757.0,668.1 757.4,666.1 757.8,667.5 758.1,668.6 758.5,666.4 758.9,664.9 759.2,666.4 759.6,667.5 759.9,668.5 760.3,668.9 760.7,668.9 761.0,670.1 761.4,667.4 761.8,672.0 762.1,673.2 762.5,669.9 762.8,669.6 763.2,671.9 763.6,670.8 763.9,670.1 764.3,669.5 764.6,668.6 765.0,668.0 765.4,671.9 765.7,673.2 766.1,669.0 766.5,671.3 766.8,672.2 767.2,671.3 767.5,670.9 767.9,671.9 768.3,669.1 768.6,673.3 769.0,673.1 769.4,678.2 769.7,676.2 770.1,674.0 770.4,674.8 770.8,678.4 771.2,678.3 771.5,675.7 771.9,675.4 772.3,673.0 772.6,675.6 773.0,676.2 773.3,675.6 773.7,680.7 774.1,673.8 774.4,677.4 774.8,678.7 775.1,679.1 775.5,681.9 775.9,676.0 776.2,677.5 776.6,679.4 777.0,679.6 777.3,678.6 777.7,677.9 778.0,681.6 778.4,677.3 778.8,678.2 779.1,682.0 779.5,682.2 779.9,680.1 780.2,676.4 780.6,676.0 780.9,675.4 781.3,674.5 781.7,675.3 782.0,678.2 782.4,675.5 782.8,673.1 783.1,672.5 783.5,671.1 783.8,675.3 784.2,668.3 784.6,672.3 784.9,668.5 785.3,668.6 785.6,667.1 786.0,671.3 786.4,668.5 786.7,673.2 787.1,664.9 787.5,664.0 787.8,666.4 788.2,665.4 788.5,662.7 788.9,658.3 789.3,664.3 789.6,661.6 790.0,660.3 790.4,657.5 790.7,659.1 791.1,655.9 791.4,656.3 791.8,655.2 792.2,657.4 792.5,653.6 792.9,653.6 793.2,656.2 793.6,654.2 794.0,653.8 794.3,653.5 794.7,656.2 795.1,653.5 795.4,656.2 795.8,660.0 796.1,657.6 796.5,656.3 796.9,656.5 797.2,660.4 797.6,658.9 798.0,659.2 798.3,662.0 798.7,662.7 799.0,667.8 799.4,664.5 799.8,671.5 800.1,668.0 800.5,670.6 800.9,672.7 801.2,672.7 801.6,674.6 801.9,671.9 802.3,669.9 802.7,674.3 803.0,671.8 803.4,674.2 803.7,677.6 804.1,675.5 804.5,675.0 804.8,674.1 805.2,676.2 805.6,676.8 805.9,674.3 806.3,678.1 806.6,675.7 807.0,678.4 807.4,677.4 807.7,680.4 808.1,680.4 808.5,679.0 808.8,679.0 809.2,680.2 809.5,682.2 809.9,681.7 810.3,680.1 810.6,680.7 811.0,683.4 811.3,677.3 811.7,681.8 812.1,679.2 812.4,683.7 812.8,680.2 813.2,681.1 813.5,679.2 813.9,681.5 814.2,683.0 814.6,684.9 815.0,679.2 815.3,680.9 815.7,687.1 816.1,683.7 816.4,681.8 816.8,682.8 817.1,676.6 817.5,685.0 817.9,682.2 818.2,679.0 818.6,684.1 818.9,680.5 819.3,679.7 819.7,682.6 820.0,682.3 820.4,680.6 820.8,681.2 821.1,678.7 821.5,678.4 821.8,682.9 822.2,683.6 822.6,681.9 822.9,681.6 823.3,680.1 823.7,680.4 824.0,678.8 824.4,683.9 824.7,679.3 825.1,681.1 825.5,680.2 825.8,677.4 826.2,683.8 826.6,679.2 826.9,678.3 827.3,679.9 827.6,677.8 828.0,679.6 828.4,677.6 828.7,680.5 829.1,679.4 829.4,676.5 829.8,681.1 830.2,679.2 830.5,676.6 830.9,679.4 831.3,679.5 831.6,682.1 832.0,676.8 832.3,680.0 832.7,678.1 833.1,679.2 833.4,677.4 833.8,677.5 834.2,678.4 834.5,674.9 834.9,672.9 835.2,676.8 835.6,675.8 836.0,676.6 836.3,677.5 836.7,675.6 837.0,678.2 837.4,675.7 837.8,675.8 838.1,677.0 838.5,676.2 838.9,674.7 839.2,674.9 839.6,673.0 839.9,673.0 840.3,674.1 840.7,675.3 841.0,672.6 841.4,675.0 841.8,677.1 842.1,677.4 842.5,673.1 842.8,675.0 843.2,674.0 843.6,674.1 843.9,674.1 844.3,673.4 844.7,673.8 845.0,672.4 845.4,671.4 845.7,672.3 846.1,672.8 846.5,674.2 846.8,672.4 847.2,673.0 847.5,674.3 847.9,669.7 848.3,670.9 848.6,672.5 849.0,671.4 849.4,669.4 849.7,673.3 850.1,671.3 850.4,669.6 850.8,675.4 851.2,669.5 851.5,672.1 851.9,671.1 852.3,672.9 852.6,674.0 853.0,671.6 853.3,673.4 853.7,673.7 854.1,672.3 854.4,676.8 854.8,675.3 855.1,674.8 855.5,674.4 855.9,675.6 856.2,676.9 856.6,676.1 857.0,679.8 857.3,672.9 857.7,674.0 858.0,678.0 858.4,675.3 858.8,679.0 859.1,678.3 859.5,681.0 859.9,681.0 860.2,683.0 860.6,682.7 860.9,683.5 861.3,682.3 861.7,683.6 862.0,682.8 862.4,680.9 862.8,679.8 863.1,680.2 863.5,683.6 863.8,678.1 864.2,683.2 864.6,681.5 864.9,684.5 865.3,683.4 865.6,681.6 866.0,682.9 866.4,678.5 866.7,683.4 867.1,683.9 867.5,679.5 867.8,684.6 868.2,682.7 868.5,683.4 868.9,680.4 869.3,684.2 869.6,684.1 870.0,682.9 870.4,681.0 870.7,684.3 871.1,685.2 871.4,683.6 871.8,684.8 872.2,681.6 872.5,683.0 872.9,683.4 873.2,682.9 873.6,687.7 874.0,683.5 874.3,681.5 874.7,683.9 875.1,680.1 875.4,682.8 875.8,683.6 876.1,681.0 876.5,681.2 876.9,679.8 877.2,681.7 877.6,680.0 878.0,684.4 878.3,682.1 878.7,680.3 879.0,678.0 879.4,684.4 879.8,682.8 880.1,681.0 880.5,680.2 880.9,679.8 881.2,678.3 881.6,682.6 881.9,678.9 882.3,675.5 882.7,676.7 883.0,672.7 883.4,678.4 883.7,678.2 884.1,679.7 884.5,680.0 884.8,674.1 885.2,676.1 885.6,676.7 885.9,675.8 886.3,672.7 886.6,674.6 887.0,673.5 887.4,674.6 887.7,671.3 888.1,670.4 888.5,669.4 888.8,669.0 889.2,667.7 889.5,667.9 889.9,669.0 890.3,668.2 890.6,669.2 891.0,668.1 891.4,666.6 891.7,662.6 892.1,665.3 892.4,665.8 892.8,660.4 893.2,660.1 893.5,659.8 893.9,659.0 894.2,659.8 894.6,658.0 895.0,659.8 895.3,656.1 895.7,657.5 896.1,656.0 896.4,654.3 896.8,657.4 897.1,654.6 897.5,654.6 897.9,652.1 898.2,653.3 898.6,652.3 899.0,649.9 899.3,645.8 899.7,649.9 900.0,648.8 900.4,646.7 900.8,646.0 901.1,644.8 901.5,643.8 901.8,640.3 902.2,641.1 902.6,640.7 902.9,637.6 903.3,635.7 903.7,640.3 904.0,636.7 904.4,634.0 904.7,632.9 905.1,627.7 905.5,629.3 905.8,630.9 906.2,633.2 906.6,625.7 906.9,627.5 907.3,631.8 907.6,628.2 908.0,626.7 908.4,627.1 908.7,623.3 909.1,621.9 909.4,622.4 909.8,621.2 910.2,615.7 910.5,619.3 910.9,610.7 911.3,610.7 911.6,615.5 912.0,606.5 912.3,606.6 912.7,600.7 913.1,599.7 913.4,596.4 913.8,594.7 914.2,594.4 914.5,594.3 914.9,590.1 915.2,589.4 915.6,582.9 916.0,584.9 916.3,581.2 916.7,581.0 917.1,575.6 917.4,574.6 917.8,576.8 918.1,574.2 918.5,572.2 918.9,570.0 919.2,571.1 919.6,572.4 919.9,573.1 920.3,570.9 920.7,572.1 921.0,574.8 921.4,572.6 921.8,578.4 922.1,578.1 922.5,579.5 922.8,576.7 923.2,580.4 923.6,583.6 923.9,586.7 924.3,587.9 924.7,593.2 925.0,595.0 925.4,596.4 925.7,595.1 926.1,604.4 926.5,603.4 926.8,607.5 927.2,607.2 927.5,611.0 927.9,614.8 928.3,616.2 928.6,619.9 929.0,619.8 929.4,626.3 929.7,620.6 930.1,625.3 930.4,630.1 930.8,629.6 931.2,631.2 931.5,630.5 931.9,638.1 932.3,633.9 932.6,640.3 933.0,641.3 933.3,644.2 933.7,646.9 934.1,644.2 934.4,645.4 934.8,647.8 935.2,646.4 935.5,652.5 935.9,651.5 936.2,653.9 936.6,652.5 937.0,655.8 937.3,655.7 937.7,657.7 938.0,657.0 938.4,661.8 938.8,659.5 939.1,656.6 939.5,663.6 939.9,662.6 940.2,662.4 940.6,669.7 940.9,665.7 941.3,664.0 941.7,666.1 942.0,668.6 942.4,668.0 942.8,671.5 943.1,671.8 943.5,668.9 943.8,671.0 944.2,672.7 944.6,671.2 944.9,671.5 945.3,674.6 945.6,674.2 946.0,671.2 946.4,673.4 946.7,674.2 947.1,675.2 947.5,674.4 947.8,678.7 948.2,674.6 948.5,674.8 948.9,677.5 949.3,673.2 949.6,676.0 950.0,679.6 950.4,676.3 950.7,677.4 951.1,681.4 951.4,680.6 951.8,680.1 952.2,680.9 952.5,679.5 952.9,681.6 953.3,681.0 953.6,686.6 954.0,683.1 954.3,681.8 954.7,682.6 955.1,683.1 955.4,680.6 955.8,682.1 956.1,686.6 956.5,681.4 956.9,683.4 957.2,686.6 957.6,687.7 958.0,683.2 958.3,688.3 958.7,685.0 959.0,689.0 959.4,687.1 959.8,685.9 960.1,688.0 960.5,687.9 960.9,685.5 961.2,691.1 961.6,686.6 961.9,689.6 962.3,686.7 962.7,684.4 963.0,685.9 963.4,687.9 963.8,689.6 964.1,691.8 964.5,688.7 964.8,688.2 965.2,686.6 965.6,688.9 965.9,689.4 966.3,684.8 966.6,691.4 967.0,691.2 967.4,693.4 967.7,687.5 968.1,689.2 968.5,689.2 968.8,686.6 969.2,687.3 969.5,686.9 969.9,689.7 970.3,689.4 970.6,691.0 971.0,687.6 971.4,685.6 971.7,688.8 972.1,688.4 972.4,688.8 972.8,689.7 973.2,686.1 973.5,688.4 973.9,684.9 974.2,686.8 974.6,687.5 975.0,685.6 975.3,686.1 975.7,682.8 976.1,684.0 976.4,685.3 976.8,682.6 977.1,683.2 977.5,688.9 977.9,684.6 978.2,682.3 978.6,681.5 979.0,685.9 979.3,678.3 979.7,682.3 980.0,683.8 980.4,681.3 980.8,683.1 981.1,680.1 981.5,681.8 981.9,681.7 982.2,681.6 982.6,681.8 982.9,681.5 983.3,683.3 983.7,680.5 984.0,679.8 984.4,680.3 984.7,680.0 985.1,677.8 985.5,677.0 985.8,678.0 986.2,681.1 986.6,679.3 986.9,679.6 987.3,685.6 987.6,682.4 988.0,679.9 988.4,679.3 988.7,683.0 989.1,679.0 989.5,682.7 989.8,681.5 990.2,683.0 990.5,679.1 990.9,682.2 991.3,677.2 991.6,680.1 992.0,682.4 992.3,681.7 992.7,677.0 993.1,681.7 993.4,681.4 993.8,680.3 994.2,679.3 994.5,680.2 994.9,679.6 995.2,682.5 995.6,681.6 996.0,682.8 996.3,682.1 996.7,678.6 997.1,681.1 997.4,684.9 997.8,679.0 998.1,681.5 998.5,679.7 998.9,679.6 999.2,681.8 999.6,683.1 999.9,682.8 1000.3,682.3 1000.7,683.2 1001.0,678.4 1001.4,682.9 1001.8,682.0 1002.1,681.0 1002.5,681.3 1002.8,679.7 1003.2,683.4 1003.6,679.8 1003.9,678.6 1004.3,681.2 1004.7,680.1 1005.0,681.1 1005.4,683.9 1005.7,681.0 1006.1,681.4 1006.5,685.3 1006.8,678.6 1007.2,682.0 1007.6,683.6 1007.9,684.3 1008.3,685.7 1008.6,680.6 1009.0,683.0 1009.4,681.8 1009.7,681.3 1010.1,681.0 1010.4,679.9 1010.8,683.2 1011.2,684.1 1011.5,681.0 1011.9,684.5 1012.3,682.3 1012.6,681.5 1013.0,678.9 1013.3,685.6 1013.7,685.0 1014.1,683.4 1014.4,683.4 1014.8,681.8 1015.2,685.1 1015.5,684.1 1015.9,685.3 1016.2,684.9 1016.6,682.1 1017.0,681.8 1017.3,685.5 1017.7,681.8 1018.0,685.5 1018.4,686.9 1018.8,683.0 1019.1,686.6 1019.5,685.6 1019.9,686.5 1020.2,684.5 1020.6,685.8 1020.9,686.8 1021.3,689.5 1021.7,687.5 1022.0,687.1 1022.4,683.9 1022.8,687.0 1023.1,685.2 1023.5,686.4 1023.8,687.0 1024.2,688.2 1024.6,687.6 1024.9,686.9 1025.3,686.4 1025.7,689.1 1026.0,685.0 1026.4,686.6 1026.7,689.1 1027.1,686.1 1027.5,688.0 1027.8,688.0 1028.2,689.9 1028.5,688.2 1028.9,683.0 1029.3,686.1 1029.6,686.6 1030.0,687.4 1030.4,686.5 1030.7,689.1 1031.1,687.6 1031.4,683.4 1031.8,684.4 1032.2,681.5 1032.5,688.3 1032.9,684.8 1033.3,684.5 1033.6,681.7 1034.0,683.7 1034.3,685.3 1034.7,683.6 1035.1,683.6 1035.4,683.1 1035.8,687.7 1036.2,683.0 1036.5,681.2 1036.9,682.9 1037.2,683.0 1037.6,683.5 1038.0,683.2 1038.3,681.6 1038.7,683.2 1039.0,684.2 1039.4,680.7 1039.8,686.9 1040.1,686.4 1040.5,679.8 1040.9,682.5 1041.2,685.0 1041.6,685.6 1041.9,686.2 1042.3,679.4 1042.7,680.6 1043.0,681.5 1043.4,683.4 1043.8,680.4 1044.1,683.0 1044.5,682.8 1044.8,683.2 1045.2,679.4 1045.6,681.9 1045.9,681.6 1046.3,680.5 1046.6,683.4 1047.0,680.4 1047.4,683.4 1047.7,679.6 1048.1,683.7 1048.5,683.5 1048.8,678.7 1049.2,680.8 1049.5,680.6 1049.9,678.1 1050.3,681.2 1050.6,680.8 1051.0,677.9 1051.4,679.5 1051.7,680.8 1052.1,678.9 1052.4,677.8 1052.8,681.9 1053.2,677.0 1053.5,679.3 1053.9,680.6 1054.2,679.9 1054.6,675.0 1055.0,677.8 1055.3,678.0 1055.7,677.8 1056.1,679.2 1056.4,679.1 1056.8,678.4 1057.1,678.6 1057.5,679.8 1057.9,680.4 1058.2,674.6 1058.6,682.2 1059.0,677.3 1059.3,679.8 1059.7,675.4 1060.0,677.5 1060.4,676.4 1060.8,680.9 1061.1,680.7 1061.5,679.4 1061.9,679.4 1062.2,680.8 1062.6,678.7 1062.9,679.7 1063.3,679.8 1063.7,683.3 1064.0,682.2 1064.4,680.2 1064.7,683.7 1065.1,684.5 1065.5,686.5 1065.8,683.4 1066.2,685.6 1066.6,689.1 1066.9,685.2 1067.3,685.6 1067.6,687.8 1068.0,686.3 1068.4,687.7 1068.7,687.2 1069.1,687.1 1069.5,690.6 1069.8,688.5 1070.2,687.7 1070.5,689.3 1070.9,689.8 1071.3,690.8 1071.6,692.3 1072.0,694.2 1072.3,688.7 1072.7,690.7 1073.1,687.9 1073.4,691.8 1073.8,692.6 1074.2,690.7 1074.5,690.4 1074.9,690.3 1075.2,689.5 1075.6,693.6 1076.0,696.2 1076.3,690.7 1076.7,696.1 1077.1,693.1 1077.4,690.9 1077.8,694.7 1078.1,695.2 1078.5,694.8 1078.9,693.6 1079.2,697.3 1079.6,693.8 1080.0,695.6 1080.3,695.7 1080.7,693.1 1081.0,691.5 1081.4,691.7 1081.8,694.2 1082.1,695.7 1082.5,691.9 1082.8,693.9 1083.2,698.1 1083.6,692.1 1083.9,696.4 1084.3,696.3 1084.7,697.2 1085.0,693.1 1085.4,696.5 1085.7,693.2 1086.1,698.3 1086.5,694.4 1086.8,696.7 1087.2,694.6 1087.6,696.5 1087.9,693.4 1088.3,696.8 1088.6,697.4 1089.0,696.4 1089.4,699.3 1089.7,697.1 1090.1,698.0 1090.4,697.6 1090.8,700.1 1091.2,695.3 1091.5,696.0 1091.9,696.0 1092.3,697.6 1092.6,697.0 1093.0,698.0 1093.3,697.1 1093.7,695.6 1094.1,696.4 1094.4,697.4 1094.8,692.3 1095.2,699.0 1095.5,695.3 1095.9,695.7 1096.2,696.8 1096.6,695.8 1097.0,693.6 1097.3,695.8 1097.7,698.7 1098.1,698.0 1098.4,698.3 1098.8,695.0 1099.1,695.6 1099.5,697.9 1099.9,698.5 1100.2,695.7 1100.6,693.8 1100.9,691.9 1101.3,698.0 1101.7,692.4 1102.0,695.9 1102.4,696.6 1102.8,699.8 1103.1,695.3 1103.5,694.5 1103.8,695.4 1104.2,695.3 1104.6,696.7 1104.9,695.4 1105.3,692.5 1105.7,689.8 1106.0,694.1 1106.4,692.1 1106.7,695.8 1107.1,690.6 1107.5,693.2 1107.8,691.4 1108.2,691.0 1108.5,695.5 1108.9,692.4 1109.3,691.3 1109.6,692.8 1110.0,689.5 1110.4,689.9 1110.7,688.8 1111.1,693.4 1111.4,689.9 1111.8,690.1 1112.2,690.4 1112.5,687.3 1112.9,686.9 1113.3,683.5 1113.6,687.0 1114.0,686.1 1114.3,684.4 1114.7,686.8 1115.1,680.7 1115.4,684.2 1115.8,680.2 1116.2,680.2 1116.5,681.4 1116.9,683.9 1117.2,678.7 1117.6,678.6 1118.0,677.8 1118.3,683.5 1118.7,680.2 1119.0,679.7 1119.4,682.5 1119.8,679.0 1120.1,674.4 1120.5,677.2 1120.9,675.8 1121.2,681.7 1121.6,675.2 1121.9,678.4 1122.3,677.0 1122.7,677.3 1123.0,678.4 1123.4,678.4 1123.8,677.8 1124.1,677.2 1124.5,678.8 1124.8,678.6 1125.2,679.4 1125.6,681.9 1125.9,682.0 1126.3,683.8 1126.7,683.1 1127.0,687.8 1127.4,683.5 1127.7,683.6 1128.1,688.1 1128.5,685.4 1128.8,687.7 1129.2,689.8 1129.5,688.4 1129.9,688.4 1130.3,691.5 1130.6,690.9 1131.0,689.8 1131.4,688.9 1131.7,690.9 1132.1,688.8 1132.4,690.5 1132.8,690.3 1133.2,693.1 1133.5,694.3 1133.9,691.9 1134.3,692.5 1134.6,691.5 1135.0,691.0 1135.3,693.0 1135.7,695.2 1136.1,695.2 1136.4,695.7 1136.8,694.2 1137.1,690.0 1137.5,696.9 1137.9,697.9 1138.2,697.3 1138.6,697.4 1139.0,698.1 1139.3,701.1 1139.7,696.9 1140.0,699.4 1140.4,698.1 1140.8,698.2 1141.1,696.7 1141.5,696.4 1141.9,695.1 1142.2,698.4 1142.6,696.8 1142.9,695.2 1143.3,696.1 1143.7,695.5 1144.0,700.8 1144.4,697.4 1144.8,698.2 1145.1,695.8 1145.5,696.2 1145.8,700.2 1146.2,697.8 1146.6,698.6 1146.9,701.8 1147.3,702.3 1147.6,699.8 1148.0,699.4 1148.4,699.0 1148.7,698.1 1149.1,702.5 1149.5,696.4 1149.8,698.7 1150.2,695.3 1150.5,696.6 1150.9,699.7 1151.3,699.7 1151.6,699.5 1152.0,698.3 1152.4,697.4 1152.7,697.6 1153.1,697.8 1153.4,700.5 1153.8,701.1 1154.2,699.0 1154.5,697.0 1154.9,696.2 1155.2,698.3 1155.6,697.1 1156.0,693.9 1156.3,699.8 1156.7,697.0 1157.1,696.1 1157.4,694.8 1157.8,694.5 1158.1,697.7 1158.5,694.1 1158.9,695.8 1159.2,696.7 1159.6,698.8 1160.0,696.4 1160.3,695.0 1160.7,694.0 1161.0,696.1 1161.4,696.2 1161.8,693.4 1162.1,695.2 1162.5,693.5 1162.8,690.5 1163.2,691.5 1163.6,694.8 1163.9,695.8 1164.3,694.2 1164.7,692.4 1165.0,691.3 1165.4,693.5 1165.7,693.0 1166.1,689.2 1166.5,693.4 1166.8,690.6 1167.2,693.0 1167.6,692.5 1167.9,692.8 1168.3,693.4 1168.6,692.7 1169.0,689.3 1169.4,689.3 1169.7,693.2 1170.1,692.2 1170.5,688.3 1170.8,687.4 1171.2,692.9 1171.5,695.4 1171.9,692.9 1172.3,690.9 1172.6,691.7 1173.0,686.4 1173.3,689.3 1173.7,693.0 1174.1,692.7 1174.4,687.1 1174.8,693.4 1175.2,692.3 1175.5,693.2 1175.9,691.0 1176.2,691.5 1176.6,689.4 1177.0,692.1 1177.3,693.2 1177.7,689.8 1178.1,692.3 1178.4,690.7 1178.8,693.7 1179.1,693.7 1179.5,687.3 1179.9,692.7 1180.2,693.8 1180.6,690.9 1181.0,691.7 1181.3,691.9 1181.7,690.0 1182.0,692.0 1182.4,695.2 1182.8,693.2 1183.1,695.2 1183.5,694.3 1183.8,694.7 1184.2,692.6 1184.6,693.8 1184.9,696.3 1185.3,695.3 1185.7,693.2 1186.0,691.3 1186.4,690.8 1186.7,693.1 1187.1,693.5 1187.5,689.2 1187.8,693.2 1188.2,693.4 1188.6,693.3 1188.9,691.6 1189.3,697.1 1189.6,694.5 1190.0,690.3 1190.4,691.4 1190.7,694.2 1191.1,693.8 1191.4,693.1 1191.8,693.0 1192.2,692.6 1192.5,692.2 1192.9,691.1 1193.3,694.1 1193.6,688.1 1194.0,691.7 1194.3,695.4 1194.7,691.7 1195.1,691.1 1195.4,697.0 1195.8,695.5 1196.2,693.4 1196.5,692.8 1196.9,693.6 1197.2,693.5 1197.6,694.0 1198.0,693.2 1198.3,695.8 1198.7,693.8 1199.0,691.5 1199.4,692.6 1199.8,695.3 1200.1,693.7 1200.5,691.1 1200.9,699.0 1201.2,697.3 1201.6,695.7 1201.9,695.9 1202.3,698.0 1202.7,699.8 1203.0,696.2 1203.4,698.5 1203.8,696.7 1204.1,698.7 1204.5,696.3 1204.8,695.3 1205.2,699.1 1205.6,699.0 1205.9,700.7 1206.3,698.3 1206.7,702.6 1207.0,700.5 1207.4,703.5 1207.7,700.3 1208.1,704.0 1208.5,701.2 1208.8,701.7 1209.2,703.4 1209.5,698.5 1209.9,700.0 1210.3,705.8 1210.6,699.7 1211.0,701.8 1211.4,703.9 1211.7,705.8 1212.1,702.2 1212.4,703.4 1212.8,701.2 1213.2,702.8 1213.5,705.7 1213.9,704.4 1214.3,703.7 1214.6,704.5 1215.0,703.9 1215.3,703.9 1215.7,702.9 1216.1,701.9 1216.4,705.1 1216.8,701.8 1217.1,705.8 1217.5,707.9 1217.9,706.8 1218.2,708.3 1218.6,701.9 1219.0,704.3 1219.3,702.3 1219.7,702.4 1220.0,700.7 1220.4,701.7 1220.8,705.5 1221.1,705.1 1221.5,706.2 1221.9,706.0 1222.2,705.4 1222.6,702.5 1222.9,703.8 1223.3,705.4 1223.7,706.4 1224.0,703.3 1224.4,703.2 1224.8,703.4 1225.1,707.2 1225.5,705.2 1225.8,703.5 1226.2,702.7 1226.6,705.1 1226.9,701.1 1227.3,703.9 1227.6,703.3 1228.0,703.3 1228.4,704.8 1228.7,705.3 1229.1,709.3 1229.5,704.7 1229.8,705.8 1230.2,702.9 1230.5,701.4 1230.9,706.7 1231.3,708.2 1231.6,702.6 1232.0,704.3 1232.4,706.5 1232.7,704.6 1233.1,700.0 1233.4,706.4 1233.8,704.4 1234.2,705.9 1234.5,702.7 1234.9,706.3 1235.2,706.4 1235.6,703.1 1236.0,705.4 1236.3,703.3 1236.7,703.6 1237.1,702.7 1237.4,703.5 1237.8,702.9 1238.1,706.2 1238.5,703.4 1238.9,701.6 1239.2,706.1 1239.6,704.4 1240.0,705.0 1240.3,702.9 1240.7,704.0 1241.0,702.5 1241.4,700.6 1241.8,702.3 1242.1,702.2 1242.5,701.8 1242.9,702.9 1243.2,697.8 1243.6,701.4 1243.9,699.0 1244.3,699.7 1244.7,700.9 1245.0,700.0 1245.4,698.5 1245.7,700.8 1246.1,699.1 1246.5,700.7 1246.8,701.0 1247.2,697.8 1247.6,696.1 1247.9,698.0 1248.3,699.1 1248.6,697.7 1249.0,694.7 1249.4,693.5 1249.7,694.6 1250.1,694.3 1250.5,696.9 1250.8,695.6 1251.2,696.7 1251.5,694.7 1251.9,697.7 1252.3,694.3 1252.6,695.2 1253.0,693.1 1253.3,694.5 1253.7,695.4 1254.1,694.5 1254.4,695.1 1254.8,691.4 1255.2,693.1 1255.5,695.2 1255.9,692.2 1256.2,691.2 1256.6,690.8 1257.0,689.9 1257.3,690.8 1257.7,692.8 1258.1,690.8 1258.4,689.6 1258.8,688.0 1259.1,687.0 1259.5,693.3 1259.9,687.6 1260.2,688.3 1260.6,687.0 1261.0,687.8 1261.3,686.5 1261.7,687.3 1262.0,689.5 1262.4,685.1 1262.8,687.2 1263.1,686.0 1263.5,687.2 1263.8,684.4 1264.2,686.2 1264.6,683.3 1264.9,681.6 1265.3,682.3 1265.7,682.7 1266.0,682.2 1266.4,683.4 1266.7,685.9 1267.1,681.5 1267.5,684.3 1267.8,683.4 1268.2,681.6 1268.6,680.9 1268.9,683.1 1269.3,683.1 1269.6,681.3 1270.0,681.5 1270.4,681.5 1270.7,678.9 1271.1,681.2 1271.5,681.4 1271.8,683.8 1272.2,678.1 1272.5,678.6 1272.9,680.2 1273.3,678.8 1273.6,678.9 1274.0,679.5 1274.3,678.8 1274.7,679.0 1275.1,679.7 1275.4,675.9 1275.8,679.7 1276.2,674.4 1276.5,681.5 1276.9,679.9 1277.2,677.0 1277.6,679.8 1278.0,677.6 1278.3,678.4 1278.7,678.8 1279.1,677.8 1279.4,676.9 1279.8,677.8 1280.1,676.1 1280.5,675.5 1280.9,674.4 1281.2,672.7 1281.6,678.6 1281.9,676.9 1282.3,672.7 1282.7,675.8 1283.0,675.3 1283.4,670.7 1283.8,673.0 1284.1,674.0 1284.5,677.1 1284.8,675.7 1285.2,675.8 1285.6,673.9 1285.9,675.0 1286.3,671.0 1286.7,674.3 1287.0,674.5 1287.4,670.9 1287.7,673.5 1288.1,675.9 1288.5,676.6 1288.8,675.8 1289.2,672.2 1289.5,673.6 1289.9,673.3 1290.3,676.8 1290.6,673.6 1291.0,673.7 1291.4,673.2 1291.7,677.2 1292.1,678.3 1292.4,677.1 1292.8,677.6 1293.2,679.3 1293.5,682.9 1293.9,678.7 1294.3,681.8 1294.6,682.9 1295.0,683.9 1295.3,686.3 1295.7,686.2 1296.1,685.9 1296.4,688.6 1296.8,688.6 1297.2,687.7 1297.5,688.1 1297.9,685.9 1298.2,688.6 1298.6,687.4 1299.0,687.2 1299.3,689.1 1299.7,686.9 1300.0,688.8 1300.4,690.0 1300.8,691.8 1301.1,690.9 1301.5,692.6 1301.9,695.2 1302.2,694.2 1302.6,690.9 1302.9,690.1 1303.3,692.0 1303.7,692.3 1304.0,690.6 1304.4,691.5 1304.8,691.8 1305.1,694.1 1305.5,698.2 1305.8,699.0 1306.2,694.2 1306.6,695.4 1306.9,694.0 1307.3,693.7 1307.6,696.7 1308.0,697.1 1308.4,696.2 1308.7,698.8 1309.1,697.1 1309.5,699.9 1309.8,697.1 1310.2,699.7 1310.5,697.9 1310.9,698.6 1311.3,699.7 1311.6,696.4 1312.0,697.5 1312.4,698.7 1312.7,698.4 1313.1,699.3 1313.4,697.5 1313.8,696.6 1314.2,699.0 1314.5,699.8 1314.9,698.0 1315.3,701.8 1315.6,700.9 1316.0,701.1 1316.3,700.9 1316.7,698.2 1317.1,703.7 1317.4,698.6 1317.8,700.8 1318.1,701.4 1318.5,700.8 1318.9,700.5 1319.2,698.7 1319.6,699.5 1320.0,700.3 1320.3,702.7 1320.7,699.4 1321.0,701.8 1321.4,701.4 1321.8,700.8 1322.1,699.8 1322.5,700.7 1322.9,697.9 1323.2,701.2 1323.6,701.7 1323.9,700.3 1324.3,702.2 1324.7,701.7 1325.0,699.9 1325.4,702.7 1325.8,700.4 1326.1,705.8 1326.5,699.7 1326.8,700.1 1327.2,700.4 1327.6,702.0 1327.9,703.7 1328.3,701.8 1328.6,701.0 1329.0,705.4 1329.4,703.9 1329.7,701.6 1330.1,701.8 1330.5,699.1 1330.8,702.2 1331.2,705.2 1331.5,699.9 1331.9,699.5 1332.3,702.3 1332.6,697.8 1333.0,704.7 1333.4,699.4 1333.7,700.9 1334.1,701.8 1334.4,704.4 1334.8,703.0 1335.2,698.8 1335.5,699.2 1335.9,702.6 1336.2,698.5 1336.6,701.7 1337.0,700.7 1337.3,703.6 1337.7,704.4 1338.1,697.6 1338.4,702.9 1338.8,703.4 1339.1,700.9 1339.5,701.3 1339.9,700.2 1340.2,701.7 1340.6,703.1 1341.0,704.8 1341.3,705.0 1341.7,701.9 1342.0,701.0 1342.4,704.3 1342.8,697.7 1343.1,700.0 1343.5,703.7 1343.8,706.5 1344.2,700.9 1344.6,702.6 1344.9,700.4 1345.3,702.3 1345.7,702.3 1346.0,701.0 1346.4,703.0 1346.7,702.0 1347.1,703.3 1347.5,702.0 1347.8,700.1 1348.2,702.6 1348.6,703.9 1348.9,700.9 1349.3,704.8 1349.6,703.2 1350.0,701.7 1350.4,702.4 1350.7,701.7 1351.1,700.8 1351.5,704.2 1351.8,704.2 1352.2,701.7 1352.5,702.4 1352.9,702.4 1353.3,704.1 1353.6,705.5 1354.0,701.8 1354.3,703.6 1354.7,703.0 1355.1,704.0 1355.4,705.7 1355.8,701.6 1356.2,699.4 1356.5,702.8 1356.9,700.1 1357.2,706.1 1357.6,701.8 1358.0,702.5 1358.3,703.4 1358.7,703.3 1359.1,702.2 1359.4,703.1 1359.8,704.8 1360.1,702.4 1360.5,706.3 1360.9,703.6 1361.2,698.6 1361.6,704.6 1362.0,699.7 1362.3,703.6 1362.7,707.0 1363.0,704.8 1363.4,700.9 1363.8,701.5 1364.1,703.1 1364.5,705.8 1364.8,702.0 1365.2,705.3 1365.6,703.9 1365.9,703.1 1366.3,703.1 1366.7,706.4 1367.0,700.5 1367.4,701.3 1367.7,705.0 1368.1,705.2 1368.5,701.1 1368.8,701.8 1369.2,701.4 1369.6,704.5 1369.9,702.3 1370.3,706.2 1370.6,705.1 1371.0,704.2"/>
<polyline fill="none" stroke="#000000" stroke-width="7.0" stroke-linejoin="round" stroke-linecap="butt" points="104.0,525.7 104.4,527.5 104.7,533.4 105.1,530.3 105.4,523.2 105.8,528.4 106.2,526.7 106.5,529.3 106.9,523.8 107.3,529.9 107.6,530.0 108.0,534.4 108.3,530.7 108.7,531.6 109.1,525.3 109.4,537.3 109.8,524.2 110.2,534.1 110.5,529.7 110.9,528.2 111.2,529.2 111.6,529.4 112.0,532.9 112.3,531.8 112.7,537.2 113.0,527.0 113.4,533.2 113.8,530.6 114.1,536.2 114.5,527.5 114.9,533.3 115.2,535.3 115.6,530.3 115.9,538.3 116.3,535.8 116.7,538.7 117.0,538.7 117.4,532.7 117.8,533.5 118.1,535.6 118.5,538.9 118.8,539.2 119.2,534.5 119.6,535.1 119.9,534.4 120.3,535.2 120.7,536.4 121.0,536.9 121.4,543.7 121.7,535.7 122.1,536.5 122.5,539.1 122.8,534.7 123.2,536.6 123.5,537.8 123.9,540.4 124.3,533.8 124.6,542.6 125.0,537.4 125.4,539.2 125.7,541.4 126.1,540.9 126.4,542.3 126.8,539.7 127.2,539.0 127.5,540.1 127.9,536.2 128.3,543.4 128.6,537.4 129.0,536.0 129.3,546.5 129.7,539.7 130.1,536.6 130.4,546.1 130.8,539.4 131.2,544.0 131.5,538.3 131.9,540.1 132.2,535.7 132.6,534.9 133.0,537.8 133.3,540.6 133.7,543.2 134.0,548.3 134.4,537.4 134.8,543.9 135.1,538.9 135.5,540.3 135.9,536.0 136.2,535.8 136.6,538.0 136.9,536.8 137.3,540.6 137.7,538.4 138.0,544.4 138.4,541.0 138.8,541.0 139.1,544.0 139.5,542.4 139.8,540.5 140.2,540.5 140.6,540.4 140.9,544.2 141.3,543.4 141.6,542.1 142.0,543.6 142.4,539.4 142.7,542.7 143.1,536.9 143.5,545.4 143.8,541.8 144.2,542.1 144.5,543.1 144.9,541.1 145.3,540.4 145.6,545.1 146.0,542.0 146.4,538.9 146.7,543.2 147.1,536.5 147.4,546.9 147.8,541.6 148.2,542.3 148.5,549.1 148.9,548.9 149.2,542.9 149.6,544.3 150.0,546.0 150.3,547.9 150.7,542.3 151.1,543.2 151.4,546.6 151.8,543.9 152.1,545.8 152.5,545.6 152.9,540.0 153.2,540.9 153.6,535.4 154.0,542.7 154.3,547.5 154.7,540.1 155.0,547.3 155.4,546.5 155.8,543.3 156.1,543.5 156.5,543.7 156.9,540.8 157.2,542.8 157.6,543.4 157.9,545.5 158.3,546.0 158.7,541.3 159.0,546.1 159.4,541.1 159.7,543.0 160.1,544.6 160.5,543.7 160.8,543.4 161.2,544.7 161.6,542.0 161.9,541.9 162.3,543.3 162.6,546.9 163.0,543.5 163.4,549.3 163.7,544.1 164.1,535.4 164.5,542.4 164.8,548.8 165.2,543.9 165.5,542.4 165.9,541.2 166.3,547.9 166.6,546.9 167.0,546.0 167.3,545.2 167.7,548.3 168.1,546.6 168.4,540.3 168.8,546.4 169.2,544.6 169.5,543.6 169.9,546.2 170.2,544.1 170.6,536.3 171.0,549.6 171.3,548.2 171.7,544.7 172.1,543.9 172.4,545.8 172.8,541.3 173.1,546.2 173.5,544.6 173.9,544.4 174.2,542.7 174.6,543.6 175.0,549.0 175.3,549.7 175.7,547.3 176.0,545.8 176.4,543.4 176.8,548.4 177.1,551.3 177.5,541.8 177.8,550.2 178.2,540.1 178.6,545.7 178.9,547.9 179.3,542.7 179.7,542.5 180.0,547.6 180.4,549.8 180.7,546.1 181.1,551.5 181.5,545.3 181.8,553.0 182.2,548.2 182.6,548.7 182.9,549.9 183.3,549.0 183.6,553.6 184.0,554.8 184.4,549.8 184.7,547.9 185.1,545.0 185.4,546.6 185.8,548.9 186.2,548.7 186.5,549.2 186.9,549.4 187.3,551.1 187.6,545.7 188.0,546.8 188.3,553.3 188.7,552.8 189.1,548.9 189.4,554.5 189.8,548.9 190.2,550.2 190.5,545.7 190.9,554.0 191.2,551.6 191.6,555.0 192.0,554.2 192.3,552.6 192.7,552.8 193.1,555.8 193.4,551.9 193.8,552.0 194.1,552.6 194.5,554.8 194.9,555.1 195.2,558.1 195.6,552.1 195.9,556.1 196.3,550.1 196.7,553.6 197.0,552.2 197.4,556.9 197.8,553.5 198.1,550.2 198.5,552.8 198.8,551.9 199.2,549.4 199.6,548.8 199.9,546.0 200.3,555.7 200.7,547.2 201.0,548.2 201.4,539.8 201.7,537.4 202.1,537.5 202.5,535.0 202.8,537.1 203.2,532.8 203.6,540.0 203.9,545.8 204.3,540.9 204.6,548.5 205.0,544.3 205.4,549.3 205.7,550.1 206.1,554.9 206.4,548.4 206.8,551.5 207.2,554.2 207.5,547.9 207.9,551.4 208.3,549.0 208.6,549.7 209.0,553.9 209.3,554.2 209.7,559.6 210.1,556.4 210.4,556.1 210.8,552.0 211.2,551.7 211.5,553.2 211.9,546.3 212.2,557.7 212.6,550.9 213.0,549.6 213.3,551.5 213.7,555.4 214.0,556.3 214.4,551.5 214.8,554.0 215.1,552.5 215.5,549.9 215.9,553.3 216.2,552.8 216.6,548.2 216.9,556.0 217.3,548.3 217.7,553.5 218.0,549.9 218.4,550.3 218.8,550.6 219.1,554.7 219.5,548.9 219.8,552.0 220.2,557.1 220.6,550.6 220.9,552.5 221.3,554.6 221.6,551.1 222.0,554.4 222.4,551.2 222.7,555.1 223.1,553.2 223.5,550.3 223.8,557.2 224.2,552.9 224.5,552.4 224.9,550.5 225.3,551.9 225.6,553.0 226.0,554.0 226.4,556.5 226.7,549.4 227.1,552.2 227.4,556.8 227.8,553.7 228.2,554.4 228.5,557.9 228.9,554.3 229.3,554.5 229.6,552.9 230.0,558.1 230.3,556.3 230.7,551.3 231.1,555.0 231.4,549.9 231.8,556.4 232.1,555.0 232.5,552.6 232.9,551.8 233.2,547.9 233.6,555.3 234.0,552.9 234.3,552.5 234.7,555.4 235.0,551.4 235.4,551.6 235.8,551.3 236.1,549.4 236.5,560.2 236.9,552.7 237.2,552.1 237.6,555.7 237.9,545.2 238.3,552.9 238.7,553.0 239.0,550.3 239.4,554.3 239.8,547.2 240.1,552.8 240.5,555.3 240.8,546.2 241.2,548.5 241.6,551.9 241.9,552.3 242.3,550.5 242.6,553.2 243.0,552.9 243.4,548.4 243.7,551.8 244.1,548.2 244.5,545.9 244.8,545.0 245.2,554.8 245.5,551.6 245.9,557.4 246.3,547.7 246.6,550.9 247.0,552.9 247.4,551.7 247.7,553.8 248.1,552.8 248.4,550.6 248.8,545.6 249.2,549.8 249.5,557.3 249.9,554.5 250.2,556.3 250.6,550.8 251.0,551.9 251.3,550.1 251.7,553.9 252.1,553.0 252.4,554.0 252.8,557.7 253.1,550.4 253.5,554.9 253.9,548.8 254.2,555.7 254.6,551.1 255.0,551.9 255.3,552.4 255.7,556.5 256.0,551.7 256.4,550.2 256.8,548.1 257.1,552.2 257.5,549.0 257.9,549.8 258.2,551.0 258.6,552.8 258.9,548.8 259.3,552.3 259.7,555.2 260.0,545.8 260.4,553.7 260.7,555.7 261.1,547.8 261.5,551.2 261.8,545.5 262.2,550.3 262.6,548.2 262.9,549.9 263.3,546.5 263.6,546.7 264.0,547.7 264.4,547.0 264.7,546.9 265.1,547.8 265.5,545.2 265.8,547.8 266.2,549.4 266.5,541.6 266.9,548.6 267.3,546.0 267.6,545.0 268.0,544.4 268.3,545.6 268.7,546.0 269.1,548.9 269.4,544.7 269.8,550.8 270.2,545.8 270.5,549.9 270.9,551.1 271.2,544.7 271.6,551.1 272.0,554.0 272.3,547.1 272.7,549.9 273.1,548.1 273.4,548.6 273.8,548.0 274.1,547.2 274.5,550.6 274.9,551.1 275.2,548.9 275.6,553.2 275.9,552.2 276.3,551.3 276.7,547.4 277.0,554.5 277.4,553.1 277.8,543.7 278.1,546.6 278.5,548.4 278.8,552.3 279.2,553.2 279.6,549.3 279.9,550.8 280.3,552.2 280.7,547.0 281.0,552.2 281.4,549.9 281.7,551.4 282.1,551.0 282.5,548.0 282.8,548.5 283.2,551.2 283.6,551.5 283.9,550.6 284.3,554.1 284.6,550.5 285.0,548.5 285.4,550.9 285.7,551.4 286.1,551.6 286.4,555.1 286.8,553.5 287.2,554.9 287.5,553.8 287.9,551.8 288.3,555.0 288.6,551.7 289.0,553.0 289.3,549.7 289.7,552.6 290.1,551.6 290.4,553.5 290.8,557.3 291.2,558.7 291.5,555.2 291.9,552.7 292.2,554.9 292.6,553.2 293.0,551.0 293.3,552.6 293.7,552.2 294.0,551.3 294.4,556.4 294.8,551.4 295.1,551.7 295.5,554.9 295.9,551.3 296.2,550.3 296.6,551.2 296.9,554.8 297.3,554.6 297.7,554.5 298.0,552.6 298.4,551.5 298.8,556.2 299.1,550.0 299.5,553.2 299.8,550.4 300.2,552.9 300.6,553.6 300.9,557.0 301.3,546.8 301.7,557.5 302.0,551.7 302.4,554.9 302.7,556.2 303.1,552.1 303.5,553.9 303.8,555.3 304.2,553.6 304.5,552.1 304.9,554.4 305.3,554.3 305.6,550.1 306.0,557.5 306.4,554.8 306.7,548.0 307.1,552.2 307.4,558.8 307.8,558.4 308.2,555.0 308.5,550.1 308.9,553.8 309.3,557.0 309.6,555.4 310.0,553.4 310.3,552.4 310.7,556.2 311.1,553.5 311.4,554.9 311.8,555.4 312.1,558.2 312.5,554.4 312.9,554.6 313.2,549.6 313.6,556.8 314.0,556.2 314.3,553.8 314.7,548.0 315.0,552.2 315.4,553.9 315.8,559.0 316.1,555.3 316.5,555.8 316.9,555.9 317.2,557.1 317.6,550.9 317.9,551.7 318.3,550.9 318.7,553.2 319.0,552.8 319.4,553.9 319.8,550.9 320.1,553.7 320.5,551.1 320.8,558.2 321.2,551.4 321.6,558.9 321.9,556.3 322.3,548.9 322.6,553.9 323.0,552.5 323.4,546.5 323.7,550.9 324.1,547.9 324.5,547.7 324.8,542.8 325.2,542.5 325.5,540.8 325.9,536.1 326.3,531.7 326.6,530.3 327.0,527.2 327.4,531.6 327.7,526.8 328.1,540.5 328.4,540.3 328.8,544.1 329.2,547.3 329.5,543.9 329.9,554.2 330.2,547.1 330.6,551.9 331.0,552.4 331.3,555.4 331.7,552.7 332.1,549.6 332.4,554.3 332.8,547.7 333.1,553.5 333.5,553.0 333.9,558.0 334.2,553.4 334.6,553.1 335.0,552.5 335.3,552.3 335.7,553.1 336.0,555.9 336.4,551.3 336.8,554.2 337.1,551.2 337.5,554.3 337.9,555.0 338.2,551.6 338.6,553.0 338.9,554.7 339.3,556.2 339.7,556.5 340.0,553.9 340.4,551.8 340.7,550.2 341.1,556.0 341.5,557.4 341.8,554.9 342.2,557.6 342.6,552.6 342.9,552.7 343.3,557.3 343.6,550.9 344.0,554.6 344.4,553.8 344.7,553.2 345.1,556.9 345.5,550.3 345.8,551.1 346.2,547.2 346.5,549.4 346.9,550.7 347.3,550.7 347.6,550.9 348.0,551.9 348.4,549.3 348.7,545.9 349.1,550.7 349.4,551.1 349.8,547.1 350.2,547.7 350.5,553.8 350.9,551.6 351.2,551.6 351.6,550.3 352.0,549.0 352.3,547.0 352.7,549.2 353.1,547.0 353.4,546.1 353.8,546.7 354.1,546.1 354.5,548.0 354.9,543.1 355.2,551.0 355.6,542.1 356.0,542.9 356.3,545.8 356.7,541.2 357.0,541.6 357.4,542.4 357.8,535.3 358.1,539.9 358.5,538.2 358.8,539.4 359.2,540.6 359.6,540.4 359.9,542.0 360.3,541.3 360.7,539.8 361.0,536.7 361.4,538.8 361.7,533.3 362.1,534.9 362.5,538.1 362.8,535.9 363.2,529.9 363.6,531.3 363.9,534.4 364.3,533.1 364.6,533.7 365.0,526.1 365.4,526.7 365.7,528.6 366.1,526.2 366.4,527.8 366.8,527.1 367.2,527.2 367.5,525.1 367.9,526.0 368.3,525.6 368.6,523.1 369.0,518.7 369.3,523.9 369.7,520.2 370.1,519.5 370.4,517.6 370.8,512.0 371.2,516.0 371.5,511.6 371.9,508.7 372.2,513.3 372.6,507.6 373.0,507.4 373.3,507.0 373.7,507.0 374.1,496.4 374.4,496.9 374.8,498.1 375.1,492.5 375.5,484.9 375.9,489.6 376.2,487.3 376.6,486.1 376.9,482.0 377.3,477.6 377.7,476.6 378.0,473.4 378.4,469.7 378.8,469.2 379.1,466.9 379.5,461.0 379.8,464.1 380.2,461.5 380.6,459.6 380.9,448.9 381.3,454.8 381.7,453.1 382.0,450.2 382.4,453.8 382.7,448.1 383.1,455.4 383.5,453.7 383.8,452.0 384.2,458.2 384.6,456.9 384.9,458.1 385.3,455.7 385.6,462.3 386.0,466.5 386.4,468.0 386.7,464.2 387.1,473.5 387.4,476.5 387.8,477.1 388.2,476.4 388.5,476.1 388.9,480.1 389.3,483.4 389.6,487.8 390.0,490.7 390.3,489.7 390.7,489.7 391.1,494.9 391.4,494.7 391.8,503.4 392.2,499.3 392.5,505.6 392.9,508.5 393.2,506.1 393.6,512.9 394.0,512.0 394.3,512.2 394.7,513.5 395.0,517.9 395.4,521.8 395.8,516.3 396.1,523.8 396.5,523.4 396.9,523.2 397.2,526.2 397.6,527.9 397.9,529.0 398.3,532.2 398.7,529.1 399.0,537.0 399.4,535.3 399.8,532.5 400.1,530.1 400.5,535.2 400.8,534.9 401.2,538.2 401.6,538.5 401.9,541.7 402.3,537.2 402.6,539.5 403.0,536.9 403.4,537.0 403.7,541.7 404.1,537.8 404.5,538.0 404.8,537.3 405.2,538.9 405.5,539.6 405.9,537.8 406.3,535.3 406.6,539.0 407.0,536.1 407.4,537.2 407.7,538.4 408.1,538.4 408.4,532.2 408.8,541.6 409.2,539.4 409.5,541.8 409.9,543.0 410.3,534.7 410.6,535.4 411.0,537.2 411.3,538.6 411.7,535.1 412.1,535.4 412.4,538.5 412.8,533.5 413.1,535.8 413.5,537.8 413.9,534.5 414.2,536.7 414.6,534.4 415.0,530.6 415.3,532.9 415.7,533.4 416.0,533.0 416.4,533.6 416.8,534.3 417.1,533.9 417.5,533.4 417.9,531.6 418.2,531.9 418.6,531.3 418.9,530.6 419.3,535.1 419.7,527.1 420.0,531.9 420.4,527.3 420.8,529.6 421.1,532.7 421.5,529.8 421.8,533.5 422.2,527.7 422.6,529.0 422.9,528.0 423.3,529.3 423.6,528.3 424.0,527.8 424.4,528.8 424.7,530.8 425.1,528.4 425.5,528.0 425.8,526.8 426.2,525.4 426.5,523.3 426.9,523.6 427.3,525.7 427.6,520.9 428.0,526.4 428.4,523.3 428.7,521.3 429.1,521.6 429.4,523.9 429.8,522.6 430.2,521.7 430.5,524.5 430.9,525.3 431.2,516.0 431.6,520.5 432.0,515.7 432.3,513.8 432.7,514.9 433.1,517.8 433.4,514.1 433.8,513.1 434.1,516.9 434.5,514.2 434.9,512.0 435.2,515.7 435.6,511.6 436.0,507.8 436.3,506.2 436.7,506.9 437.0,506.9 437.4,507.6 437.8,506.0 438.1,502.9 438.5,498.3 438.8,502.1 439.2,498.4 439.6,494.0 439.9,491.8 440.3,493.5 440.7,491.9 441.0,490.9 441.4,483.8 441.7,489.2 442.1,477.7 442.5,479.8 442.8,480.7 443.2,477.6 443.6,470.0 443.9,471.2 444.3,469.9 444.6,466.0 445.0,458.7 445.4,462.4 445.7,450.9 446.1,451.8 446.5,445.7 446.8,444.0 447.2,440.7 447.5,439.0 447.9,430.3 448.3,429.5 448.6,427.3 449.0,418.8 449.3,414.2 449.7,407.8 450.1,398.0 450.4,391.8 450.8,385.4 451.2,379.0 451.5,375.5 451.9,366.9 452.2,353.8 452.6,346.9 453.0,338.3 453.3,327.8 453.7,331.1 454.1,321.7 454.4,307.6 454.8,306.1 455.1,305.5 455.5,292.9 455.9,285.4 456.2,276.6 456.6,264.7 456.9,254.0 457.3,245.9 457.7,240.5 458.0,232.5 458.4,230.9 458.8,232.1 459.1,229.8 459.5,233.8 459.8,235.6 460.2,239.9 460.6,258.5 460.9,263.8 461.3,275.2 461.7,280.9 462.0,287.5 462.4,306.9 462.7,307.8 463.1,324.5 463.5,334.8 463.8,348.7 464.2,362.5 464.6,375.2 464.9,382.9 465.3,407.1 465.6,408.9 466.0,421.4 466.4,422.3 466.7,423.9 467.1,429.7 467.4,432.6 467.8,441.4 468.2,449.2 468.5,453.9 468.9,457.2 469.3,465.3 469.6,468.6 470.0,477.3 470.3,477.5 470.7,479.6 471.1,485.5 471.4,489.2 471.8,494.6 472.2,498.6 472.5,504.0 472.9,507.1 473.2,508.1 473.6,511.7 474.0,511.4 474.3,513.7 474.7,510.6 475.1,516.3 475.4,518.2 475.8,526.6 476.1,518.0 476.5,522.1 476.9,521.6 477.2,519.0 477.6,523.6 477.9,523.1 478.3,519.6 478.7,517.3 479.0,522.7 479.4,519.3 479.8,524.1 480.1,521.6 480.5,523.4 480.8,521.2 481.2,525.5 481.6,523.3 481.9,525.2 482.3,522.0 482.7,519.0 483.0,517.7 483.4,519.4 483.7,520.6 484.1,517.9 484.5,524.5 484.8,517.9 485.2,518.4 485.5,516.6 485.9,512.5 486.3,516.9 486.6,514.6 487.0,513.9 487.4,508.3 487.7,509.1 488.1,507.5 488.4,509.1 488.8,501.6 489.2,504.8 489.5,504.3 489.9,497.4 490.3,493.2 490.6,494.6 491.0,487.7 491.3,485.1 491.7,478.7 492.1,474.0 492.4,465.4 492.8,454.1 493.1,452.9 493.5,439.7 493.9,432.7 494.2,422.3 494.6,419.4 495.0,400.2 495.3,384.5 495.7,362.7 496.0,335.0 496.4,312.1 496.8,289.5 497.1,270.1 497.5,267.8 497.9,260.3 498.2,266.7 498.6,285.2 498.9,307.6 499.3,330.9 499.7,354.0 500.0,376.5 500.4,391.8 500.8,412.9 501.1,424.2 501.5,424.9 501.8,431.0 502.2,446.6 502.6,452.7 502.9,453.7 503.3,464.8 503.6,468.7 504.0,474.6 504.4,487.0 504.7,489.0 505.1,490.1 505.5,493.8 505.8,500.8 506.2,497.6 506.5,504.8 506.9,504.2 507.3,510.1 507.6,511.0 508.0,510.8 508.4,516.8 508.7,517.2 509.1,521.8 509.4,517.9 509.8,520.5 510.2,519.8 510.5,525.3 510.9,521.7 511.2,524.4 511.6,528.3 512.0,527.4 512.3,527.5 512.7,528.1 513.1,529.3 513.4,530.6 513.8,529.0 514.1,525.7 514.5,533.8 514.9,528.9 515.2,535.9 515.6,532.9 516.0,538.3 516.3,535.7 516.7,534.3 517.0,535.9 517.4,530.9 517.8,534.8 518.1,533.8 518.5,535.1 518.9,530.7 519.2,530.6 519.6,537.5 519.9,536.4 520.3,535.6 520.7,536.6 521.0,535.8 521.4,536.5 521.7,539.5 522.1,537.9 522.5,540.3 522.8,537.6 523.2,535.5 523.6,538.6 523.9,540.2 524.3,538.7 524.6,540.8 525.0,541.1 525.4,544.8 525.7,545.1 526.1,546.1 526.5,542.5 526.8,545.6 527.2,548.3 527.5,546.3 527.9,546.2 528.3,545.1 528.6,549.0 529.0,548.1 529.3,550.3 529.7,548.2 530.1,553.5 530.4,549.3 530.8,547.0 531.2,550.5 531.5,551.6 531.9,553.6 532.2,549.9 532.6,549.9 533.0,550.8 533.3,550.6 533.7,547.1 534.1,553.5 534.4,554.7 534.8,550.5 535.1,550.2 535.5,552.3 535.9,551.2 536.2,555.0 536.6,552.1 537.0,555.0 537.3,551.1 537.7,551.0 538.0,550.9 538.4,551.5 538.8,555.8 539.1,556.9 539.5,555.6 539.8,556.0 540.2,550.8 540.6,558.1 540.9,553.2 541.3,559.0 541.7,561.5 542.0,556.7 542.4,558.0 542.7,558.3 543.1,554.2 543.5,554.8 543.8,556.0 544.2,557.8 544.6,559.5 544.9,558.1 545.3,560.3 545.6,556.9 546.0,554.9 546.4,558.0 546.7,557.8 547.1,554.9 547.5,560.2 547.8,556.0 548.2,556.6 548.5,558.7 548.9,555.8 549.3,559.6 549.6,559.1 550.0,559.2 550.3,558.1 550.7,556.9 551.1,556.1 551.4,558.3 551.8,560.6 552.2,559.3 552.5,558.2 552.9,559.5 553.2,560.1 553.6,554.5 554.0,557.0 554.3,559.7 554.7,555.7 555.1,555.9 555.4,558.1 555.8,556.3 556.1,559.2 556.5,555.9 556.9,557.7 557.2,561.5 557.6,558.5 557.9,553.0 558.3,553.5 558.7,553.4 559.0,555.3 559.4,552.3 559.8,556.3 560.1,558.6 560.5,558.2 560.8,553.1 561.2,554.0 561.6,553.7 561.9,552.2 562.3,557.2 562.7,552.0 563.0,550.9 563.4,553.7 563.7,553.4 564.1,555.7 564.5,555.5 564.8,551.6 565.2,547.3 565.5,552.9 565.9,553.0 566.3,554.8 566.6,547.5 567.0,548.0 567.4,553.6 567.7,553.5 568.1,552.6 568.4,549.6 568.8,552.1 569.2,548.0 569.5,546.4 569.9,548.8 570.3,548.9 570.6,550.2 571.0,550.7 571.3,544.5 571.7,548.7 572.1,548.8 572.4,544.9 572.8,546.8 573.2,547.4 573.5,548.0 573.9,545.1 574.2,545.4 574.6,544.1 575.0,546.9 575.3,545.2 575.7,544.4 576.0,546.7 576.4,544.8 576.8,542.5 577.1,547.1 577.5,546.5 577.9,545.2 578.2,541.9 578.6,546.1 578.9,542.2 579.3,539.3 579.7,542.7 580.0,546.5 580.4,541.7 580.8,543.4 581.1,544.7 581.5,541.9 581.8,540.8 582.2,541.1 582.6,542.0 582.9,539.5 583.3,540.9 583.6,541.0 584.0,538.6 584.4,540.5 584.7,539.7 585.1,537.5 585.5,537.2 585.8,537.3 586.2,536.2 586.5,535.5 586.9,533.2 587.3,535.0 587.6,535.6 588.0,534.7 588.4,531.2 588.7,533.4 589.1,532.9 589.4,529.0 589.8,531.4 590.2,529.4 590.5,528.5 590.9,529.3 591.3,527.9 591.6,523.5 592.0,527.8 592.3,524.8 592.7,526.5 593.1,527.8 593.4,525.6 593.8,524.9 594.1,525.8 594.5,526.5 594.9,523.7 595.2,524.2 595.6,526.5 596.0,528.7 596.3,525.6 596.7,527.5 597.0,524.5 597.4,526.3 597.8,526.7 598.1,524.3 598.5,527.1 598.9,527.1 599.2,522.7 599.6,528.2 599.9,529.3 600.3,529.7 600.7,530.2 601.0,527.9 601.4,529.0 601.8,530.8 602.1,530.0 602.5,531.3 602.8,535.2 603.2,531.5 603.6,533.2 603.9,538.1 604.3,534.7 604.6,533.4 605.0,536.5 605.4,536.9 605.7,537.4 606.1,534.2 606.5,538.5 606.8,539.0 607.2,542.7 607.5,540.4 607.9,538.5 608.3,540.3 608.6,541.4 609.0,540.3 609.4,540.9 609.7,544.0 610.1,542.5 610.4,543.0 610.8,540.5 611.2,543.7 611.5,539.3 611.9,545.9 612.2,542.9 612.6,545.4 613.0,547.1 613.3,542.5 613.7,547.2 614.1,545.7 614.4,547.8 614.8,545.3 615.1,544.9 615.5,549.0 615.9,547.6 616.2,547.1 616.6,544.9 617.0,549.9 617.3,547.0 617.7,547.5 618.0,546.7 618.4,548.3 618.8,549.7 619.1,548.7 619.5,548.9 619.9,548.2 620.2,552.3 620.6,552.7 620.9,549.0 621.3,548.0 621.7,550.2 622.0,546.7 622.4,550.3 622.7,550.6 623.1,550.4 623.5,553.3 623.8,553.8 624.2,551.3 624.6,549.8 624.9,552.6 625.3,552.7 625.6,548.3 626.0,549.3 626.4,550.2 626.7,547.5 627.1,548.5 627.5,553.9 627.8,548.3 628.2,552.5 628.5,549.5 628.9,553.0 629.3,551.9 629.6,553.1 630.0,548.8 630.3,552.2 630.7,550.7 631.1,553.4 631.4,553.4 631.8,552.4 632.2,552.0 632.5,552.3 632.9,553.1 633.2,551.8 633.6,552.3 634.0,552.3 634.3,552.1 634.7,556.8 635.1,552.9 635.4,558.8 635.8,558.4 636.1,554.5 636.5,555.2 636.9,559.6 637.2,558.4 637.6,561.5 637.9,563.8 638.3,563.5 638.7,563.1 639.0,563.7 639.4,567.5 639.8,564.4 640.1,569.0 640.5,569.8 640.8,565.3 641.2,566.9 641.6,569.8 641.9,565.3 642.3,567.7 642.7,569.1 643.0,565.2 643.4,568.0 643.7,567.6 644.1,566.5 644.5,570.6 644.8,567.6 645.2,572.4 645.6,569.4 645.9,566.8 646.3,568.9 646.6,567.0 647.0,570.2 647.4,570.1 647.7,566.6 648.1,568.2 648.4,569.9 648.8,569.2 649.2,567.1 649.5,571.1 649.9,571.7 650.3,566.4 650.6,572.0 651.0,565.5 651.3,569.4 651.7,568.5 652.1,568.8 652.4,570.2 652.8,567.8 653.2,569.9 653.5,573.3 653.9,571.1 654.2,573.2 654.6,572.0 655.0,567.4 655.3,573.9 655.7,572.1 656.0,571.9 656.4,569.9 656.8,569.8 657.1,568.9 657.5,570.7 657.9,571.2 658.2,570.8 658.6,570.8 658.9,567.4 659.3,569.6 659.7,569.5 660.0,571.6 660.4,570.2 660.8,570.3 661.1,571.3 661.5,570.2 661.8,570.7 662.2,573.3 662.6,570.9 662.9,569.6 663.3,572.5 663.7,572.9 664.0,572.6 664.4,569.0 664.7,573.2 665.1,571.7 665.5,571.9 665.8,571.9 666.2,572.7 666.5,572.7 666.9,574.7 667.3,572.5 667.6,571.9 668.0,573.3 668.4,571.9 668.7,574.3 669.1,572.5 669.4,573.7 669.8,571.4 670.2,574.2 670.5,573.5 670.9,570.8 671.3,571.8 671.6,572.8 672.0,570.2 672.3,570.7 672.7,573.6 673.1,573.6 673.4,575.2 673.8,570.3 674.1,572.0 674.5,569.0 674.9,576.1 675.2,570.3 675.6,572.3 676.0,576.4 676.3,575.5 676.7,571.3 677.0,577.2 677.4,573.7 677.8,571.0 678.1,573.4 678.5,574.0 678.9,573.9 679.2,568.8 679.6,576.1 679.9,569.7 680.3,572.2 680.7,575.3 681.0,573.3 681.4,572.6 681.8,571.5 682.1,573.7 682.5,575.1 682.8,571.5 683.2,573.2 683.6,571.7 683.9,571.4 684.3,568.1 684.6,572.4 685.0,573.7 685.4,571.8 685.7,574.0 686.1,572.5 686.5,574.3 686.8,572.2 687.2,571.2 687.5,571.0 687.9,572.0 688.3,572.4 688.6,570.3 689.0,571.3 689.4,569.0 689.7,569.0 690.1,572.6 690.4,572.1 690.8,573.0 691.2,571.6 691.5,571.9 691.9,574.8 692.2,569.8 692.6,571.7 693.0,574.0 693.3,574.8 693.7,571.9 694.1,570.7 694.4,568.8 694.8,570.4 695.1,570.9 695.5,570.5 695.9,571.3 696.2,571.5 696.6,569.6 697.0,568.9 697.3,569.9 697.7,571.1 698.0,573.3 698.4,567.2 698.8,572.1 699.1,569.5 699.5,572.1 699.9,573.4 700.2,571.0 700.6,567.9 700.9,569.2 701.3,570.6 701.7,569.2 702.0,569.7 702.4,568.4 702.7,569.4 703.1,568.6 703.5,571.4 703.8,570.2 704.2,570.9 704.6,566.5 704.9,568.6 705.3,567.9 705.6,568.4 706.0,567.5 706.4,567.7 706.7,571.9 707.1,568.4 707.5,566.7 707.8,568.3 708.2,572.8 708.5,569.9 708.9,567.0 709.3,568.1 709.6,568.4 710.0,568.6 710.4,565.1 710.7,566.6 711.1,568.0 711.4,565.0 711.8,567.9 712.2,568.3 712.5,569.6 712.9,570.1 713.2,567.8 713.6,568.4 714.0,569.1 714.3,569.5 714.7,567.8 715.1,566.1 715.4,568.5 715.8,569.0 716.1,567.6 716.5,568.3 716.9,570.1 717.2,566.1 717.6,565.6 718.0,564.7 718.3,567.1 718.7,568.0 719.0,565.1 719.4,569.2 719.8,564.6 720.1,566.0 720.5,565.1 720.8,567.6 721.2,563.9 721.6,568.0 721.9,564.5 722.3,562.1 722.7,563.3 723.0,563.9 723.4,566.9 723.7,562.7 724.1,563.3 724.5,566.8 724.8,563.0 725.2,561.1 725.6,560.7 725.9,559.0 726.3,562.1 726.6,563.3 727.0,559.9 727.4,558.2 727.7,560.2 728.1,559.3 728.4,558.6 728.8,559.0 729.2,557.7 729.5,556.4 729.9,558.3 730.3,552.4 730.6,552.9 731.0,553.9 731.3,551.0 731.7,555.3 732.1,547.3 732.4,551.4 732.8,549.9 733.2,548.1 733.5,546.7 733.9,543.2 734.2,541.3 734.6,543.7 735.0,539.0 735.3,534.6 735.7,533.1 736.1,530.5 736.4,531.9 736.8,531.4 737.1,526.4 737.5,525.1 737.9,521.5 738.2,521.9 738.6,519.4 738.9,516.9 739.3,516.1 739.7,507.6 740.0,508.7 740.4,501.2 740.8,502.3 741.1,499.0 741.5,495.2 741.8,491.3 742.2,485.0 742.6,479.6 742.9,477.9 743.3,470.5 743.7,468.9 744.0,461.5 744.4,460.2 744.7,456.9 745.1,452.1 745.5,451.8 745.8,453.9 746.2,452.7 746.5,455.6 746.9,456.0 747.3,461.1 747.6,462.1 748.0,468.0 748.4,477.1 748.7,480.6 749.1,484.5 749.4,489.8 749.8,491.6 750.2,499.6 750.5,500.4 750.9,505.1 751.3,511.3 751.6,511.7 752.0,515.2 752.3,519.0 752.7,522.0 753.1,526.7 753.4,523.3 753.8,527.9 754.2,531.6 754.5,531.5 754.9,533.2 755.2,533.8 755.6,536.3 756.0,539.3 756.3,541.7 756.7,541.1 757.0,543.9 757.4,542.5 757.8,540.1 758.1,545.5 758.5,541.3 758.9,545.6 759.2,546.5 759.6,545.0 759.9,547.3 760.3,547.2 760.7,549.0 761.0,548.6 761.4,550.8 761.8,549.6 762.1,551.8 762.5,551.1 762.8,552.0 763.2,552.1 763.6,551.4 763.9,554.6 764.3,553.9 764.6,549.0 765.0,551.1 765.4,556.7 765.7,553.3 766.1,559.1 766.5,555.1 766.8,555.3 767.2,553.8 767.5,554.3 767.9,555.2 768.3,556.6 768.6,555.3 769.0,555.3 769.4,553.7 769.7,554.7 770.1,554.8 770.4,555.4 770.8,554.3 771.2,553.7 771.5,555.2 771.9,551.5 772.3,553.3 772.6,554.7 773.0,556.8 773.3,554.8 773.7,554.1 774.1,557.3 774.4,555.8 774.8,558.5 775.1,555.7 775.5,554.7 775.9,555.4 776.2,559.1 776.6,558.4 777.0,556.0 777.3,557.5 777.7,553.1 778.0,557.7 778.4,555.9 778.8,555.0 779.1,555.0 779.5,555.4 779.9,554.0 780.2,553.8 780.6,552.2 780.9,556.9 781.3,552.3 781.7,553.4 782.0,555.4 782.4,555.6 782.8,555.8 783.1,551.9 783.5,551.9 783.8,552.2 784.2,548.9 784.6,553.3 784.9,548.3 785.3,550.5 785.6,552.0 786.0,551.7 786.4,549.0 786.7,551.0 787.1,550.6 787.5,545.2 787.8,547.4 788.2,548.5 788.5,547.6 788.9,546.0 789.3,545.7 789.6,549.6 790.0,544.4 790.4,546.6 790.7,542.3 791.1,545.0 791.4,545.7 791.8,542.8 792.2,542.2 792.5,546.4 792.9,542.5 793.2,544.4 793.6,539.7 794.0,545.2 794.3,538.5 794.7,540.3 795.1,540.9 795.4,541.7 795.8,542.3 796.1,544.9 796.5,545.8 796.9,545.6 797.2,543.9 797.6,543.0 798.0,539.2 798.3,543.1 798.7,542.6 799.0,545.1 799.4,542.7 799.8,543.6 800.1,544.4 800.5,547.5 800.9,547.4 801.2,545.9 801.6,545.2 801.9,547.9 802.3,548.5 802.7,549.3 803.0,551.2 803.4,553.0 803.7,553.7 804.1,551.8 804.5,552.2 804.8,557.0 805.2,554.3 805.6,556.6 805.9,556.1 806.3,556.8 806.6,559.3 807.0,556.4 807.4,558.9 807.7,558.0 808.1,557.0 808.5,556.3 808.8,556.3 809.2,559.4 809.5,559.3 809.9,556.1 810.3,558.5 810.6,554.6 811.0,557.9 811.3,561.6 811.7,556.0 812.1,558.6 812.4,557.0 812.8,558.4 813.2,556.5 813.5,558.8 813.9,554.4 814.2,558.2 814.6,558.1 815.0,558.5 815.3,562.2 815.7,556.7 816.1,557.7 816.4,556.6 816.8,559.9 817.1,559.1 817.5,557.0 817.9,560.6 818.2,559.6 818.6,561.7 818.9,560.5 819.3,559.4 819.7,557.8 820.0,555.4 820.4,558.0 820.8,561.1 821.1,558.6 821.5,557.4 821.8,559.3 822.2,560.2 822.6,563.8 822.9,557.0 823.3,558.1 823.7,556.6 824.0,557.3 824.4,560.1 824.7,558.1 825.1,555.5 825.5,560.5 825.8,561.2 826.2,559.4 826.6,556.0 826.9,555.6 827.3,559.6 827.6,555.3 828.0,556.0 828.4,554.1 828.7,560.0 829.1,555.2 829.4,555.8 829.8,554.5 830.2,554.4 830.5,553.4 830.9,557.2 831.3,553.7 831.6,557.2 832.0,552.1 832.3,555.1 832.7,555.8 833.1,551.8 833.4,554.0 833.8,552.2 834.2,551.0 834.5,551.9 834.9,549.2 835.2,551.8 835.6,549.3 836.0,553.1 836.3,554.4 836.7,553.9 837.0,549.7 837.4,550.4 837.8,553.9 838.1,552.2 838.5,550.7 838.9,545.3 839.2,548.1 839.6,552.2 839.9,548.6 840.3,546.5 840.7,546.9 841.0,550.6 841.4,548.1 841.8,543.0 842.1,542.8 842.5,544.5 842.8,546.3 843.2,542.1 843.6,542.0 843.9,537.9 844.3,541.0 844.7,542.9 845.0,542.5 845.4,538.4 845.7,542.2 846.1,538.7 846.5,537.3 846.8,540.6 847.2,536.6 847.5,538.4 847.9,537.5 848.3,538.7 848.6,539.3 849.0,538.1 849.4,537.4 849.7,538.2 850.1,535.0 850.4,539.6 850.8,543.9 851.2,541.3 851.5,543.6 851.9,542.2 852.3,543.0 852.6,544.7 853.0,546.0 853.3,546.8 853.7,545.2 854.1,547.8 854.4,546.0 854.8,551.5 855.1,550.6 855.5,551.0 855.9,550.2 856.2,554.3 856.6,556.1 857.0,556.0 857.3,557.8 857.7,555.1 858.0,558.9 858.4,557.9 858.8,553.6 859.1,559.3 859.5,557.2 859.9,558.9 860.2,557.9 860.6,557.7 860.9,561.2 861.3,558.2 861.7,559.4 862.0,560.4 862.4,558.5 862.8,557.0 863.1,559.5 863.5,559.3 863.8,557.9 864.2,559.8 864.6,562.0 864.9,561.5 865.3,562.6 865.6,562.4 866.0,560.2 866.4,559.7 866.7,557.7 867.1,562.0 867.5,558.6 867.8,560.8 868.2,562.8 868.5,560.0 868.9,557.0 869.3,558.0 869.6,559.1 870.0,562.3 870.4,559.2 870.7,559.6 871.1,557.8 871.4,560.4 871.8,559.9 872.2,561.2 872.5,557.9 872.9,560.8 873.2,556.9 873.6,558.3 874.0,558.5 874.3,559.2 874.7,560.1 875.1,555.1 875.4,559.1 875.8,558.5 876.1,556.6 876.5,558.6 876.9,559.9 877.2,558.2 877.6,557.9 878.0,559.9 878.3,557.2 878.7,560.4 879.0,559.1 879.4,559.1 879.8,559.3 880.1,560.3 880.5,556.4 880.9,559.7 881.2,555.8 881.6,557.9 881.9,558.1 882.3,557.2 882.7,554.7 883.0,554.4 883.4,554.4 883.7,556.2 884.1,556.4 884.5,556.8 884.8,552.8 885.2,556.0 885.6,557.2 885.9,555.3 886.3,554.7 886.6,555.9 887.0,557.0 887.4,556.6 887.7,556.5 888.1,551.1 888.5,555.9 888.8,552.4 889.2,554.2 889.5,551.2 889.9,552.7 890.3,550.6 890.6,550.8 891.0,554.6 891.4,548.4 891.7,551.9 892.1,549.8 892.4,547.0 892.8,551.0 893.2,548.1 893.5,546.6 893.9,547.7 894.2,545.0 894.6,549.1 895.0,542.6 895.3,543.8 895.7,540.4 896.1,544.1 896.4,544.4 896.8,544.1 897.1,544.7 897.5,541.2 897.9,539.7 898.2,541.7 898.6,538.4 899.0,539.6 899.3,537.5 899.7,536.4 900.0,537.1 900.4,538.8 900.8,537.8 901.1,535.7 901.5,529.9 901.8,534.3 902.2,534.3 902.6,534.0 902.9,531.0 903.3,533.6 903.7,531.4 904.0,526.5 904.4,530.8 904.7,531.7 905.1,528.2 905.5,525.3 905.8,529.3 906.2,526.6 906.6,520.2 906.9,524.6 907.3,522.2 907.6,520.8 908.0,515.6 908.4,514.4 908.7,516.6 909.1,518.6 909.4,513.7 909.8,511.9 910.2,508.8 910.5,507.5 910.9,508.4 911.3,503.2 911.6,506.4 912.0,501.5 912.3,499.0 912.7,495.9 913.1,492.5 913.4,490.9 913.8,486.0 914.2,486.2 914.5,479.5 914.9,484.8 915.2,477.3 915.6,471.2 916.0,471.6 916.3,468.1 916.7,463.5 917.1,462.0 917.4,456.7 917.8,455.0 918.1,451.8 918.5,450.4 918.9,445.5 919.2,444.8 919.6,436.6 919.9,442.5 920.3,439.0 920.7,438.4 921.0,435.9 921.4,437.8 921.8,435.7 922.1,436.9 922.5,438.1 922.8,439.1 923.2,441.4 923.6,448.1 923.9,452.4 924.3,455.4 924.7,462.8 925.0,465.4 925.4,470.9 925.7,477.0 926.1,480.9 926.5,483.6 926.8,486.1 927.2,490.7 927.5,494.0 927.9,501.4 928.3,498.0 928.6,510.3 929.0,507.6 929.4,514.1 929.7,515.0 930.1,517.8 930.4,516.4 930.8,522.8 931.2,522.4 931.5,525.5 931.9,524.2 932.3,527.5 932.6,527.7 933.0,531.1 933.3,533.2 933.7,532.9 934.1,535.5 934.4,537.0 934.8,537.3 935.2,538.2 935.5,536.5 935.9,543.3 936.2,543.0 936.6,543.4 937.0,545.5 937.3,545.3 937.7,546.8 938.0,549.4 938.4,546.6 938.8,549.8 939.1,551.7 939.5,549.0 939.9,550.6 940.2,555.5 940.6,557.8 940.9,554.8 941.3,556.0 941.7,553.6 942.0,558.1 942.4,556.0 942.8,556.6 943.1,557.5 943.5,556.1 943.8,556.3 944.2,557.9 944.6,556.3 944.9,557.4 945.3,554.0 945.6,557.1 946.0,560.1 946.4,561.6 946.7,560.8 947.1,558.5 947.5,560.3 947.8,558.7 948.2,558.8 948.5,562.8 948.9,560.5 949.3,560.8 949.6,562.0 950.0,563.5 950.4,562.3 950.7,561.7 951.1,562.9 951.4,562.2 951.8,562.0 952.2,558.7 952.5,561.4 952.9,562.9 953.3,561.5 953.6,566.8 954.0,567.8 954.3,566.7 954.7,562.1 955.1,564.8 955.4,564.8 955.8,564.7 956.1,561.3 956.5,565.9 956.9,567.5 957.2,566.0 957.6,568.5 958.0,564.1 958.3,566.1 958.7,567.4 959.0,563.5 959.4,565.0 959.8,563.9 960.1,566.9 960.5,563.3 960.9,566.0 961.2,564.5 961.6,567.2 961.9,564.8 962.3,565.6 962.7,566.4 963.0,564.6 963.4,565.3 963.8,565.8 964.1,565.5 964.5,566.8 964.8,565.0 965.2,566.6 965.6,565.9 965.9,565.5 966.3,564.5 966.6,563.2 967.0,565.3 967.4,567.5 967.7,566.0 968.1,569.3 968.5,564.9 968.8,566.0 969.2,563.9 969.5,568.8 969.9,564.3 970.3,567.5 970.6,567.3 971.0,571.4 971.4,569.1 971.7,568.1 972.1,567.0 972.4,570.2 972.8,566.1 973.2,564.5 973.5,568.3 973.9,566.6 974.2,565.4 974.6,567.3 975.0,567.6 975.3,563.9 975.7,568.5 976.1,570.2 976.4,566.0 976.8,564.1 977.1,567.3 977.5,566.7 977.9,568.4 978.2,568.5 978.6,566.7 979.0,569.7 979.3,563.4 979.7,565.6 980.0,567.2 980.4,567.6 980.8,566.7 981.1,567.7 981.5,564.5 981.9,562.7 982.2,568.3 982.6,569.3 982.9,566.9 983.3,564.8 983.7,565.6 984.0,567.9 984.4,567.1 984.7,569.1 985.1,569.8 985.5,569.0 985.8,566.4 986.2,568.6 986.6,567.5 986.9,566.9 987.3,566.6 987.6,565.9 988.0,564.1 988.4,566.3 988.7,564.0 989.1,565.0 989.5,566.2 989.8,566.0 990.2,560.9 990.5,562.8 990.9,561.7 991.3,564.0 991.6,561.9 992.0,564.5 992.3,561.6 992.7,562.8 993.1,559.9 993.4,560.0 993.8,560.5 994.2,561.5 994.5,556.7 994.9,560.3 995.2,557.3 995.6,559.9 996.0,556.2 996.3,558.4 996.7,561.0 997.1,561.3 997.4,556.6 997.8,561.2 998.1,557.1 998.5,557.5 998.9,558.2 999.2,557.4 999.6,557.8 999.9,557.4 1000.3,558.6 1000.7,557.4 1001.0,556.2 1001.4,555.0 1001.8,554.8 1002.1,556.6 1002.5,557.9 1002.8,557.2 1003.2,556.0 1003.6,557.3 1003.9,555.5 1004.3,556.7 1004.7,557.2 1005.0,555.7 1005.4,558.8 1005.7,558.5 1006.1,556.2 1006.5,557.8 1006.8,557.0 1007.2,557.2 1007.6,557.2 1007.9,558.9 1008.3,557.2 1008.6,557.1 1009.0,558.5 1009.4,558.5 1009.7,560.0 1010.1,555.4 1010.4,558.1 1010.8,553.6 1011.2,557.1 1011.5,554.9 1011.9,555.0 1012.3,557.4 1012.6,555.9 1013.0,557.4 1013.3,553.3 1013.7,560.9 1014.1,554.0 1014.4,558.0 1014.8,562.6 1015.2,557.6 1015.5,563.5 1015.9,562.7 1016.2,561.0 1016.6,560.9 1017.0,561.3 1017.3,562.5 1017.7,564.3 1018.0,565.2 1018.4,559.4 1018.8,564.9 1019.1,564.7 1019.5,561.6 1019.9,565.5 1020.2,565.7 1020.6,565.8 1020.9,564.1 1021.3,565.5 1021.7,566.3 1022.0,562.9 1022.4,563.1 1022.8,562.8 1023.1,565.9 1023.5,563.6 1023.8,562.1 1024.2,561.3 1024.6,560.8 1024.9,563.4 1025.3,564.1 1025.7,564.6 1026.0,560.3 1026.4,560.1 1026.7,559.9 1027.1,559.9 1027.5,558.5 1027.8,563.8 1028.2,561.6 1028.5,559.6 1028.9,555.7 1029.3,562.4 1029.6,561.2 1030.0,559.7 1030.4,560.7 1030.7,557.9 1031.1,560.2 1031.4,557.9 1031.8,559.6 1032.2,558.5 1032.5,556.3 1032.9,556.9 1033.3,560.8 1033.6,560.6 1034.0,558.5 1034.3,557.7 1034.7,558.2 1035.1,559.8 1035.4,556.8 1035.8,561.0 1036.2,557.9 1036.5,557.5 1036.9,559.5 1037.2,563.2 1037.6,558.6 1038.0,559.2 1038.3,558.0 1038.7,560.7 1039.0,560.9 1039.4,560.7 1039.8,560.1 1040.1,561.7 1040.5,562.5 1040.9,560.6 1041.2,561.1 1041.6,560.6 1041.9,560.8 1042.3,564.2 1042.7,560.3 1043.0,562.5 1043.4,564.2 1043.8,561.7 1044.1,563.8 1044.5,564.2 1044.8,560.3 1045.2,564.8 1045.6,561.3 1045.9,563.3 1046.3,560.4 1046.6,560.3 1047.0,562.7 1047.4,566.0 1047.7,567.8 1048.1,568.2 1048.5,565.7 1048.8,565.5 1049.2,564.8 1049.5,564.6 1049.9,562.7 1050.3,562.6 1050.6,564.1 1051.0,564.2 1051.4,562.2 1051.7,561.2 1052.1,562.1 1052.4,568.4 1052.8,562.2 1053.2,566.1 1053.5,565.7 1053.9,565.5 1054.2,562.5 1054.6,567.3 1055.0,564.3 1055.3,562.6 1055.7,562.5 1056.1,563.5 1056.4,567.6 1056.8,561.6 1057.1,562.8 1057.5,564.0 1057.9,565.0 1058.2,562.3 1058.6,562.5 1059.0,563.4 1059.3,565.6 1059.7,564.1 1060.0,564.1 1060.4,565.0 1060.8,564.9 1061.1,566.4 1061.5,563.4 1061.9,564.7 1062.2,563.6 1062.6,566.2 1062.9,566.4 1063.3,564.4 1063.7,567.0 1064.0,564.5 1064.4,567.4 1064.7,564.2 1065.1,564.2 1065.5,562.2 1065.8,563.1 1066.2,564.1 1066.6,561.1 1066.9,564.9 1067.3,566.6 1067.6,566.0 1068.0,565.4 1068.4,566.4 1068.7,564.2 1069.1,564.6 1069.5,567.0 1069.8,565.3 1070.2,567.3 1070.5,564.7 1070.9,567.0 1071.3,568.2 1071.6,565.8 1072.0,569.1 1072.3,569.0 1072.7,561.9 1073.1,571.3 1073.4,563.8 1073.8,571.3 1074.2,565.2 1074.5,563.1 1074.9,564.5 1075.2,568.1 1075.6,565.5 1076.0,566.4 1076.3,569.8 1076.7,565.9 1077.1,568.8 1077.4,570.5 1077.8,564.9 1078.1,566.3 1078.5,568.9 1078.9,568.6 1079.2,569.2 1079.6,565.2 1080.0,567.4 1080.3,569.9 1080.7,570.3 1081.0,571.7 1081.4,568.7 1081.8,568.2 1082.1,567.7 1082.5,567.9 1082.8,565.9 1083.2,572.7 1083.6,568.9 1083.9,568.3 1084.3,568.4 1084.7,570.6 1085.0,569.8 1085.4,568.3 1085.7,571.7 1086.1,570.4 1086.5,569.6 1086.8,570.1 1087.2,572.3 1087.6,571.4 1087.9,569.9 1088.3,572.0 1088.6,566.2 1089.0,571.5 1089.4,568.6 1089.7,569.1 1090.1,569.8 1090.4,573.6 1090.8,570.0 1091.2,570.0 1091.5,571.5 1091.9,566.7 1092.3,569.9 1092.6,571.4 1093.0,568.4 1093.3,571.1 1093.7,568.5 1094.1,567.1 1094.4,571.4 1094.8,569.8 1095.2,570.9 1095.5,569.8 1095.9,567.4 1096.2,571.2 1096.6,570.0 1097.0,570.0 1097.3,568.4 1097.7,567.1 1098.1,571.5 1098.4,570.2 1098.8,569.0 1099.1,567.5 1099.5,570.9 1099.9,566.8 1100.2,566.8 1100.6,571.8 1100.9,568.9 1101.3,569.3 1101.7,568.8 1102.0,571.1 1102.4,567.8 1102.8,567.9 1103.1,565.2 1103.5,566.6 1103.8,563.6 1104.2,565.4 1104.6,565.8 1104.9,566.8 1105.3,567.7 1105.7,563.8 1106.0,562.8 1106.4,565.1 1106.7,562.7 1107.1,567.2 1107.5,566.2 1107.8,562.0 1108.2,563.9 1108.5,565.6 1108.9,561.4 1109.3,561.8 1109.6,562.2 1110.0,564.4 1110.4,562.3 1110.7,560.6 1111.1,561.2 1111.4,560.1 1111.8,560.0 1112.2,560.1 1112.5,559.3 1112.9,559.6 1113.3,557.9 1113.6,556.9 1114.0,556.4 1114.3,553.5 1114.7,555.0 1115.1,558.6 1115.4,554.6 1115.8,555.2 1116.2,555.4 1116.5,552.4 1116.9,552.3 1117.2,553.5 1117.6,550.6 1118.0,553.6 1118.3,552.8 1118.7,551.7 1119.0,551.6 1119.4,552.2 1119.8,550.8 1120.1,545.9 1120.5,551.1 1120.9,548.5 1121.2,549.3 1121.6,549.4 1121.9,549.5 1122.3,547.4 1122.7,547.3 1123.0,551.0 1123.4,551.7 1123.8,552.8 1124.1,550.2 1124.5,552.5 1124.8,555.1 1125.2,553.5 1125.6,553.8 1125.9,559.2 1126.3,553.3 1126.7,555.6 1127.0,555.7 1127.4,557.6 1127.7,564.2 1128.1,558.1 1128.5,560.2 1128.8,560.4 1129.2,560.7 1129.5,564.3 1129.9,562.6 1130.3,565.9 1130.6,567.1 1131.0,564.2 1131.4,568.1 1131.7,563.9 1132.1,567.0 1132.4,568.5 1132.8,565.1 1133.2,567.1 1133.5,568.3 1133.9,568.7 1134.3,568.4 1134.6,571.7 1135.0,568.0 1135.3,570.6 1135.7,572.6 1136.1,567.8 1136.4,568.4 1136.8,567.5 1137.1,570.9 1137.5,572.5 1137.9,567.0 1138.2,568.7 1138.6,569.5 1139.0,574.9 1139.3,570.3 1139.7,572.0 1140.0,569.4 1140.4,573.4 1140.8,570.0 1141.1,571.9 1141.5,570.1 1141.9,572.0 1142.2,572.0 1142.6,572.9 1142.9,573.0 1143.3,575.9 1143.7,571.4 1144.0,575.2 1144.4,573.3 1144.8,572.5 1145.1,573.4 1145.5,573.3 1145.8,574.3 1146.2,574.2 1146.6,573.9 1146.9,573.3 1147.3,569.7 1147.6,574.0 1148.0,574.5 1148.4,573.1 1148.7,572.9 1149.1,571.0 1149.5,573.1 1149.8,574.1 1150.2,570.1 1150.5,571.6 1150.9,571.5 1151.3,574.6 1151.6,571.6 1152.0,569.0 1152.4,572.6 1152.7,574.6 1153.1,571.9 1153.4,571.4 1153.8,572.4 1154.2,575.1 1154.5,571.4 1154.9,571.4 1155.2,572.7 1155.6,570.4 1156.0,568.6 1156.3,571.9 1156.7,570.9 1157.1,572.0 1157.4,571.6 1157.8,572.2 1158.1,569.3 1158.5,571.7 1158.9,569.4 1159.2,571.6 1159.6,570.1 1160.0,573.8 1160.3,569.1 1160.7,566.6 1161.0,570.7 1161.4,569.6 1161.8,568.8 1162.1,570.8 1162.5,573.3 1162.8,570.1 1163.2,569.1 1163.6,572.7 1163.9,572.2 1164.3,570.0 1164.7,569.1 1165.0,571.2 1165.4,568.5 1165.7,568.5 1166.1,568.1 1166.5,570.5 1166.8,572.1 1167.2,569.4 1167.6,572.4 1167.9,565.7 1168.3,569.1 1168.6,566.0 1169.0,570.6 1169.4,571.2 1169.7,565.6 1170.1,567.2 1170.5,568.4 1170.8,565.6 1171.2,566.7 1171.5,566.3 1171.9,568.1 1172.3,566.3 1172.6,565.5 1173.0,566.1 1173.3,567.3 1173.7,567.4 1174.1,566.8 1174.4,569.1 1174.8,566.3 1175.2,567.0 1175.5,567.7 1175.9,565.9 1176.2,568.9 1176.6,567.8 1177.0,567.7 1177.3,564.6 1177.7,565.9 1178.1,567.1 1178.4,567.9 1178.8,564.7 1179.1,564.8 1179.5,563.5 1179.9,563.1 1180.2,567.6 1180.6,565.5 1181.0,566.5 1181.3,567.4 1181.7,565.5 1182.0,565.8 1182.4,563.7 1182.8,564.4 1183.1,566.3 1183.5,568.0 1183.8,567.4 1184.2,564.3 1184.6,564.3 1184.9,566.9 1185.3,566.7 1185.7,566.9 1186.0,566.5 1186.4,568.4 1186.7,566.7 1187.1,568.8 1187.5,567.4 1187.8,566.6 1188.2,564.8 1188.6,567.5 1188.9,568.7 1189.3,567.5 1189.6,565.8 1190.0,564.4 1190.4,567.5 1190.7,571.2 1191.1,566.1 1191.4,567.4 1191.8,568.8 1192.2,570.4 1192.5,567.1 1192.9,569.0 1193.3,569.6 1193.6,567.3 1194.0,570.4 1194.3,568.2 1194.7,570.4 1195.1,571.4 1195.4,570.7 1195.8,568.6 1196.2,572.1 1196.5,572.4 1196.9,571.6 1197.2,572.9 1197.6,570.7 1198.0,570.1 1198.3,571.5 1198.7,573.0 1199.0,573.9 1199.4,571.2 1199.8,572.9 1200.1,573.0 1200.5,572.1 1200.9,569.5 1201.2,570.2 1201.6,574.9 1201.9,570.6 1202.3,570.2 1202.7,571.0 1203.0,572.9 1203.4,575.9 1203.8,574.5 1204.1,573.1 1204.5,573.4 1204.8,574.8 1205.2,574.3 1205.6,571.2 1205.9,576.4 1206.3,576.0 1206.7,572.6 1207.0,574.2 1207.4,575.4 1207.7,575.2 1208.1,574.2 1208.5,575.0 1208.8,578.1 1209.2,574.6 1209.5,576.9 1209.9,575.8 1210.3,573.3 1210.6,576.5 1211.0,576.1 1211.4,577.4 1211.7,578.1 1212.1,577.3 1212.4,576.2 1212.8,576.6 1213.2,577.3 1213.5,574.4 1213.9,574.1 1214.3,577.3 1214.6,574.0 1215.0,575.5 1215.3,579.2 1215.7,577.8 1216.1,578.4 1216.4,576.2 1216.8,578.2 1217.1,574.7 1217.5,574.8 1217.9,576.0 1218.2,575.2 1218.6,578.7 1219.0,576.3 1219.3,574.6 1219.7,578.2 1220.0,577.9 1220.4,578.8 1220.8,574.6 1221.1,575.3 1221.5,572.9 1221.9,577.5 1222.2,576.8 1222.6,575.9 1222.9,579.3 1223.3,575.6 1223.7,576.1 1224.0,575.4 1224.4,575.2 1224.8,577.0 1225.1,576.8 1225.5,576.5 1225.8,575.2 1226.2,574.8 1226.6,576.1 1226.9,577.1 1227.3,575.8 1227.6,576.6 1228.0,576.7 1228.4,575.6 1228.7,574.7 1229.1,577.2 1229.5,580.3 1229.8,578.4 1230.2,577.4 1230.5,576.4 1230.9,576.5 1231.3,579.4 1231.6,575.6 1232.0,580.8 1232.4,577.8 1232.7,578.2 1233.1,577.1 1233.4,579.3 1233.8,579.3 1234.2,576.2 1234.5,580.7 1234.9,577.8 1235.2,574.7 1235.6,578.3 1236.0,578.0 1236.3,577.6 1236.7,578.7 1237.1,578.9 1237.4,574.8 1237.8,576.4 1238.1,576.3 1238.5,576.6 1238.9,573.3 1239.2,576.9 1239.6,576.5 1240.0,579.7 1240.3,574.6 1240.7,575.1 1241.0,576.7 1241.4,575.7 1241.8,577.3 1242.1,577.7 1242.5,573.8 1242.9,575.5 1243.2,576.4 1243.6,573.7 1243.9,578.9 1244.3,575.3 1244.7,574.9 1245.0,571.8 1245.4,573.0 1245.7,570.6 1246.1,575.1 1246.5,572.3 1246.8,573.6 1247.2,573.8 1247.6,573.3 1247.9,572.1 1248.3,573.9 1248.6,570.5 1249.0,568.9 1249.4,569.2 1249.7,573.0 1250.1,573.8 1250.5,569.6 1250.8,569.4 1251.2,570.8 1251.5,567.4 1251.9,568.7 1252.3,566.7 1252.6,569.0 1253.0,563.6 1253.3,565.2 1253.7,564.4 1254.1,566.9 1254.4,567.4 1254.8,566.0 1255.2,569.5 1255.5,565.4 1255.9,563.1 1256.2,563.4 1256.6,565.1 1257.0,564.2 1257.3,566.8 1257.7,562.9 1258.1,560.6 1258.4,559.8 1258.8,562.7 1259.1,556.0 1259.5,561.1 1259.9,561.5 1260.2,558.9 1260.6,559.9 1261.0,561.5 1261.3,561.6 1261.7,561.2 1262.0,560.2 1262.4,557.9 1262.8,555.7 1263.1,554.0 1263.5,560.9 1263.8,559.5 1264.2,555.3 1264.6,559.6 1264.9,556.7 1265.3,556.4 1265.7,555.1 1266.0,561.1 1266.4,555.0 1266.7,555.6 1267.1,559.0 1267.5,559.5 1267.8,559.2 1268.2,556.7 1268.6,558.6 1268.9,557.7 1269.3,558.7 1269.6,563.3 1270.0,561.0 1270.4,562.2 1270.7,559.5 1271.1,560.5 1271.5,562.7 1271.8,564.4 1272.2,562.2 1272.5,565.4 1272.9,567.4 1273.3,560.1 1273.6,563.5 1274.0,564.7 1274.3,563.1 1274.7,566.6 1275.1,563.6 1275.4,563.9 1275.8,560.2 1276.2,564.5 1276.5,561.8 1276.9,562.8 1277.2,561.0 1277.6,559.8 1278.0,560.4 1278.3,557.8 1278.7,559.1 1279.1,560.9 1279.4,559.9 1279.8,555.9 1280.1,558.5 1280.5,555.6 1280.9,554.5 1281.2,556.1 1281.6,555.7 1281.9,552.7 1282.3,554.9 1282.7,552.6 1283.0,556.0 1283.4,548.9 1283.8,550.7 1284.1,550.1 1284.5,548.7 1284.8,547.4 1285.2,551.7 1285.6,549.8 1285.9,546.5 1286.3,547.9 1286.7,548.1 1287.0,549.3 1287.4,547.0 1287.7,551.6 1288.1,549.1 1288.5,551.9 1288.8,550.7 1289.2,549.5 1289.5,550.1 1289.9,551.6 1290.3,551.5 1290.6,552.2 1291.0,553.7 1291.4,555.1 1291.7,551.7 1292.1,551.1 1292.4,553.0 1292.8,557.6 1293.2,555.6 1293.5,555.5 1293.9,558.0 1294.3,559.5 1294.6,556.8 1295.0,557.6 1295.3,559.9 1295.7,560.4 1296.1,559.7 1296.4,565.7 1296.8,564.4 1297.2,562.3 1297.5,564.3 1297.9,561.2 1298.2,565.4 1298.6,563.7 1299.0,563.1 1299.3,562.1 1299.7,566.5 1300.0,565.6 1300.4,564.8 1300.8,568.0 1301.1,566.0 1301.5,567.2 1301.9,566.1 1302.2,568.0 1302.6,565.6 1302.9,567.2 1303.3,568.3 1303.7,567.1 1304.0,567.9 1304.4,570.4 1304.8,568.5 1305.1,571.5 1305.5,570.6 1305.8,570.2 1306.2,567.7 1306.6,573.4 1306.9,573.6 1307.3,571.7 1307.6,571.5 1308.0,571.4 1308.4,570.8 1308.7,571.3 1309.1,572.6 1309.5,569.4 1309.8,572.2 1310.2,573.1 1310.5,569.4 1310.9,571.5 1311.3,570.0 1311.6,570.2 1312.0,574.0 1312.4,570.8 1312.7,577.8 1313.1,572.9 1313.4,571.9 1313.8,572.9 1314.2,573.5 1314.5,574.2 1314.9,574.3 1315.3,574.4 1315.6,575.9 1316.0,576.1 1316.3,574.2 1316.7,574.8 1317.1,572.8 1317.4,573.1 1317.8,573.6 1318.1,576.8 1318.5,573.2 1318.9,574.9 1319.2,574.8 1319.6,576.1 1320.0,573.8 1320.3,574.2 1320.7,576.9 1321.0,575.4 1321.4,574.0 1321.8,577.1 1322.1,575.2 1322.5,574.1 1322.9,576.9 1323.2,578.4 1323.6,574.6 1323.9,573.6 1324.3,571.2 1324.7,578.8 1325.0,574.6 1325.4,574.9 1325.8,573.7 1326.1,575.2 1326.5,573.7 1326.8,578.2 1327.2,576.7 1327.6,574.4 1327.9,573.1 1328.3,576.3 1328.6,573.7 1329.0,577.6 1329.4,575.7 1329.7,575.2 1330.1,573.0 1330.5,575.3 1330.8,572.4 1331.2,576.7 1331.5,570.9 1331.9,573.7 1332.3,578.4 1332.6,573.2 1333.0,575.3 1333.4,575.7 1333.7,574.3 1334.1,573.3 1334.4,575.2 1334.8,575.3 1335.2,572.2 1335.5,576.1 1335.9,575.4 1336.2,571.1 1336.6,573.7 1337.0,573.7 1337.3,572.7 1337.7,571.3 1338.1,570.2 1338.4,573.3 1338.8,569.4 1339.1,571.3 1339.5,568.8 1339.9,571.0 1340.2,572.5 1340.6,569.6 1341.0,573.6 1341.3,573.9 1341.7,573.0 1342.0,573.4 1342.4,574.8 1342.8,573.4 1343.1,568.9 1343.5,571.7 1343.8,570.5 1344.2,572.1 1344.6,569.0 1344.9,572.1 1345.3,571.5 1345.7,573.0 1346.0,570.2 1346.4,571.6 1346.7,568.2 1347.1,571.7 1347.5,571.9 1347.8,569.7 1348.2,572.0 1348.6,569.6 1348.9,572.9 1349.3,570.6 1349.6,571.3 1350.0,575.0 1350.4,573.2 1350.7,575.0 1351.1,574.1 1351.5,572.0 1351.8,575.0 1352.2,572.6 1352.5,572.2 1352.9,571.4 1353.3,570.0 1353.6,573.1 1354.0,571.7 1354.3,572.9 1354.7,571.8 1355.1,573.1 1355.4,570.9 1355.8,572.4 1356.2,573.8 1356.5,574.3 1356.9,571.9 1357.2,570.2 1357.6,574.6 1358.0,574.1 1358.3,570.7 1358.7,574.2 1359.1,572.9 1359.4,570.4 1359.8,572.3 1360.1,569.9 1360.5,571.5 1360.9,571.4 1361.2,572.2 1361.6,574.3 1362.0,569.8 1362.3,567.3 1362.7,573.8 1363.0,572.1 1363.4,574.3 1363.8,574.0 1364.1,575.6 1364.5,569.1 1364.8,575.5 1365.2,572.7 1365.6,571.9 1365.9,575.7 1366.3,575.1 1366.7,570.5 1367.0,572.0 1367.4,575.8 1367.7,570.7 1368.1,573.9 1368.5,574.2 1368.8,573.0 1369.2,572.3 1369.6,574.6 1369.9,572.9 1370.3,571.5 1370.6,574.4 1371.0,570.6"/>
</g>
<g font-size="65.5"><text x="104.6" y="1123.6" text-anchor="middle">10</text><text x="285.6" y="1123.6" text-anchor="middle">20</text><text x="466.6" y="1123.6" text-anchor="middle">30</text><text x="647.6" y="1123.6" text-anchor="middle">40</text><text x="828.6" y="1123.6" text-anchor="middle">50</text><text x="1009.6" y="1123.6" text-anchor="middle">60</text><text x="1190.6" y="1123.6" text-anchor="middle">70</text><text x="1371.6" y="1123.6" text-anchor="middle">80</text></g>
<text x="736.5" y="1204" text-anchor="middle" font-size="67.6" xml:space="preserve">2θ  (degree)</text>
<text transform="translate(69,511.6) rotate(-90)" text-anchor="middle" font-size="66.9">Intensity (a.u.)</text>
<text transform="translate(289.8,531.7) rotate(-90)" font-size="48">B(002)</text><text transform="translate(393.8,445.5) rotate(-90)" font-size="48">A(101)</text><text transform="translate(473.1,220.5) rotate(-90)" font-size="48">B(102)</text><text transform="translate(514.2,220.8) rotate(-90)" font-size="48">B(110)</text><text transform="translate(613.9,516.5) rotate(-90)" font-size="48">A(004)</text><text transform="translate(757.1,448.3) rotate(-90)" font-size="48">B(200)</text><text transform="translate(811.9,508.5) rotate(-90)" font-size="48">A(200)</text><text transform="translate(867,512.8) rotate(-90)" font-size="48">B(114)</text><text transform="translate(933,430.2) rotate(-90)" font-size="48">B(212)</text><text transform="translate(1076.2,546.9) rotate(-90)" font-size="48">A(204)</text><text transform="translate(1136,536.5) rotate(-90)" font-size="48">B(220)</text><text transform="translate(1203.3,553.1) rotate(-90)" font-size="48">R(301)</text><text transform="translate(1292.5,548) rotate(-90)" font-size="48">B(310)</text><text transform="translate(454.2,937.0) rotate(-90)" font-size="48">R(110)</text><text transform="translate(580.2,972.0) rotate(-90)" font-size="48">R(101)</text><text transform="translate(929.6,927.3) rotate(-90)" font-size="48">R(211)</text>
<line x1="1061" y1="74" x2="1177" y2="74" stroke="#6a00d6" stroke-width="6.2" shape-rendering="crispEdges"/><line x1="1061" y1="149" x2="1177" y2="149" stroke="#ee8027" stroke-width="6.2" shape-rendering="crispEdges"/><line x1="1061" y1="220.9" x2="1177" y2="220.9" stroke="#fa0000" stroke-width="6.2" shape-rendering="crispEdges"/><line x1="1061" y1="293" x2="1177" y2="293" stroke="#000000" stroke-width="6.2" shape-rendering="crispEdges"/>
<text x="1206" y="95" font-size="57.3">TiO<tspan font-size="38">2</tspan></text><text x="1206" y="170.1" font-size="57.3">T/B-1</text><text x="1206" y="241.6" font-size="57.3">T/B-2</text><text x="1206" y="312.5" font-size="57.3">T/B-3</text>
<text x="702" y="97.3" font-size="58.6">A - anatase</text><text x="702" y="168" font-size="58.6">B - BiOI</text><text x="702" y="240" font-size="58.6">R - Rutile</text>
</svg>
</body></html>
